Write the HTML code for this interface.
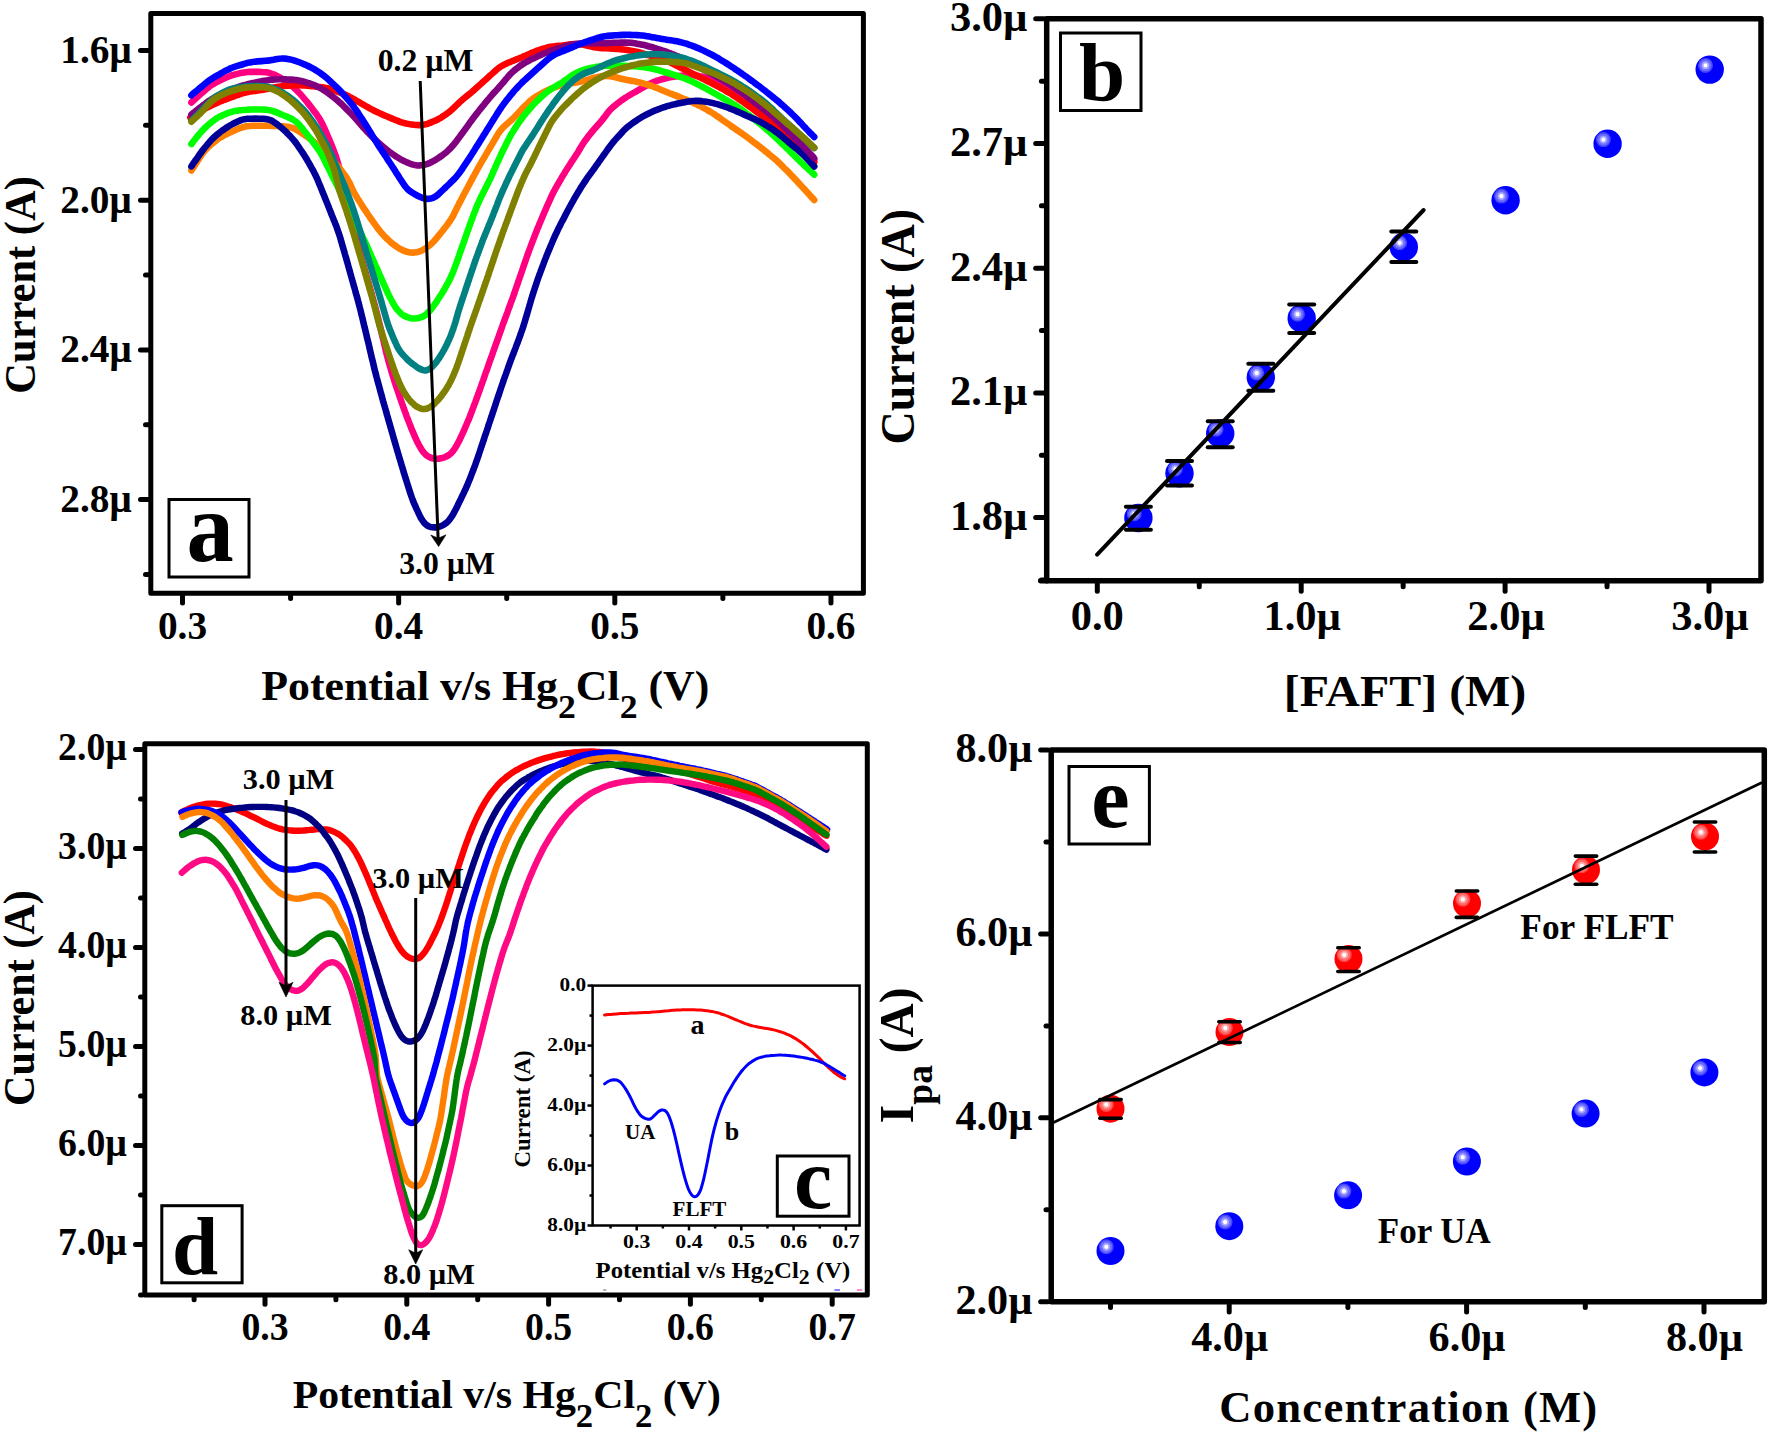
<!DOCTYPE html>
<html><head><meta charset="utf-8"><title>Figure</title>
<style>
html,body{margin:0;padding:0;background:#fff;}
svg{display:block;}
svg text{font-family:"Liberation Serif",serif;font-weight:bold;fill:#000;}
</style></head><body>
<svg width="1770" height="1436" viewBox="0 0 1770 1436">
<rect width="1770" height="1436" fill="#fff"/>
<path d="M191.4 102.4C191.9 101.9 193.3 100.6 194.3 99.7C195.3 98.8 196.3 97.9 197.3 97.0C198.3 96.1 199.3 95.3 200.3 94.4C201.3 93.5 202.3 92.6 203.3 91.7C204.3 90.8 205.3 89.9 206.3 89.1C207.3 88.2 208.3 87.4 209.4 86.6C210.5 85.8 211.5 85.1 212.7 84.4C213.8 83.7 215.0 83.0 216.1 82.4C217.3 81.8 218.5 81.2 219.7 80.6C220.9 80.0 222.1 79.4 223.3 78.8C224.5 78.3 225.7 77.7 226.9 77.2C228.1 76.7 229.4 76.2 230.6 75.8C231.9 75.3 233.2 75.0 234.4 74.6C235.7 74.3 237.0 73.9 238.3 73.6C239.6 73.3 240.9 73.0 242.2 72.8C243.5 72.5 244.8 72.3 246.1 72.2C247.4 72.1 248.8 72.0 250.1 71.9C251.4 71.9 252.8 71.9 254.1 71.9C255.4 71.9 256.8 71.9 258.1 71.9C259.4 71.9 260.8 71.9 262.1 72.0C263.4 72.0 264.7 72.1 266.0 72.3C267.3 72.5 268.6 72.8 269.8 73.1C271.1 73.5 272.3 74.0 273.6 74.4C274.8 74.9 276.0 75.5 277.2 76.1C278.4 76.6 279.5 77.3 280.7 78.0C281.8 78.6 282.9 79.4 284.0 80.2C285.1 80.9 286.1 81.7 287.2 82.5C288.3 83.3 289.4 84.1 290.4 84.9C291.5 85.7 292.5 86.5 293.5 87.4C294.5 88.3 295.5 89.1 296.5 90.1C297.4 91.0 298.3 91.9 299.2 92.9C300.1 93.9 301.0 94.9 301.9 95.9C302.8 96.9 303.6 97.9 304.5 99.0C305.3 100.0 306.2 101.0 307.1 102.0C307.9 103.1 308.7 104.1 309.5 105.1C310.4 106.2 311.2 107.3 312.0 108.3C312.8 109.4 313.6 110.4 314.4 111.5C315.2 112.6 316.0 113.6 316.8 114.7C317.5 115.8 318.3 116.9 319.0 118.0C319.7 119.1 320.4 120.3 321.0 121.4C321.7 122.6 322.3 123.8 322.8 125.0C323.4 126.2 323.9 127.4 324.5 128.6C325.0 129.8 325.6 131.1 326.1 132.3C326.6 133.5 327.2 134.7 327.7 136.0C328.2 137.2 328.8 138.4 329.3 139.6C329.8 140.9 330.3 142.1 330.8 143.3C331.3 144.6 331.8 145.8 332.3 147.0C332.8 148.3 333.3 149.5 333.8 150.8C334.2 152.0 334.7 153.2 335.2 154.5C335.6 155.7 336.1 157.0 336.5 158.3C336.9 159.5 337.3 160.8 337.7 162.1C338.0 163.4 338.3 164.7 338.7 166.0C339.0 167.2 339.3 168.5 339.6 169.8C340.0 171.1 340.3 172.4 340.6 173.7C340.9 175.0 341.2 176.3 341.6 177.6C341.9 178.9 342.2 180.2 342.5 181.5C342.9 182.8 343.2 184.1 343.5 185.4C343.8 186.6 344.2 187.9 344.5 189.2C344.8 190.5 345.2 191.8 345.5 193.1C345.9 194.4 346.2 195.7 346.6 197.0C346.9 198.2 347.3 199.5 347.7 200.8C348.0 202.1 348.4 203.4 348.7 204.7C349.1 205.9 349.4 207.2 349.8 208.5C350.1 209.8 350.5 211.1 350.8 212.4C351.1 213.7 351.5 215.0 351.8 216.3C352.1 217.6 352.4 218.9 352.7 220.1C353.1 221.4 353.4 222.7 353.7 224.0C354.0 225.3 354.3 226.6 354.6 227.9C355.0 229.2 355.3 230.5 355.6 231.8C355.9 233.1 356.2 234.4 356.5 235.7C356.8 237.0 357.1 238.3 357.4 239.6C357.6 240.9 357.9 242.2 358.2 243.5C358.5 244.8 358.8 246.1 359.1 247.4C359.4 248.7 359.7 250.0 359.9 251.3C360.2 252.6 360.5 253.9 360.9 255.2C361.2 256.5 361.5 257.8 361.8 259.1C362.2 260.4 362.5 261.7 362.9 263.0C363.2 264.2 363.6 265.5 364.0 266.8C364.3 268.1 364.7 269.4 365.0 270.7C365.4 271.9 365.8 273.2 366.1 274.5C366.5 275.8 366.9 277.1 367.2 278.4C367.6 279.6 368.0 280.9 368.3 282.2C368.7 283.5 369.0 284.8 369.4 286.1C369.8 287.3 370.1 288.6 370.5 289.9C370.8 291.2 371.2 292.5 371.6 293.8C371.9 295.0 372.3 296.3 372.6 297.6C373.0 298.9 373.3 300.2 373.7 301.5C374.1 302.7 374.4 304.0 374.8 305.3C375.1 306.6 375.4 307.9 375.8 309.2C376.1 310.5 376.4 311.8 376.8 313.1C377.1 314.4 377.4 315.6 377.8 316.9C378.1 318.2 378.4 319.5 378.7 320.8C379.0 322.1 379.4 323.4 379.7 324.7C380.0 326.0 380.3 327.3 380.6 328.6C380.9 329.9 381.2 331.2 381.5 332.5C381.8 333.8 382.1 335.1 382.4 336.4C382.8 337.7 383.1 339.0 383.4 340.3C383.7 341.6 384.0 342.9 384.3 344.2C384.6 345.5 384.9 346.8 385.2 348.1C385.5 349.4 385.8 350.7 386.1 352.0C386.4 353.2 386.7 354.5 387.1 355.8C387.4 357.1 387.8 358.4 388.1 359.7C388.5 361.0 388.8 362.3 389.2 363.5C389.6 364.8 389.9 366.1 390.3 367.4C390.7 368.7 391.1 369.9 391.4 371.2C391.8 372.5 392.2 373.8 392.6 375.1C393.0 376.3 393.4 377.6 393.8 378.9C394.2 380.1 394.6 381.4 395.0 382.7C395.4 384.0 395.8 385.2 396.2 386.5C396.7 387.7 397.1 389.0 397.5 390.3C397.9 391.5 398.4 392.8 398.8 394.1C399.2 395.3 399.6 396.6 400.1 397.9C400.5 399.1 401.0 400.4 401.4 401.6C401.8 402.9 402.3 404.1 402.7 405.4C403.2 406.7 403.6 407.9 404.1 409.2C404.5 410.4 405.0 411.7 405.5 412.9C405.9 414.2 406.4 415.4 406.8 416.7C407.3 417.9 407.8 419.2 408.3 420.4C408.7 421.7 409.2 422.9 409.7 424.1C410.2 425.4 410.7 426.6 411.2 427.9C411.7 429.1 412.2 430.3 412.7 431.6C413.2 432.8 413.7 434.0 414.3 435.2C414.8 436.5 415.4 437.7 415.9 438.9C416.5 440.1 417.1 441.3 417.6 442.5C418.2 443.7 418.8 444.9 419.5 446.0C420.1 447.2 420.8 448.4 421.5 449.5C422.2 450.6 423.0 451.6 423.8 452.6C424.7 453.6 425.6 454.5 426.6 455.3C427.6 456.1 428.7 456.8 429.8 457.3C431.0 457.9 432.2 458.3 433.4 458.5C434.7 458.8 436.0 458.9 437.3 458.8C438.5 458.8 439.8 458.6 441.1 458.3C442.4 458.1 443.6 457.7 444.8 457.2C446.0 456.7 447.2 456.1 448.3 455.4C449.4 454.7 450.4 453.9 451.3 453.0C452.2 452.1 453.0 451.1 453.8 450.0C454.6 449.0 455.2 447.9 455.9 446.7C456.6 445.6 457.2 444.4 457.8 443.2C458.5 442.1 459.1 440.9 459.7 439.7C460.3 438.5 460.8 437.3 461.4 436.1C462.0 434.9 462.5 433.7 463.1 432.4C463.6 431.2 464.2 430.0 464.7 428.8C465.2 427.6 465.8 426.3 466.3 425.1C466.8 423.9 467.3 422.7 467.8 421.4C468.4 420.2 468.9 419.0 469.4 417.7C469.9 416.5 470.4 415.3 470.8 414.0C471.3 412.8 471.8 411.5 472.3 410.3C472.7 409.0 473.2 407.8 473.7 406.5C474.1 405.3 474.6 404.0 475.1 402.8C475.5 401.5 476.0 400.3 476.5 399.0C476.9 397.8 477.4 396.5 477.8 395.3C478.3 394.0 478.7 392.8 479.2 391.5C479.6 390.2 480.1 389.0 480.5 387.7C481.0 386.5 481.4 385.2 481.8 384.0C482.3 382.7 482.7 381.4 483.2 380.2C483.6 378.9 484.1 377.7 484.5 376.4C484.9 375.2 485.4 373.9 485.8 372.6C486.3 371.4 486.7 370.1 487.2 368.9C487.6 367.6 488.1 366.4 488.5 365.1C488.9 363.8 489.4 362.6 489.8 361.3C490.3 360.1 490.7 358.8 491.2 357.6C491.6 356.3 492.1 355.0 492.5 353.8C492.9 352.5 493.4 351.3 493.8 350.0C494.3 348.8 494.7 347.5 495.2 346.3C495.6 345.0 496.1 343.7 496.5 342.5C497.0 341.2 497.4 340.0 497.9 338.7C498.3 337.5 498.8 336.2 499.2 334.9C499.6 333.7 500.1 332.4 500.5 331.2C501.0 329.9 501.4 328.7 501.9 327.4C502.3 326.1 502.8 324.9 503.2 323.6C503.7 322.4 504.1 321.1 504.6 319.9C505.0 318.6 505.5 317.4 506.0 316.1C506.4 314.9 506.9 313.6 507.4 312.4C507.8 311.1 508.3 309.9 508.7 308.6C509.2 307.4 509.7 306.1 510.1 304.9C510.6 303.6 511.0 302.4 511.5 301.1C512.0 299.9 512.4 298.6 512.9 297.4C513.3 296.1 513.8 294.8 514.2 293.6C514.6 292.3 515.1 291.1 515.5 289.8C515.9 288.5 516.4 287.3 516.8 286.0C517.2 284.8 517.7 283.5 518.1 282.2C518.5 281.0 518.9 279.7 519.4 278.4C519.8 277.2 520.2 275.9 520.7 274.7C521.1 273.4 521.5 272.1 522.0 270.9C522.4 269.6 522.8 268.4 523.3 267.1C523.7 265.8 524.2 264.6 524.6 263.3C525.0 262.1 525.5 260.8 525.9 259.5C526.4 258.3 526.8 257.0 527.2 255.8C527.7 254.5 528.1 253.3 528.6 252.0C529.0 250.8 529.5 249.5 530.0 248.3C530.4 247.0 530.9 245.8 531.4 244.5C531.9 243.3 532.3 242.0 532.8 240.8C533.3 239.5 533.8 238.3 534.2 237.0C534.7 235.8 535.2 234.5 535.7 233.3C536.2 232.1 536.7 230.8 537.1 229.6C537.6 228.3 538.2 227.1 538.7 225.9C539.2 224.7 539.7 223.4 540.2 222.2C540.7 221.0 541.2 219.7 541.8 218.5C542.3 217.3 542.8 216.1 543.3 214.8C543.8 213.6 544.4 212.4 544.9 211.1C545.4 209.9 546.0 208.7 546.5 207.5C547.0 206.3 547.6 205.0 548.1 203.8C548.7 202.6 549.2 201.4 549.7 200.2C550.3 199.0 550.8 197.7 551.4 196.5C552.0 195.3 552.5 194.1 553.1 192.9C553.7 191.7 554.4 190.6 555.0 189.4C555.6 188.2 556.3 187.1 556.9 185.9C557.6 184.7 558.3 183.6 558.9 182.4C559.6 181.3 560.3 180.1 561.0 179.0C561.6 177.8 562.3 176.7 563.0 175.6C563.7 174.4 564.4 173.3 565.1 172.1C565.8 171.0 566.5 169.9 567.2 168.7C567.9 167.6 568.6 166.5 569.3 165.4C570.1 164.2 570.8 163.1 571.5 162.0C572.2 160.9 573.0 159.8 573.7 158.7C574.5 157.6 575.2 156.4 575.9 155.3C576.6 154.2 577.4 153.1 578.1 152.0C578.8 150.8 579.4 149.7 580.1 148.5C580.8 147.4 581.5 146.2 582.2 145.1C582.9 144.0 583.6 142.9 584.3 141.8C585.1 140.7 585.9 139.6 586.7 138.6C587.5 137.5 588.3 136.4 589.1 135.4C589.9 134.3 590.8 133.3 591.6 132.2C592.4 131.2 593.3 130.2 594.2 129.2C595.0 128.2 595.9 127.2 596.8 126.2C597.7 125.2 598.6 124.2 599.5 123.2C600.3 122.2 601.2 121.2 602.1 120.1C602.9 119.1 603.7 118.1 604.5 117.0C605.3 115.9 606.1 114.9 606.9 113.8C607.7 112.8 608.5 111.7 609.4 110.7C610.3 109.8 611.2 108.8 612.2 107.9C613.1 107.0 614.2 106.2 615.2 105.3C616.2 104.5 617.3 103.7 618.3 102.8C619.4 102.0 620.4 101.2 621.5 100.4C622.6 99.6 623.7 98.9 624.8 98.1C625.9 97.4 627.0 96.7 628.2 96.0C629.3 95.3 630.5 94.7 631.6 94.0C632.8 93.3 633.9 92.7 635.1 92.0C636.2 91.3 637.4 90.7 638.6 90.0C639.7 89.4 640.9 88.7 642.0 88.0C643.2 87.4 644.3 86.7 645.5 86.1C646.7 85.4 647.8 84.8 649.0 84.2C650.2 83.6 651.4 83.0 652.6 82.5C653.8 81.9 655.1 81.5 656.3 81.0C657.6 80.6 658.8 80.2 660.1 79.8C661.4 79.5 662.7 79.1 664.0 78.8C665.3 78.5 666.6 78.2 667.9 77.9C669.2 77.6 670.5 77.3 671.8 77.1C673.1 76.8 674.4 76.6 675.7 76.4C677.0 76.2 678.3 76.0 679.7 75.9C681.0 75.7 682.3 75.6 683.6 75.5C685.0 75.4 686.3 75.4 687.6 75.3C689.0 75.3 690.3 75.2 691.6 75.3C692.9 75.3 694.3 75.4 695.6 75.6C696.9 75.7 698.2 75.9 699.5 76.1C700.8 76.4 702.1 76.6 703.4 76.9C704.7 77.1 706.0 77.4 707.3 77.8C708.6 78.1 709.9 78.5 711.1 78.9C712.4 79.4 713.6 79.9 714.8 80.4C716.1 80.9 717.3 81.4 718.5 81.9C719.7 82.5 721.0 83.0 722.2 83.6C723.4 84.1 724.6 84.7 725.8 85.3C727.0 85.9 728.1 86.5 729.3 87.1C730.5 87.8 731.6 88.4 732.8 89.1C734.0 89.7 735.1 90.4 736.3 91.0C737.5 91.7 738.6 92.4 739.8 93.0C740.9 93.7 742.0 94.4 743.2 95.1C744.3 95.8 745.4 96.6 746.5 97.3C747.6 98.1 748.7 98.8 749.8 99.6C750.9 100.3 752.0 101.1 753.1 101.8C754.2 102.6 755.3 103.4 756.4 104.1C757.5 104.9 758.5 105.7 759.6 106.5C760.7 107.3 761.8 108.0 762.8 108.8C763.9 109.6 765.0 110.4 766.0 111.2C767.1 112.0 768.2 112.8 769.2 113.6C770.3 114.5 771.3 115.3 772.4 116.1C773.4 117.0 774.4 117.8 775.4 118.7C776.4 119.6 777.4 120.5 778.3 121.4C779.3 122.4 780.2 123.3 781.2 124.2C782.1 125.2 783.1 126.1 784.0 127.1C784.9 128.0 785.9 128.9 786.8 129.9C787.8 130.8 788.7 131.8 789.6 132.8C790.5 133.7 791.4 134.7 792.3 135.7C793.2 136.7 794.1 137.7 795.0 138.7C795.9 139.7 796.8 140.7 797.6 141.7C798.5 142.7 799.4 143.7 800.3 144.7C801.2 145.7 802.0 146.7 802.9 147.7C803.8 148.7 804.7 149.7 805.6 150.7C806.5 151.7 807.3 152.7 808.2 153.7C809.1 154.7 810.0 155.6 810.9 156.6C811.8 157.6 813.0 159.0 813.6 159.6C814.1 160.2 814.1 160.2 814.2 160.3" fill="none" stroke="#ff0080" stroke-width="6.6" stroke-linecap="round" stroke-linejoin="round"/>
<path d="M190.3 117.6C190.9 117.3 192.6 116.2 193.7 115.5C194.9 114.8 196.0 114.1 197.1 113.4C198.3 112.7 199.4 112.0 200.5 111.3C201.7 110.6 202.8 109.9 204.0 109.2C205.1 108.6 206.3 107.9 207.5 107.3C208.6 106.7 209.8 106.1 211.0 105.6C212.2 105.0 213.5 104.5 214.7 103.9C215.9 103.4 217.1 102.9 218.4 102.3C219.6 101.8 220.8 101.3 222.0 100.8C223.3 100.3 224.5 99.8 225.8 99.3C227.0 98.9 228.3 98.4 229.5 97.9C230.8 97.5 232.0 97.0 233.3 96.6C234.5 96.1 235.8 95.6 237.0 95.2C238.3 94.8 239.5 94.3 240.8 93.9C242.1 93.5 243.3 93.1 244.6 92.8C245.9 92.4 247.2 92.1 248.5 91.9C249.8 91.6 251.1 91.4 252.4 91.2C253.8 91.0 255.1 90.9 256.4 90.7C257.7 90.5 259.0 90.3 260.4 90.1C261.7 89.9 263.0 89.8 264.3 89.5C265.6 89.3 266.9 89.1 268.2 88.8C269.5 88.6 270.8 88.3 272.1 88.0C273.4 87.7 274.7 87.4 276.0 87.1C277.3 86.9 278.7 86.6 280.0 86.4C281.3 86.2 282.6 86.1 283.9 86.0C285.2 85.8 286.6 85.8 287.9 85.7C289.2 85.6 290.6 85.5 291.9 85.5C293.2 85.4 294.6 85.3 295.9 85.3C297.2 85.3 298.6 85.3 299.9 85.3C301.2 85.4 302.5 85.4 303.9 85.5C305.2 85.6 306.5 85.7 307.9 85.8C309.2 85.9 310.5 86.0 311.8 86.1C313.2 86.3 314.5 86.4 315.8 86.6C317.1 86.7 318.5 86.9 319.8 87.0C321.1 87.2 322.4 87.4 323.7 87.6C325.1 87.8 326.4 88.0 327.7 88.3C328.9 88.6 330.2 89.0 331.5 89.4C332.8 89.8 334.0 90.2 335.3 90.6C336.5 91.1 337.8 91.6 339.0 92.1C340.2 92.5 341.5 93.0 342.7 93.6C343.9 94.1 345.1 94.6 346.3 95.2C347.5 95.8 348.7 96.4 349.9 97.1C351.0 97.7 352.2 98.3 353.4 99.0C354.5 99.6 355.7 100.3 356.9 101.0C358.0 101.6 359.2 102.3 360.3 102.9C361.5 103.6 362.6 104.3 363.8 104.9C365.0 105.6 366.1 106.3 367.3 106.9C368.4 107.6 369.6 108.2 370.8 108.9C371.9 109.5 373.1 110.1 374.3 110.7C375.5 111.3 376.7 111.9 377.9 112.4C379.1 113.0 380.3 113.5 381.6 114.1C382.8 114.6 384.0 115.1 385.2 115.7C386.4 116.2 387.7 116.7 388.9 117.3C390.1 117.8 391.3 118.3 392.6 118.8C393.8 119.3 395.0 119.9 396.3 120.3C397.5 120.8 398.7 121.3 400.0 121.8C401.3 122.2 402.5 122.6 403.8 122.9C405.1 123.3 406.4 123.6 407.7 123.9C409.0 124.2 410.3 124.4 411.6 124.6C412.9 124.8 414.2 125.0 415.5 125.0C416.8 125.1 418.2 125.1 419.5 125.1C420.8 125.0 422.1 124.9 423.4 124.7C424.7 124.5 426.0 124.2 427.3 123.8C428.5 123.4 429.8 122.9 431.0 122.5C432.2 122.0 433.4 121.4 434.7 120.9C435.9 120.3 437.1 119.8 438.2 119.1C439.4 118.5 440.6 117.9 441.7 117.2C442.8 116.5 443.9 115.7 445.0 115.0C446.1 114.2 447.2 113.4 448.3 112.6C449.3 111.8 450.3 111.0 451.3 110.1C452.3 109.2 453.3 108.3 454.3 107.4C455.2 106.5 456.2 105.5 457.1 104.6C458.1 103.7 459.1 102.8 460.0 101.9C461.0 101.0 462.0 100.1 463.0 99.2C464.1 98.4 465.1 97.5 466.1 96.7C467.1 95.8 468.2 95.0 469.2 94.2C470.2 93.3 471.2 92.4 472.3 91.6C473.3 90.7 474.3 89.8 475.3 88.9C476.3 88.0 477.2 87.1 478.2 86.3C479.2 85.4 480.2 84.5 481.2 83.6C482.2 82.7 483.2 81.8 484.2 80.9C485.2 80.0 486.2 79.1 487.2 78.2C488.1 77.3 489.1 76.4 490.1 75.5C491.1 74.7 492.1 73.8 493.1 72.9C494.1 72.0 495.1 71.1 496.1 70.2C497.1 69.4 498.1 68.5 499.2 67.7C500.2 67.0 501.3 66.2 502.5 65.6C503.6 64.9 504.8 64.3 506.0 63.8C507.2 63.2 508.4 62.7 509.7 62.2C510.9 61.7 512.1 61.2 513.4 60.7C514.6 60.2 515.8 59.7 517.1 59.2C518.3 58.7 519.5 58.2 520.8 57.7C522.0 57.2 523.2 56.6 524.4 56.1C525.7 55.6 526.9 55.0 528.1 54.5C529.3 54.0 530.6 53.4 531.8 52.9C533.0 52.4 534.2 51.9 535.5 51.4C536.7 50.9 538.0 50.4 539.2 50.0C540.5 49.5 541.7 49.1 543.0 48.7C544.3 48.3 545.6 48.0 546.8 47.7C548.1 47.3 549.4 47.1 550.7 46.8C552.0 46.6 553.4 46.4 554.7 46.3C556.0 46.1 557.3 46.0 558.6 45.9C560.0 45.7 561.3 45.6 562.6 45.5C563.9 45.3 565.2 45.1 566.6 44.9C567.9 44.7 569.2 44.5 570.5 44.3C571.8 44.2 573.1 44.1 574.5 44.1C575.8 44.1 577.1 44.1 578.4 44.2C579.7 44.3 581.1 44.4 582.4 44.6C583.7 44.9 585.0 45.2 586.3 45.4C587.5 45.7 588.8 46.1 590.1 46.4C591.4 46.7 592.7 47.0 594.0 47.2C595.3 47.4 596.7 47.6 598.0 47.7C599.3 47.9 600.6 48.0 601.9 48.1C603.3 48.2 604.6 48.2 605.9 48.3C607.3 48.4 608.6 48.4 609.9 48.4C611.3 48.5 612.6 48.6 613.9 48.6C615.3 48.7 616.6 48.8 617.9 49.0C619.2 49.1 620.6 49.2 621.9 49.4C623.2 49.5 624.5 49.7 625.9 49.8C627.2 50.0 628.5 50.2 629.8 50.4C631.1 50.6 632.4 50.8 633.7 51.1C635.0 51.4 636.3 51.7 637.6 52.0C638.9 52.4 640.2 52.7 641.5 53.1C642.8 53.4 644.0 53.8 645.3 54.2C646.6 54.5 647.9 54.9 649.2 55.3C650.4 55.6 651.7 56.0 653.0 56.4C654.3 56.8 655.6 57.2 656.8 57.6C658.1 58.0 659.4 58.4 660.6 58.8C661.9 59.2 663.2 59.6 664.4 60.1C665.7 60.5 666.9 61.0 668.1 61.5C669.3 62.1 670.5 62.6 671.8 63.2C673.0 63.8 674.1 64.4 675.3 65.0C676.5 65.6 677.7 66.2 678.9 66.7C680.1 67.3 681.3 67.9 682.5 68.5C683.7 69.1 684.9 69.7 686.1 70.3C687.3 70.9 688.5 71.5 689.7 72.1C690.8 72.7 692.0 73.3 693.2 73.9C694.4 74.5 695.6 75.1 696.8 75.7C698.0 76.3 699.2 76.9 700.4 77.5C701.6 78.1 702.8 78.7 704.0 79.3C705.2 79.9 706.3 80.5 707.5 81.1C708.7 81.7 709.9 82.3 711.1 82.9C712.3 83.5 713.5 84.1 714.7 84.7C715.8 85.3 717.0 85.9 718.2 86.6C719.4 87.2 720.5 87.9 721.7 88.5C722.9 89.2 724.0 89.8 725.2 90.5C726.3 91.1 727.5 91.8 728.6 92.5C729.8 93.2 730.9 93.8 732.1 94.5C733.2 95.3 734.3 96.0 735.4 96.7C736.5 97.5 737.6 98.2 738.7 99.0C739.8 99.7 740.9 100.5 742.0 101.2C743.1 102.0 744.2 102.7 745.3 103.5C746.4 104.3 747.5 105.0 748.6 105.8C749.6 106.6 750.7 107.4 751.8 108.2C752.9 109.0 753.9 109.8 755.0 110.6C756.1 111.4 757.1 112.2 758.2 113.0C759.3 113.8 760.3 114.6 761.4 115.4C762.4 116.2 763.5 117.0 764.6 117.8C765.6 118.7 766.6 119.5 767.7 120.3C768.7 121.1 769.8 122.0 770.8 122.8C771.8 123.7 772.9 124.5 773.9 125.4C774.9 126.2 776.0 127.0 777.0 127.9C778.0 128.7 779.0 129.6 780.1 130.5C781.1 131.3 782.1 132.2 783.0 133.1C784.0 134.0 785.0 134.9 786.0 135.8C787.0 136.7 787.9 137.7 788.9 138.6C789.9 139.5 790.9 140.4 791.8 141.3C792.8 142.2 793.8 143.1 794.7 144.0C795.7 144.9 796.7 145.9 797.7 146.8C798.6 147.7 799.6 148.6 800.6 149.5C801.5 150.4 802.5 151.3 803.5 152.3C804.5 153.2 805.4 154.1 806.4 155.0C807.4 155.9 808.3 156.8 809.3 157.7C810.2 158.6 811.3 159.6 812.1 160.4C813.0 161.2 813.9 162.0 814.2 162.4" fill="none" stroke="#ff0000" stroke-width="6.6" stroke-linecap="round" stroke-linejoin="round"/>
<path d="M191.4 170.5C191.7 169.9 192.8 168.3 193.5 167.2C194.3 166.0 195.0 164.9 195.7 163.8C196.4 162.7 197.2 161.6 197.9 160.4C198.6 159.3 199.3 158.2 200.1 157.1C200.8 156.0 201.6 154.9 202.3 153.8C203.1 152.7 203.9 151.7 204.8 150.7C205.7 149.7 206.6 148.8 207.5 147.8C208.5 146.9 209.5 146.0 210.5 145.1C211.5 144.3 212.5 143.4 213.5 142.6C214.5 141.7 215.6 140.9 216.6 140.1C217.7 139.3 218.8 138.5 219.9 137.8C221.0 137.1 222.2 136.4 223.3 135.8C224.5 135.2 225.7 134.6 226.9 134.0C228.1 133.4 229.3 132.8 230.5 132.2C231.7 131.7 232.9 131.1 234.1 130.6C235.3 130.0 236.5 129.5 237.8 129.0C239.0 128.5 240.2 128.0 241.5 127.6C242.7 127.1 244.0 126.8 245.3 126.5C246.5 126.2 247.8 126.1 249.2 126.0C250.5 125.8 251.8 125.8 253.1 125.8C254.4 125.8 255.8 125.8 257.1 125.8C258.4 125.8 259.8 125.8 261.1 125.8C262.4 125.8 263.8 125.8 265.1 125.8C266.4 125.8 267.8 125.8 269.1 125.8C270.4 125.8 271.8 125.9 273.1 125.9C274.4 125.9 275.8 126.0 277.1 126.0C278.4 126.1 279.8 126.2 281.1 126.2C282.4 126.3 283.8 126.4 285.1 126.5C286.4 126.6 287.7 126.7 289.0 127.0C290.3 127.2 291.5 127.6 292.7 128.0C293.9 128.5 295.1 129.1 296.2 129.7C297.4 130.3 298.5 131.0 299.6 131.7C300.7 132.4 301.9 133.2 303.0 133.9C304.1 134.6 305.2 135.3 306.3 136.1C307.4 136.8 308.5 137.6 309.6 138.4C310.7 139.1 311.7 139.9 312.7 140.8C313.8 141.6 314.7 142.5 315.7 143.4C316.7 144.3 317.6 145.3 318.6 146.2C319.5 147.2 320.5 148.1 321.4 149.0C322.4 150.0 323.3 150.9 324.2 151.9C325.2 152.8 326.1 153.8 327.1 154.7C328.0 155.6 329.0 156.6 329.9 157.5C330.8 158.5 331.8 159.4 332.7 160.4C333.6 161.3 334.6 162.3 335.4 163.3C336.3 164.3 337.2 165.3 338.1 166.3C338.9 167.3 339.7 168.4 340.5 169.4C341.3 170.5 342.1 171.6 342.9 172.6C343.7 173.7 344.5 174.8 345.3 175.9C346.1 176.9 346.8 178.0 347.5 179.2C348.2 180.3 348.8 181.5 349.4 182.6C350.0 183.8 350.5 185.0 351.0 186.2C351.6 187.5 352.1 188.7 352.7 189.9C353.3 191.1 353.9 192.2 354.6 193.4C355.2 194.5 355.9 195.7 356.6 196.8C357.3 198.0 358.0 199.1 358.7 200.2C359.4 201.4 360.1 202.5 360.8 203.6C361.6 204.7 362.3 205.8 363.0 207.0C363.7 208.1 364.5 209.2 365.2 210.3C366.0 211.4 366.7 212.5 367.4 213.6C368.2 214.7 368.9 215.8 369.7 216.9C370.4 218.0 371.2 219.1 372.0 220.2C372.7 221.3 373.5 222.4 374.3 223.5C375.0 224.6 375.8 225.7 376.6 226.7C377.4 227.8 378.2 228.9 379.0 229.9C379.8 231.0 380.6 232.0 381.5 233.0C382.4 234.0 383.3 235.0 384.2 236.0C385.1 236.9 386.1 237.9 387.0 238.8C388.0 239.7 388.9 240.6 389.9 241.5C390.9 242.4 391.9 243.3 393.0 244.1C394.0 244.9 395.1 245.7 396.2 246.4C397.3 247.2 398.4 247.9 399.6 248.6C400.7 249.2 401.9 249.9 403.1 250.4C404.3 250.9 405.5 251.4 406.8 251.7C408.0 252.1 409.3 252.4 410.6 252.5C411.9 252.6 413.2 252.6 414.5 252.5C415.7 252.4 417.0 252.2 418.3 251.8C419.5 251.5 420.7 251.0 421.9 250.5C423.1 249.9 424.2 249.2 425.3 248.5C426.5 247.8 427.5 247.0 428.5 246.2C429.6 245.4 430.6 244.5 431.5 243.6C432.5 242.7 433.4 241.7 434.3 240.8C435.2 239.8 436.1 238.8 437.0 237.7C437.8 236.7 438.6 235.7 439.5 234.6C440.3 233.6 441.1 232.6 442.0 231.5C442.8 230.5 443.6 229.4 444.4 228.4C445.2 227.3 446.1 226.2 446.9 225.2C447.7 224.1 448.5 223.1 449.2 222.0C450.0 220.9 450.7 219.8 451.4 218.7C452.1 217.5 452.8 216.4 453.4 215.2C454.0 214.0 454.6 212.8 455.2 211.6C455.8 210.4 456.3 209.2 456.9 208.0C457.5 206.8 458.1 205.6 458.7 204.4C459.3 203.2 459.9 202.1 460.5 200.9C461.1 199.7 461.7 198.5 462.4 197.3C463.0 196.2 463.6 195.0 464.2 193.8C464.9 192.6 465.5 191.5 466.1 190.3C466.7 189.1 467.4 187.9 468.0 186.8C468.6 185.6 469.3 184.4 469.9 183.2C470.5 182.1 471.1 180.9 471.8 179.7C472.4 178.5 473.0 177.4 473.7 176.2C474.3 175.0 475.0 173.8 475.6 172.7C476.2 171.5 476.9 170.3 477.5 169.2C478.2 168.0 478.8 166.9 479.5 165.7C480.2 164.5 480.8 163.4 481.5 162.2C482.1 161.1 482.8 159.9 483.5 158.8C484.2 157.6 484.8 156.5 485.5 155.3C486.2 154.2 486.9 153.0 487.5 151.9C488.2 150.7 488.9 149.6 489.6 148.4C490.2 147.3 490.9 146.1 491.6 145.0C492.3 143.8 492.9 142.7 493.6 141.5C494.3 140.4 495.0 139.2 495.6 138.1C496.3 136.9 497.0 135.8 497.7 134.6C498.4 133.5 499.1 132.4 499.9 131.3C500.7 130.3 501.5 129.3 502.4 128.3C503.3 127.3 504.2 126.4 505.2 125.5C506.2 124.6 507.2 123.8 508.2 122.9C509.2 122.1 510.2 121.2 511.2 120.3C512.2 119.4 513.1 118.4 514.0 117.5C515.0 116.5 515.9 115.5 516.8 114.6C517.7 113.6 518.6 112.6 519.5 111.6C520.4 110.6 521.3 109.7 522.2 108.7C523.2 107.7 524.1 106.8 525.0 105.9C526.0 104.9 526.9 104.0 527.9 103.1C528.8 102.1 529.8 101.2 530.8 100.4C531.9 99.6 532.9 98.8 534.0 98.0C535.1 97.2 536.2 96.5 537.3 95.8C538.5 95.1 539.6 94.5 540.8 93.8C541.9 93.2 543.1 92.5 544.3 91.9C545.5 91.3 546.7 90.7 547.9 90.1C549.1 89.6 550.3 89.0 551.5 88.5C552.7 88.0 554.0 87.5 555.3 87.1C556.5 86.7 557.8 86.3 559.1 85.9C560.3 85.6 561.6 85.2 562.9 84.9C564.2 84.6 565.5 84.3 566.8 84.0C568.1 83.8 569.4 83.5 570.8 83.3C572.1 83.1 573.4 82.9 574.7 82.7C576.0 82.5 577.3 82.4 578.6 82.1C579.9 81.9 581.2 81.7 582.5 81.4C583.8 81.0 585.1 80.6 586.3 80.2C587.6 79.8 588.8 79.4 590.1 79.0C591.4 78.6 592.6 78.1 593.9 77.8C595.2 77.4 596.5 77.1 597.8 76.9C599.1 76.6 600.4 76.4 601.7 76.2C603.0 76.0 604.3 75.9 605.6 75.9C607.0 75.9 608.3 76.0 609.6 76.1C610.9 76.3 612.2 76.6 613.5 76.8C614.8 77.1 616.0 77.5 617.3 77.8C618.6 78.1 619.9 78.4 621.2 78.7C622.5 79.0 623.8 79.3 625.1 79.5C626.4 79.8 627.8 80.0 629.1 80.3C630.4 80.6 631.7 80.8 633.0 81.1C634.3 81.3 635.6 81.6 636.9 81.9C638.2 82.2 639.5 82.5 640.8 82.8C642.1 83.1 643.4 83.5 644.6 83.9C645.9 84.2 647.2 84.6 648.5 85.0C649.7 85.4 651.0 85.8 652.3 86.2C653.5 86.7 654.8 87.2 656.0 87.7C657.2 88.1 658.5 88.7 659.7 89.2C660.9 89.7 662.2 90.2 663.4 90.7C664.6 91.2 665.9 91.7 667.1 92.2C668.3 92.7 669.6 93.2 670.8 93.7C672.1 94.2 673.3 94.6 674.6 95.1C675.8 95.6 677.0 96.1 678.3 96.5C679.5 97.0 680.8 97.5 682.0 98.0C683.3 98.5 684.5 99.0 685.7 99.5C686.9 100.0 688.2 100.6 689.4 101.1C690.6 101.6 691.8 102.2 693.1 102.7C694.3 103.2 695.5 103.8 696.7 104.4C697.9 104.9 699.1 105.5 700.3 106.1C701.5 106.7 702.6 107.4 703.8 108.0C705.0 108.7 706.1 109.3 707.3 110.0C708.4 110.6 709.6 111.3 710.7 112.0C711.9 112.7 713.0 113.4 714.1 114.1C715.2 114.9 716.3 115.6 717.4 116.4C718.5 117.1 719.6 117.9 720.7 118.7C721.8 119.4 722.9 120.2 723.9 121.0C725.0 121.7 726.1 122.5 727.2 123.3C728.3 124.0 729.4 124.8 730.5 125.6C731.6 126.3 732.7 127.1 733.8 127.8C734.9 128.6 736.0 129.4 737.1 130.1C738.2 130.9 739.3 131.6 740.4 132.4C741.5 133.2 742.6 133.9 743.6 134.7C744.7 135.5 745.8 136.3 746.9 137.0C747.9 137.8 749.0 138.6 750.1 139.4C751.2 140.2 752.2 141.0 753.3 141.8C754.3 142.6 755.4 143.4 756.5 144.2C757.5 145.0 758.6 145.9 759.7 146.7C760.7 147.5 761.8 148.3 762.8 149.1C763.8 150.0 764.9 150.8 765.9 151.7C766.9 152.5 768.0 153.3 769.0 154.2C770.0 155.0 771.1 155.9 772.1 156.7C773.1 157.6 774.2 158.4 775.2 159.3C776.2 160.2 777.1 161.1 778.1 162.0C779.1 162.9 780.0 163.8 781.0 164.7C781.9 165.7 782.9 166.6 783.8 167.6C784.8 168.5 785.7 169.5 786.7 170.4C787.6 171.3 788.5 172.3 789.5 173.2C790.4 174.2 791.3 175.2 792.2 176.1C793.2 177.1 794.1 178.1 795.0 179.1C795.9 180.0 796.8 181.0 797.7 182.0C798.6 183.0 799.5 183.9 800.4 184.9C801.3 185.9 802.2 186.9 803.1 187.9C804.0 188.8 804.9 189.8 805.8 190.8C806.7 191.8 807.6 192.8 808.5 193.7C809.4 194.7 810.3 195.7 811.1 196.6C812.0 197.5 813.1 198.8 813.6 199.3C814.1 199.9 814.1 199.9 814.2 200.0" fill="none" stroke="#ff8000" stroke-width="6.6" stroke-linecap="round" stroke-linejoin="round"/>
<path d="M191.4 144.1C191.8 143.5 193.0 142.0 193.8 140.9C194.7 139.9 195.5 138.8 196.3 137.8C197.1 136.7 197.9 135.7 198.8 134.7C199.6 133.6 200.5 132.6 201.4 131.6C202.3 130.6 203.2 129.7 204.1 128.7C205.1 127.8 206.1 126.9 207.0 126.0C208.0 125.1 209.0 124.3 210.1 123.4C211.1 122.5 212.1 121.7 213.1 120.9C214.2 120.1 215.2 119.3 216.4 118.5C217.5 117.8 218.6 117.2 219.8 116.6C220.9 115.9 222.2 115.4 223.4 114.9C224.6 114.3 225.8 113.8 227.1 113.3C228.3 112.9 229.5 112.4 230.8 112.1C232.1 111.7 233.4 111.4 234.7 111.1C236.0 110.9 237.3 110.7 238.6 110.5C239.9 110.3 241.2 110.1 242.6 110.0C243.9 109.8 245.2 109.7 246.5 109.7C247.9 109.6 249.2 109.6 250.5 109.5C251.9 109.5 253.2 109.5 254.5 109.5C255.9 109.5 257.2 109.5 258.5 109.5C259.9 109.5 261.2 109.5 262.5 109.5C263.8 109.6 265.2 109.6 266.5 109.7C267.8 109.9 269.1 110.1 270.4 110.4C271.6 110.7 272.9 111.1 274.1 111.5C275.4 111.9 276.6 112.4 277.8 112.9C279.1 113.4 280.3 113.9 281.5 114.5C282.8 115.0 284.0 115.5 285.2 116.0C286.4 116.5 287.7 117.1 288.9 117.6C290.1 118.2 291.3 118.7 292.4 119.4C293.6 120.0 294.7 120.7 295.7 121.5C296.7 122.3 297.7 123.2 298.6 124.1C299.5 125.0 300.3 126.1 301.2 127.1C302.0 128.1 302.9 129.1 303.7 130.2C304.5 131.2 305.4 132.3 306.2 133.3C307.0 134.4 307.8 135.4 308.6 136.5C309.5 137.5 310.3 138.6 311.1 139.6C311.9 140.7 312.7 141.8 313.5 142.8C314.3 143.9 315.1 145.0 315.9 146.0C316.7 147.1 317.4 148.2 318.2 149.3C319.0 150.4 319.7 151.5 320.4 152.6C321.1 153.7 321.7 154.9 322.4 156.1C323.0 157.2 323.6 158.4 324.2 159.6C324.8 160.8 325.4 162.0 326.0 163.2C326.6 164.4 327.2 165.6 327.8 166.8C328.4 168.0 329.0 169.2 329.6 170.3C330.2 171.5 330.8 172.7 331.3 173.9C331.9 175.1 332.5 176.3 333.1 177.5C333.7 178.7 334.3 179.9 334.9 181.1C335.5 182.3 336.1 183.5 336.7 184.7C337.3 185.9 337.9 187.1 338.5 188.3C339.1 189.5 339.6 190.7 340.2 191.8C340.8 193.0 341.4 194.2 342.0 195.4C342.6 196.6 343.2 197.8 343.8 199.0C344.4 200.2 345.0 201.4 345.6 202.6C346.2 203.8 346.8 205.0 347.3 206.2C347.9 207.4 348.5 208.6 349.1 209.8C349.7 211.0 350.3 212.2 350.9 213.3C351.5 214.5 352.1 215.7 352.7 216.9C353.3 218.1 353.9 219.3 354.5 220.5C355.0 221.7 355.6 222.9 356.2 224.1C356.8 225.3 357.4 226.5 358.0 227.7C358.6 228.9 359.2 230.1 359.8 231.3C360.4 232.5 361.0 233.6 361.6 234.8C362.2 236.0 362.8 237.2 363.3 238.4C363.9 239.6 364.5 240.8 365.1 242.0C365.7 243.2 366.2 244.4 366.8 245.7C367.3 246.9 367.9 248.1 368.4 249.3C368.9 250.5 369.5 251.7 370.0 253.0C370.5 254.2 371.1 255.4 371.6 256.6C372.2 257.9 372.7 259.1 373.2 260.3C373.8 261.5 374.3 262.7 374.8 264.0C375.4 265.2 375.9 266.4 376.5 267.6C377.0 268.8 377.6 270.0 378.1 271.3C378.6 272.5 379.2 273.7 379.7 274.9C380.3 276.1 380.8 277.4 381.3 278.6C381.9 279.8 382.4 281.0 383.0 282.2C383.5 283.4 384.1 284.7 384.6 285.9C385.1 287.1 385.7 288.3 386.2 289.5C386.8 290.7 387.3 292.0 387.9 293.2C388.5 294.4 389.0 295.6 389.6 296.8C390.2 298.0 390.8 299.1 391.5 300.3C392.1 301.5 392.7 302.7 393.4 303.8C394.1 305.0 394.7 306.1 395.5 307.2C396.2 308.3 397.0 309.3 397.9 310.3C398.7 311.3 399.6 312.3 400.6 313.1C401.6 314.0 402.6 314.8 403.7 315.5C404.8 316.1 406.0 316.7 407.2 317.2C408.4 317.6 409.7 317.9 411.0 318.2C412.2 318.4 413.6 318.5 414.8 318.5C416.1 318.4 417.4 318.3 418.7 318.0C419.9 317.7 421.2 317.3 422.3 316.8C423.5 316.2 424.6 315.6 425.6 314.8C426.7 314.0 427.6 313.1 428.5 312.2C429.4 311.3 430.3 310.2 431.1 309.2C431.9 308.2 432.7 307.1 433.5 306.0C434.3 304.9 435.0 303.9 435.8 302.8C436.6 301.7 437.3 300.6 438.0 299.4C438.8 298.3 439.5 297.2 440.2 296.1C440.9 295.0 441.6 293.8 442.3 292.7C443.0 291.6 443.7 290.4 444.4 289.3C445.0 288.1 445.7 286.9 446.3 285.8C447.0 284.6 447.6 283.4 448.3 282.3C448.9 281.1 449.5 279.9 450.1 278.7C450.7 277.5 451.2 276.3 451.8 275.1C452.3 273.9 452.8 272.6 453.3 271.4C453.7 270.2 454.2 268.9 454.7 267.7C455.2 266.4 455.6 265.2 456.1 263.9C456.5 262.7 457.0 261.4 457.4 260.2C457.9 258.9 458.3 257.6 458.8 256.4C459.2 255.1 459.7 253.9 460.1 252.6C460.6 251.4 461.0 250.1 461.4 248.8C461.9 247.6 462.3 246.3 462.8 245.1C463.2 243.8 463.6 242.5 464.1 241.3C464.5 240.0 465.0 238.8 465.4 237.5C465.8 236.3 466.3 235.0 466.7 233.7C467.2 232.5 467.6 231.2 468.0 230.0C468.5 228.7 468.9 227.4 469.4 226.2C469.8 224.9 470.3 223.7 470.7 222.4C471.2 221.2 471.6 219.9 472.1 218.7C472.6 217.4 473.1 216.2 473.5 214.9C474.0 213.7 474.5 212.4 475.0 211.2C475.5 210.0 475.9 208.7 476.4 207.5C476.9 206.3 477.4 205.0 478.0 203.8C478.5 202.6 479.0 201.4 479.6 200.1C480.2 198.9 480.7 197.7 481.3 196.5C481.9 195.3 482.5 194.2 483.1 193.0C483.7 191.8 484.3 190.6 484.9 189.4C485.5 188.2 486.1 187.0 486.7 185.8C487.3 184.6 487.9 183.4 488.5 182.3C489.1 181.1 489.7 179.9 490.3 178.6C490.8 177.4 491.4 176.2 491.9 175.0C492.4 173.8 493.0 172.6 493.5 171.3C494.0 170.1 494.6 168.9 495.1 167.7C495.6 166.5 496.2 165.2 496.7 164.0C497.3 162.8 497.8 161.6 498.4 160.4C498.9 159.2 499.5 158.0 500.1 156.8C500.6 155.5 501.2 154.3 501.8 153.1C502.3 151.9 502.9 150.7 503.5 149.5C504.1 148.3 504.7 147.1 505.3 145.9C505.9 144.7 506.4 143.5 507.0 142.4C507.6 141.2 508.2 140.0 508.9 138.8C509.5 137.6 510.1 136.4 510.7 135.3C511.4 134.1 512.1 133.0 512.8 131.8C513.4 130.7 514.2 129.6 514.9 128.5C515.6 127.3 516.4 126.2 517.1 125.1C517.9 124.0 518.6 122.9 519.4 121.8C520.1 120.7 520.9 119.6 521.7 118.6C522.5 117.5 523.3 116.5 524.1 115.4C525.0 114.4 525.8 113.3 526.7 112.3C527.5 111.3 528.4 110.3 529.3 109.3C530.1 108.3 531.0 107.3 531.9 106.3C532.8 105.3 533.7 104.3 534.7 103.4C535.6 102.4 536.5 101.5 537.5 100.5C538.4 99.6 539.4 98.7 540.3 97.8C541.3 96.9 542.3 96.0 543.3 95.1C544.3 94.2 545.3 93.4 546.4 92.5C547.4 91.7 548.5 90.9 549.6 90.1C550.6 89.3 551.7 88.6 552.9 87.9C554.0 87.2 555.1 86.5 556.3 85.9C557.4 85.2 558.6 84.6 559.8 83.9C560.9 83.3 562.0 82.6 563.1 81.8C564.2 81.1 565.3 80.3 566.4 79.5C567.4 78.7 568.5 77.9 569.6 77.1C570.7 76.4 571.7 75.6 572.9 74.9C574.0 74.2 575.1 73.5 576.3 72.9C577.5 72.3 578.7 71.7 579.9 71.2C581.1 70.7 582.4 70.2 583.6 69.8C584.9 69.4 586.2 69.1 587.4 68.8C588.7 68.4 590.0 68.2 591.3 67.9C592.6 67.6 594.0 67.4 595.3 67.1C596.6 66.9 597.9 66.6 599.2 66.4C600.5 66.2 601.8 66.1 603.1 65.9C604.5 65.8 605.8 65.8 607.1 65.7C608.4 65.7 609.8 65.7 611.1 65.7C612.4 65.7 613.8 65.7 615.1 65.7C616.4 65.7 617.8 65.7 619.1 65.8C620.4 65.8 621.8 65.8 623.1 65.8C624.4 65.9 625.8 65.9 627.1 66.0C628.4 66.0 629.8 66.1 631.1 66.1C632.4 66.2 633.8 66.2 635.1 66.3C636.4 66.4 637.7 66.5 639.1 66.6C640.4 66.8 641.7 66.9 643.0 67.1C644.4 67.3 645.7 67.5 647.0 67.7C648.3 67.9 649.6 68.1 650.9 68.4C652.2 68.6 653.5 68.9 654.8 69.2C656.1 69.5 657.4 69.8 658.7 70.2C660.0 70.5 661.3 70.9 662.5 71.3C663.8 71.7 665.1 72.1 666.4 72.5C667.6 72.9 668.9 73.3 670.2 73.7C671.4 74.1 672.7 74.5 674.0 74.9C675.3 75.3 676.5 75.7 677.8 76.1C679.1 76.5 680.3 76.9 681.6 77.3C682.9 77.7 684.1 78.1 685.4 78.6C686.6 79.1 687.9 79.6 689.1 80.1C690.3 80.7 691.5 81.2 692.7 81.8C693.9 82.4 695.1 83.0 696.3 83.6C697.5 84.2 698.7 84.8 699.8 85.4C701.0 86.0 702.2 86.6 703.4 87.2C704.6 87.8 705.7 88.5 706.9 89.1C708.1 89.8 709.2 90.4 710.4 91.1C711.6 91.7 712.7 92.4 713.9 93.0C715.1 93.7 716.2 94.3 717.4 95.0C718.5 95.6 719.7 96.3 720.9 96.9C722.0 97.6 723.2 98.3 724.4 98.9C725.5 99.6 726.7 100.2 727.8 100.9C729.0 101.5 730.2 102.2 731.3 102.9C732.5 103.5 733.6 104.2 734.7 104.9C735.8 105.6 737.0 106.4 738.1 107.1C739.1 107.9 740.2 108.7 741.3 109.5C742.4 110.3 743.4 111.1 744.5 111.9C745.6 112.7 746.6 113.5 747.7 114.3C748.8 115.1 749.8 115.9 750.9 116.7C751.9 117.5 753.0 118.3 754.0 119.2C755.1 120.0 756.1 120.8 757.1 121.7C758.2 122.5 759.2 123.3 760.3 124.2C761.3 125.0 762.3 125.9 763.4 126.7C764.4 127.5 765.4 128.4 766.4 129.3C767.4 130.1 768.5 131.0 769.4 131.9C770.4 132.8 771.4 133.7 772.4 134.6C773.4 135.5 774.4 136.4 775.3 137.3C776.3 138.2 777.3 139.1 778.3 140.0C779.2 140.9 780.2 141.8 781.2 142.8C782.1 143.7 783.1 144.6 784.1 145.5C785.0 146.4 786.0 147.4 786.9 148.3C787.9 149.2 788.8 150.2 789.8 151.1C790.7 152.1 791.7 153.0 792.6 154.0C793.5 154.9 794.5 155.8 795.4 156.8C796.4 157.7 797.3 158.7 798.3 159.6C799.2 160.5 800.2 161.5 801.1 162.4C802.1 163.3 803.1 164.2 804.0 165.1C805.0 166.1 806.0 167.0 807.0 167.9C807.9 168.8 808.9 169.7 809.9 170.6C810.9 171.5 812.1 172.6 812.8 173.2C813.5 173.9 814.0 174.4 814.2 174.6" fill="none" stroke="#00ff00" stroke-width="6.6" stroke-linecap="round" stroke-linejoin="round"/>
<path d="M191.4 166.4C191.7 165.9 192.9 164.2 193.6 163.1C194.4 162.0 195.1 160.9 195.9 159.8C196.6 158.8 197.4 157.7 198.2 156.6C198.9 155.5 199.7 154.4 200.5 153.3C201.2 152.2 202.0 151.1 202.8 150.1C203.7 149.0 204.5 148.0 205.3 147.0C206.2 145.9 207.1 144.9 207.9 143.9C208.8 142.9 209.7 141.9 210.5 140.9C211.4 139.9 212.3 138.9 213.3 138.0C214.2 137.0 215.2 136.1 216.2 135.3C217.2 134.4 218.2 133.6 219.3 132.8C220.3 132.0 221.4 131.2 222.5 130.4C223.6 129.7 224.7 128.9 225.8 128.1C226.9 127.4 228.0 126.7 229.1 126.0C230.3 125.3 231.4 124.7 232.6 124.0C233.8 123.4 235.0 122.8 236.2 122.2C237.4 121.7 238.5 121.1 239.8 120.6C241.0 120.1 242.2 119.7 243.5 119.4C244.8 119.1 246.1 119.0 247.4 118.8C248.7 118.7 250.0 118.7 251.3 118.7C252.6 118.6 254.0 118.6 255.3 118.6C256.6 118.6 258.0 118.6 259.3 118.7C260.6 118.7 262.0 118.7 263.3 118.7C264.6 118.8 265.9 118.9 267.1 119.2C268.4 119.4 269.6 119.8 270.8 120.3C271.9 120.8 273.0 121.5 274.1 122.2C275.2 122.9 276.3 123.7 277.4 124.5C278.4 125.3 279.5 126.1 280.5 127.0C281.5 127.8 282.5 128.7 283.5 129.6C284.5 130.5 285.4 131.4 286.4 132.3C287.3 133.3 288.3 134.2 289.2 135.2C290.1 136.1 291.0 137.1 291.9 138.1C292.8 139.1 293.7 140.1 294.5 141.1C295.3 142.1 296.1 143.2 296.9 144.3C297.6 145.4 298.4 146.5 299.1 147.6C299.9 148.7 300.6 149.8 301.4 150.9C302.1 152.0 302.8 153.2 303.6 154.3C304.3 155.4 305.0 156.5 305.7 157.6C306.4 158.8 307.1 159.9 307.7 161.1C308.4 162.2 309.1 163.4 309.7 164.5C310.4 165.7 311.0 166.9 311.7 168.0C312.3 169.2 313.0 170.4 313.6 171.5C314.2 172.7 314.9 173.9 315.4 175.1C316.0 176.3 316.6 177.5 317.2 178.7C317.7 179.9 318.2 181.1 318.7 182.4C319.2 183.6 319.7 184.8 320.2 186.1C320.7 187.3 321.2 188.6 321.7 189.8C322.2 191.0 322.7 192.3 323.2 193.5C323.7 194.7 324.2 196.0 324.7 197.2C325.2 198.5 325.7 199.7 326.2 200.9C326.7 202.2 327.2 203.4 327.7 204.6C328.2 205.9 328.7 207.1 329.2 208.4C329.7 209.6 330.2 210.8 330.7 212.1C331.1 213.3 331.6 214.5 332.1 215.8C332.6 217.0 333.1 218.2 333.6 219.5C334.1 220.7 334.6 222.0 335.1 223.2C335.6 224.4 336.1 225.7 336.6 226.9C337.0 228.2 337.5 229.4 337.9 230.7C338.4 231.9 338.8 233.2 339.2 234.5C339.6 235.7 340.0 237.0 340.4 238.3C340.7 239.6 341.1 240.9 341.5 242.1C341.9 243.4 342.2 244.7 342.6 246.0C343.0 247.3 343.3 248.5 343.7 249.8C344.1 251.1 344.5 252.4 344.8 253.7C345.2 254.9 345.6 256.2 345.9 257.5C346.3 258.8 346.6 260.1 347.0 261.4C347.4 262.6 347.7 263.9 348.1 265.2C348.4 266.5 348.8 267.8 349.2 269.1C349.5 270.3 349.9 271.6 350.2 272.9C350.6 274.2 351.0 275.5 351.3 276.8C351.7 278.0 352.0 279.3 352.4 280.6C352.8 281.9 353.1 283.2 353.5 284.5C353.8 285.8 354.2 287.0 354.6 288.3C354.9 289.6 355.3 290.9 355.6 292.2C356.0 293.5 356.4 294.7 356.7 296.0C357.1 297.3 357.4 298.6 357.8 299.9C358.1 301.2 358.5 302.4 358.8 303.7C359.2 305.0 359.5 306.3 359.8 307.6C360.2 308.9 360.5 310.2 360.8 311.5C361.1 312.8 361.4 314.1 361.7 315.4C362.1 316.7 362.4 318.0 362.7 319.3C363.0 320.6 363.3 321.9 363.6 323.2C363.9 324.5 364.2 325.8 364.5 327.0C364.9 328.3 365.2 329.6 365.5 330.9C365.8 332.2 366.1 333.5 366.4 334.8C366.7 336.1 367.0 337.4 367.3 338.7C367.6 340.0 368.0 341.3 368.3 342.6C368.6 343.9 368.9 345.2 369.2 346.5C369.5 347.8 369.8 349.1 370.1 350.4C370.4 351.7 370.7 353.0 371.0 354.3C371.3 355.6 371.6 356.9 371.9 358.2C372.3 359.5 372.6 360.8 372.9 362.1C373.2 363.4 373.5 364.7 373.8 366.0C374.1 367.3 374.4 368.6 374.7 369.9C375.0 371.1 375.4 372.4 375.7 373.7C376.0 375.0 376.4 376.3 376.7 377.6C377.1 378.9 377.4 380.2 377.8 381.5C378.1 382.7 378.5 384.0 378.8 385.3C379.2 386.6 379.5 387.9 379.9 389.2C380.2 390.5 380.5 391.8 380.9 393.0C381.3 394.3 381.6 395.6 382.0 396.9C382.3 398.2 382.7 399.5 383.0 400.8C383.4 402.0 383.8 403.3 384.1 404.6C384.5 405.9 384.9 407.2 385.2 408.4C385.6 409.7 386.0 411.0 386.3 412.3C386.7 413.6 387.0 414.9 387.4 416.1C387.8 417.4 388.1 418.7 388.5 420.0C388.9 421.3 389.2 422.6 389.6 423.8C390.0 425.1 390.3 426.4 390.7 427.7C391.1 429.0 391.4 430.2 391.8 431.5C392.2 432.8 392.5 434.1 392.9 435.4C393.3 436.7 393.6 437.9 394.0 439.2C394.4 440.5 394.7 441.8 395.1 443.1C395.5 444.3 395.8 445.6 396.2 446.9C396.6 448.2 397.0 449.5 397.3 450.7C397.7 452.0 398.1 453.3 398.5 454.6C398.8 455.9 399.2 457.1 399.6 458.4C400.0 459.7 400.4 461.0 400.8 462.2C401.1 463.5 401.5 464.8 401.9 466.1C402.3 467.4 402.7 468.6 403.1 469.9C403.4 471.2 403.8 472.5 404.2 473.7C404.6 475.0 405.0 476.3 405.4 477.6C405.8 478.8 406.2 480.1 406.6 481.4C407.0 482.7 407.4 483.9 407.8 485.2C408.2 486.5 408.6 487.7 409.0 489.0C409.4 490.3 409.8 491.6 410.2 492.8C410.6 494.1 411.0 495.4 411.5 496.6C411.9 497.9 412.4 499.1 412.9 500.4C413.3 501.6 413.9 502.8 414.4 504.0C414.9 505.3 415.5 506.5 416.0 507.7C416.6 508.9 417.1 510.1 417.7 511.3C418.2 512.5 418.8 513.8 419.4 515.0C420.0 516.1 420.5 517.3 421.2 518.5C421.9 519.6 422.6 520.7 423.4 521.7C424.2 522.8 425.0 523.7 426.0 524.5C426.9 525.3 428.0 526.0 429.1 526.5C430.2 526.9 431.4 527.2 432.7 527.3C433.9 527.5 435.2 527.4 436.5 527.2C437.7 527.0 439.0 526.7 440.2 526.3C441.4 525.9 442.6 525.4 443.7 524.7C444.9 524.1 445.9 523.3 446.8 522.5C447.8 521.6 448.7 520.7 449.5 519.6C450.3 518.6 451.0 517.5 451.8 516.4C452.5 515.3 453.1 514.2 453.8 513.0C454.4 511.8 455.0 510.6 455.7 509.5C456.3 508.3 456.9 507.1 457.5 505.9C458.0 504.7 458.6 503.5 459.2 502.3C459.8 501.1 460.4 499.9 461.0 498.7C461.5 497.5 462.1 496.3 462.7 495.1C463.3 493.9 463.8 492.7 464.4 491.5C465.0 490.3 465.5 489.1 466.1 487.9C466.6 486.6 467.2 485.4 467.7 484.2C468.2 483.0 468.7 481.7 469.2 480.5C469.7 479.3 470.2 478.0 470.7 476.8C471.1 475.5 471.6 474.3 472.1 473.0C472.6 471.8 473.1 470.6 473.6 469.3C474.0 468.1 474.5 466.8 475.0 465.6C475.4 464.3 475.9 463.1 476.3 461.8C476.8 460.6 477.2 459.3 477.6 458.0C478.1 456.8 478.5 455.5 478.9 454.2C479.3 453.0 479.8 451.7 480.2 450.4C480.6 449.2 481.0 447.9 481.4 446.7C481.9 445.4 482.3 444.1 482.7 442.9C483.1 441.6 483.6 440.3 484.0 439.1C484.4 437.8 484.8 436.5 485.2 435.3C485.7 434.0 486.1 432.7 486.5 431.5C486.9 430.2 487.4 428.9 487.8 427.7C488.2 426.4 488.6 425.1 489.0 423.9C489.5 422.6 489.9 421.4 490.3 420.1C490.7 418.8 491.1 417.6 491.6 416.3C492.0 415.0 492.4 413.8 492.8 412.5C493.3 411.2 493.7 410.0 494.1 408.7C494.5 407.4 494.9 406.2 495.4 404.9C495.8 403.6 496.2 402.4 496.6 401.1C497.0 399.9 497.5 398.6 497.9 397.3C498.3 396.1 498.7 394.8 499.2 393.5C499.6 392.3 500.0 391.0 500.4 389.7C500.9 388.5 501.3 387.2 501.7 385.9C502.1 384.7 502.6 383.4 503.0 382.2C503.5 380.9 503.9 379.6 504.3 378.4C504.8 377.1 505.2 375.9 505.7 374.6C506.1 373.4 506.6 372.1 507.0 370.9C507.5 369.6 507.9 368.3 508.4 367.1C508.8 365.8 509.3 364.6 509.7 363.3C510.2 362.1 510.6 360.8 511.1 359.6C511.6 358.3 512.0 357.1 512.5 355.8C513.0 354.6 513.5 353.3 513.9 352.1C514.4 350.8 514.9 349.6 515.4 348.4C515.9 347.1 516.3 345.9 516.8 344.6C517.3 343.4 517.8 342.1 518.2 340.9C518.7 339.6 519.1 338.4 519.6 337.1C520.1 335.9 520.5 334.6 520.9 333.4C521.4 332.1 521.8 330.8 522.3 329.6C522.7 328.3 523.1 327.1 523.5 325.8C523.9 324.5 524.3 323.2 524.7 322.0C525.1 320.7 525.5 319.4 525.8 318.1C526.2 316.9 526.6 315.6 527.0 314.3C527.3 313.0 527.7 311.7 528.1 310.4C528.4 309.2 528.8 307.9 529.2 306.6C529.5 305.3 529.9 304.0 530.3 302.8C530.6 301.5 531.0 300.2 531.4 298.9C531.8 297.6 532.2 296.4 532.6 295.1C533.0 293.8 533.4 292.6 533.8 291.3C534.2 290.0 534.6 288.8 535.0 287.5C535.5 286.2 535.9 285.0 536.3 283.7C536.7 282.4 537.1 281.2 537.6 279.9C538.0 278.6 538.4 277.4 538.9 276.1C539.3 274.9 539.8 273.6 540.3 272.4C540.7 271.1 541.2 269.9 541.7 268.6C542.1 267.4 542.6 266.1 543.1 264.9C543.6 263.6 544.0 262.4 544.5 261.1C545.0 259.9 545.5 258.7 546.0 257.4C546.4 256.2 546.9 254.9 547.4 253.7C547.9 252.5 548.4 251.2 549.0 250.0C549.5 248.8 550.0 247.5 550.5 246.3C551.0 245.1 551.5 243.9 552.1 242.6C552.6 241.4 553.1 240.2 553.6 239.0C554.2 237.7 554.7 236.5 555.3 235.3C555.8 234.1 556.4 232.9 557.0 231.7C557.6 230.5 558.2 229.3 558.7 228.1C559.3 226.9 559.9 225.7 560.5 224.5C561.1 223.3 561.7 222.1 562.3 221.0C563.0 219.8 563.6 218.6 564.2 217.4C564.8 216.2 565.4 215.0 566.0 213.9C566.7 212.7 567.3 211.5 567.9 210.3C568.6 209.2 569.2 208.0 569.8 206.8C570.5 205.6 571.1 204.5 571.7 203.3C572.4 202.1 573.0 201.0 573.7 199.8C574.4 198.7 575.0 197.5 575.7 196.3C576.3 195.2 577.0 194.0 577.7 192.9C578.4 191.7 579.1 190.6 579.8 189.5C580.5 188.3 581.2 187.2 581.9 186.1C582.6 185.0 583.4 183.9 584.1 182.8C584.8 181.6 585.6 180.5 586.3 179.4C587.1 178.3 587.9 177.2 588.6 176.2C589.4 175.1 590.2 174.0 591.0 172.9C591.7 171.8 592.5 170.7 593.3 169.7C594.1 168.6 594.9 167.5 595.6 166.4C596.4 165.3 597.2 164.2 598.0 163.2C598.7 162.1 599.5 161.0 600.3 159.9C601.0 158.8 601.8 157.7 602.6 156.6C603.4 155.5 604.1 154.5 604.9 153.4C605.7 152.3 606.4 151.2 607.2 150.1C608.0 149.0 608.8 147.9 609.6 146.9C610.3 145.8 611.2 144.7 612.0 143.7C612.8 142.7 613.7 141.6 614.5 140.6C615.4 139.6 616.3 138.6 617.2 137.6C618.1 136.6 619.0 135.7 619.9 134.7C620.8 133.7 621.7 132.7 622.6 131.7C623.5 130.8 624.4 129.8 625.4 128.9C626.4 128.0 627.4 127.2 628.4 126.3C629.5 125.5 630.5 124.7 631.6 123.9C632.7 123.1 633.7 122.3 634.8 121.6C635.9 120.8 637.0 120.1 638.1 119.3C639.3 118.6 640.4 117.9 641.5 117.2C642.7 116.6 643.9 115.9 645.0 115.3C646.2 114.7 647.4 114.1 648.6 113.5C649.8 112.9 651.0 112.3 652.2 111.8C653.4 111.2 654.6 110.7 655.9 110.2C657.1 109.7 658.3 109.2 659.6 108.8C660.8 108.3 662.1 107.8 663.4 107.4C664.6 107.0 665.9 106.6 667.1 106.2C668.4 105.8 669.7 105.4 671.0 105.1C672.3 104.7 673.6 104.4 674.9 104.2C676.2 103.9 677.5 103.6 678.8 103.3C680.1 103.0 681.4 102.8 682.7 102.5C684.0 102.3 685.3 102.0 686.6 101.8C688.0 101.6 689.3 101.4 690.6 101.2C691.9 101.1 693.2 100.9 694.5 100.9C695.9 100.8 697.2 100.9 698.5 100.9C699.8 101.0 701.1 101.1 702.5 101.3C703.8 101.4 705.1 101.6 706.4 101.8C707.7 102.0 709.0 102.2 710.3 102.5C711.7 102.7 712.9 103.0 714.2 103.4C715.5 103.7 716.8 104.1 718.1 104.4C719.3 104.8 720.6 105.2 721.9 105.6C723.2 106.0 724.4 106.5 725.7 106.9C726.9 107.3 728.2 107.8 729.4 108.3C730.7 108.8 731.9 109.3 733.1 109.8C734.3 110.3 735.6 110.9 736.8 111.4C738.0 111.9 739.2 112.5 740.5 113.0C741.7 113.5 742.9 114.1 744.1 114.6C745.3 115.1 746.6 115.7 747.8 116.2C749.0 116.7 750.2 117.3 751.4 117.8C752.7 118.3 753.9 118.9 755.1 119.4C756.3 120.0 757.5 120.6 758.7 121.1C759.9 121.7 761.1 122.4 762.2 123.0C763.4 123.7 764.5 124.4 765.7 125.1C766.8 125.7 767.9 126.4 769.1 127.2C770.2 127.9 771.3 128.6 772.4 129.3C773.5 130.0 774.7 130.8 775.7 131.6C776.8 132.3 777.9 133.1 778.9 134.0C780.0 134.8 781.0 135.6 782.0 136.5C783.0 137.4 784.0 138.2 785.0 139.1C786.1 140.0 787.1 140.8 788.1 141.7C789.1 142.6 790.1 143.4 791.1 144.3C792.2 145.1 793.2 146.0 794.2 146.9C795.2 147.7 796.2 148.6 797.3 149.4C798.3 150.3 799.3 151.1 800.3 152.0C801.3 152.9 802.3 153.8 803.2 154.7C804.2 155.7 805.1 156.6 806.0 157.6C807.0 158.5 807.9 159.5 808.7 160.5C809.6 161.4 810.5 162.4 811.3 163.2C812.1 164.1 813.2 165.3 813.7 165.8C814.2 166.4 814.1 166.3 814.2 166.4" fill="none" stroke="#000099" stroke-width="6.6" stroke-linecap="round" stroke-linejoin="round"/>
<path d="M191.4 114.6C191.9 114.2 193.4 112.9 194.5 112.1C195.5 111.3 196.6 110.4 197.6 109.6C198.7 108.8 199.7 108.0 200.8 107.1C201.8 106.3 202.9 105.5 203.9 104.7C205.0 103.9 206.0 103.0 207.1 102.2C208.2 101.5 209.2 100.7 210.4 100.0C211.5 99.2 212.6 98.6 213.8 97.9C214.9 97.3 216.1 96.6 217.3 96.0C218.5 95.4 219.7 94.8 220.9 94.2C222.1 93.6 223.2 93.0 224.5 92.5C225.7 91.9 226.9 91.3 228.1 90.8C229.3 90.3 230.5 89.8 231.8 89.3C233.0 88.9 234.3 88.4 235.6 88.0C236.8 87.6 238.1 87.1 239.3 86.7C240.6 86.3 241.9 85.9 243.1 85.5C244.4 85.1 245.7 84.7 247.0 84.4C248.3 84.0 249.6 83.7 250.9 83.4C252.2 83.1 253.5 82.9 254.8 82.6C256.1 82.3 257.4 82.1 258.7 81.8C260.0 81.5 261.3 81.3 262.6 81.0C263.9 80.8 265.2 80.6 266.5 80.4C267.9 80.2 269.2 80.0 270.5 79.8C271.8 79.7 273.2 79.6 274.5 79.5C275.8 79.4 277.1 79.3 278.5 79.3C279.8 79.2 281.1 79.2 282.5 79.2C283.8 79.3 285.1 79.3 286.5 79.4C287.8 79.4 289.1 79.5 290.4 79.6C291.8 79.7 293.1 79.8 294.4 79.9C295.7 80.1 297.1 80.2 298.4 80.4C299.7 80.7 301.0 81.0 302.3 81.3C303.5 81.6 304.8 81.9 306.1 82.3C307.4 82.7 308.7 83.1 309.9 83.5C311.2 84.0 312.4 84.4 313.6 84.9C314.9 85.4 316.1 86.0 317.3 86.6C318.5 87.2 319.7 87.8 320.8 88.4C322.0 89.0 323.1 89.7 324.3 90.4C325.4 91.1 326.5 91.9 327.6 92.6C328.6 93.4 329.7 94.2 330.7 95.0C331.8 95.8 332.8 96.7 333.9 97.5C334.9 98.3 336.0 99.2 337.0 100.0C338.0 100.9 339.0 101.8 340.0 102.7C340.9 103.6 341.9 104.5 342.9 105.4C343.8 106.4 344.8 107.3 345.7 108.2C346.6 109.2 347.6 110.1 348.5 111.1C349.5 112.0 350.4 113.0 351.3 113.9C352.2 114.9 353.1 115.9 354.0 116.9C354.9 117.9 355.8 118.9 356.7 119.9C357.6 120.9 358.4 121.9 359.3 122.9C360.2 123.9 361.0 124.9 361.9 125.9C362.8 126.9 363.7 127.9 364.6 128.9C365.5 129.9 366.4 130.9 367.3 131.8C368.2 132.8 369.2 133.7 370.1 134.7C371.0 135.6 372.0 136.6 372.9 137.5C373.9 138.4 374.8 139.4 375.8 140.3C376.8 141.2 377.8 142.1 378.8 143.0C379.7 143.9 380.8 144.7 381.8 145.6C382.8 146.5 383.8 147.3 384.8 148.2C385.9 149.0 386.9 149.8 388.0 150.7C389.0 151.5 390.1 152.3 391.2 153.1C392.2 153.8 393.3 154.6 394.4 155.3C395.5 156.1 396.6 156.8 397.8 157.5C398.9 158.2 400.0 158.9 401.2 159.6C402.4 160.2 403.5 160.8 404.7 161.4C405.9 162.0 407.2 162.5 408.4 163.0C409.6 163.5 410.9 163.9 412.1 164.3C413.4 164.7 414.7 165.0 416.0 165.2C417.2 165.4 418.6 165.5 419.8 165.4C421.1 165.4 422.4 165.2 423.7 165.0C425.0 164.7 426.2 164.3 427.5 163.9C428.7 163.4 429.9 162.9 431.1 162.3C432.3 161.7 433.4 161.1 434.6 160.4C435.7 159.7 436.9 159.0 438.0 158.3C439.1 157.6 440.2 156.8 441.3 156.0C442.3 155.3 443.4 154.5 444.4 153.6C445.5 152.8 446.5 152.0 447.5 151.1C448.5 150.2 449.5 149.3 450.4 148.3C451.3 147.4 452.2 146.4 453.0 145.4C453.9 144.3 454.7 143.3 455.5 142.2C456.3 141.2 457.1 140.1 457.9 139.1C458.8 138.0 459.6 136.9 460.3 135.9C461.1 134.8 461.9 133.7 462.7 132.6C463.5 131.6 464.3 130.5 465.1 129.4C465.8 128.3 466.6 127.2 467.4 126.2C468.2 125.1 468.9 124.0 469.7 122.9C470.5 121.8 471.3 120.8 472.1 119.7C472.9 118.6 473.7 117.6 474.5 116.5C475.3 115.5 476.2 114.4 477.0 113.3C477.8 112.3 478.6 111.2 479.4 110.2C480.3 109.1 481.1 108.1 481.9 107.1C482.8 106.0 483.6 105.0 484.5 104.0C485.3 102.9 486.2 101.9 487.0 100.9C487.9 99.9 488.7 98.9 489.6 97.9C490.5 96.8 491.4 95.8 492.2 94.8C493.1 93.8 494.0 92.8 494.9 91.8C495.8 90.9 496.7 89.9 497.6 88.9C498.5 87.9 499.4 86.9 500.2 85.9C501.1 84.9 502.0 83.9 502.9 82.9C503.7 81.9 504.6 80.8 505.4 79.8C506.3 78.8 507.2 77.8 508.0 76.8C508.9 75.8 509.8 74.8 510.7 73.8C511.7 72.9 512.6 72.0 513.6 71.1C514.6 70.2 515.6 69.4 516.7 68.5C517.7 67.7 518.8 66.9 519.8 66.1C520.9 65.3 522.0 64.6 523.1 63.9C524.3 63.2 525.4 62.5 526.6 61.9C527.7 61.2 528.9 60.6 530.1 60.0C531.3 59.3 532.5 58.8 533.7 58.2C534.9 57.6 536.1 57.0 537.3 56.5C538.5 55.9 539.7 55.4 541.0 54.9C542.2 54.4 543.4 53.8 544.6 53.3C545.9 52.8 547.1 52.3 548.4 51.9C549.6 51.4 550.8 50.9 552.1 50.5C553.4 50.0 554.6 49.6 555.9 49.2C557.2 48.8 558.4 48.4 559.7 48.0C561.0 47.7 562.3 47.3 563.5 46.9C564.8 46.5 566.1 46.1 567.4 45.8C568.7 45.4 570.0 45.1 571.3 44.8C572.6 44.5 573.9 44.3 575.2 44.1C576.5 43.9 577.8 43.8 579.1 43.6C580.5 43.5 581.8 43.4 583.1 43.4C584.4 43.3 585.8 43.3 587.1 43.3C588.4 43.2 589.8 43.2 591.1 43.2C592.4 43.2 593.8 43.2 595.1 43.2C596.4 43.2 597.8 43.2 599.1 43.2C600.4 43.2 601.8 43.2 603.1 43.2C604.4 43.1 605.8 43.1 607.1 43.1C608.4 43.0 609.8 43.0 611.1 43.0C612.4 42.9 613.8 42.9 615.1 42.8C616.4 42.8 617.8 42.8 619.1 42.7C620.4 42.7 621.8 42.6 623.1 42.6C624.4 42.6 625.8 42.6 627.1 42.6C628.4 42.6 629.7 42.7 631.1 42.8C632.4 43.0 633.7 43.1 635.0 43.3C636.3 43.5 637.6 43.8 638.9 44.0C640.2 44.3 641.6 44.5 642.9 44.8C644.2 45.1 645.5 45.4 646.7 45.7C648.0 46.0 649.3 46.4 650.6 46.8C651.9 47.1 653.2 47.5 654.4 47.9C655.7 48.3 657.0 48.7 658.2 49.1C659.5 49.5 660.8 50.0 662.0 50.4C663.3 50.8 664.6 51.3 665.8 51.7C667.1 52.2 668.3 52.6 669.6 53.1C670.8 53.6 672.1 54.0 673.3 54.5C674.5 55.0 675.8 55.5 677.0 56.0C678.2 56.5 679.5 57.0 680.7 57.6C681.9 58.1 683.1 58.7 684.3 59.3C685.5 59.9 686.7 60.5 687.9 61.1C689.1 61.7 690.3 62.3 691.4 62.9C692.6 63.5 693.8 64.1 695.0 64.7C696.2 65.3 697.3 66.0 698.5 66.6C699.7 67.2 700.8 67.9 702.0 68.6C703.2 69.2 704.3 69.9 705.5 70.5C706.7 71.2 707.8 71.8 709.0 72.5C710.1 73.1 711.3 73.8 712.5 74.4C713.6 75.1 714.8 75.7 716.0 76.4C717.1 77.0 718.3 77.7 719.4 78.4C720.6 79.0 721.8 79.7 722.9 80.3C724.1 81.0 725.2 81.7 726.4 82.4C727.5 83.1 728.6 83.8 729.7 84.5C730.9 85.2 732.0 86.0 733.1 86.7C734.2 87.4 735.3 88.2 736.4 89.0C737.5 89.7 738.6 90.5 739.7 91.2C740.8 92.0 741.9 92.8 742.9 93.5C744.0 94.3 745.1 95.1 746.2 95.9C747.3 96.7 748.3 97.4 749.4 98.2C750.5 99.0 751.5 99.8 752.6 100.6C753.7 101.4 754.7 102.2 755.8 103.0C756.9 103.9 757.9 104.7 759.0 105.5C760.0 106.3 761.1 107.1 762.1 107.9C763.2 108.8 764.2 109.6 765.2 110.4C766.3 111.3 767.3 112.1 768.4 113.0C769.4 113.8 770.4 114.6 771.5 115.5C772.5 116.3 773.5 117.2 774.5 118.1C775.5 118.9 776.5 119.8 777.5 120.7C778.5 121.6 779.4 122.5 780.4 123.5C781.3 124.4 782.3 125.3 783.2 126.3C784.2 127.2 785.1 128.2 786.1 129.1C787.0 130.1 787.9 131.0 788.9 131.9C789.8 132.9 790.8 133.8 791.7 134.8C792.7 135.7 793.6 136.7 794.5 137.6C795.5 138.5 796.4 139.5 797.4 140.4C798.3 141.4 799.3 142.3 800.2 143.3C801.1 144.2 802.1 145.2 803.0 146.1C803.9 147.1 804.9 148.0 805.8 149.0C806.7 150.0 807.6 151.0 808.5 151.9C809.4 152.9 810.2 153.9 811.1 154.8C812.0 155.8 813.1 157.0 813.6 157.6C814.1 158.2 814.1 158.2 814.2 158.3" fill="none" stroke="#800080" stroke-width="6.6" stroke-linecap="round" stroke-linejoin="round"/>
<path d="M191.4 95.3C191.9 94.8 193.4 93.5 194.4 92.7C195.4 91.8 196.5 91.0 197.5 90.1C198.5 89.2 199.5 88.4 200.5 87.5C201.6 86.7 202.6 85.8 203.6 85.0C204.6 84.1 205.6 83.2 206.7 82.4C207.7 81.6 208.8 80.8 209.9 80.0C210.9 79.2 212.0 78.5 213.2 77.8C214.3 77.1 215.4 76.4 216.6 75.8C217.8 75.1 218.9 74.5 220.1 73.8C221.3 73.2 222.4 72.5 223.6 71.9C224.8 71.3 225.9 70.6 227.1 70.0C228.3 69.4 229.5 68.9 230.7 68.3C231.9 67.8 233.2 67.3 234.4 66.9C235.7 66.4 237.0 66.1 238.2 65.7C239.5 65.3 240.8 64.9 242.1 64.5C243.3 64.1 244.6 63.7 245.9 63.4C247.2 63.0 248.5 62.7 249.8 62.4C251.1 62.2 252.4 61.9 253.7 61.8C255.0 61.6 256.3 61.5 257.6 61.4C259.0 61.3 260.3 61.2 261.6 61.1C263.0 61.0 264.3 60.9 265.6 60.8C266.9 60.7 268.3 60.5 269.6 60.4C270.9 60.2 272.2 59.9 273.5 59.7C274.8 59.4 276.1 59.1 277.4 58.9C278.7 58.7 280.0 58.5 281.3 58.5C282.6 58.4 283.9 58.5 285.2 58.6C286.5 58.7 287.8 59.0 289.1 59.2C290.4 59.5 291.7 59.8 293.0 60.1C294.2 60.5 295.5 60.9 296.8 61.3C298.0 61.7 299.3 62.2 300.5 62.7C301.7 63.2 303.0 63.7 304.2 64.2C305.4 64.8 306.6 65.3 307.8 65.9C309.0 66.4 310.2 67.0 311.4 67.6C312.6 68.3 313.7 68.9 314.9 69.6C316.0 70.3 317.1 71.0 318.2 71.7C319.3 72.5 320.4 73.2 321.5 74.0C322.6 74.8 323.7 75.6 324.7 76.4C325.7 77.2 326.8 78.1 327.8 79.0C328.8 79.8 329.7 80.8 330.7 81.7C331.7 82.6 332.7 83.5 333.6 84.4C334.6 85.3 335.6 86.2 336.5 87.1C337.5 88.1 338.4 89.0 339.3 90.0C340.3 90.9 341.2 91.9 342.1 92.9C343.0 93.9 343.8 94.9 344.7 95.9C345.6 96.9 346.5 97.9 347.3 98.9C348.2 99.9 349.1 100.9 349.9 101.9C350.8 103.0 351.6 104.0 352.5 105.0C353.3 106.1 354.1 107.2 354.8 108.3C355.6 109.3 356.4 110.4 357.1 111.5C357.9 112.6 358.6 113.8 359.3 114.9C360.1 116.0 360.8 117.1 361.6 118.2C362.3 119.3 363.0 120.4 363.7 121.5C364.5 122.7 365.2 123.8 365.9 124.9C366.6 126.0 367.3 127.2 368.0 128.3C368.7 129.5 369.4 130.6 370.1 131.7C370.7 132.9 371.4 134.0 372.1 135.2C372.8 136.3 373.5 137.5 374.2 138.6C374.9 139.7 375.6 140.9 376.3 142.0C377.0 143.1 377.7 144.3 378.4 145.4C379.1 146.5 379.9 147.6 380.6 148.7C381.3 149.9 382.1 151.0 382.8 152.1C383.5 153.2 384.3 154.3 385.0 155.4C385.8 156.5 386.5 157.6 387.2 158.7C388.0 159.8 388.7 161.0 389.4 162.1C390.2 163.2 390.9 164.3 391.6 165.4C392.3 166.6 393.0 167.7 393.8 168.8C394.5 169.9 395.2 171.0 395.9 172.2C396.6 173.3 397.3 174.4 398.1 175.5C398.8 176.7 399.5 177.8 400.2 178.9C400.9 180.0 401.6 181.2 402.4 182.3C403.1 183.4 403.8 184.5 404.6 185.6C405.4 186.6 406.2 187.7 407.1 188.6C408.0 189.5 409.0 190.4 410.0 191.2C411.0 192.0 412.2 192.6 413.3 193.3C414.4 194.0 415.6 194.7 416.8 195.3C417.9 195.9 419.1 196.5 420.3 197.0C421.5 197.5 422.8 198.0 424.0 198.3C425.2 198.6 426.5 198.9 427.8 198.9C429.0 198.9 430.3 198.7 431.5 198.4C432.7 198.1 433.8 197.5 434.9 196.9C436.0 196.3 437.0 195.4 438.0 194.6C439.0 193.8 440.0 192.8 440.9 191.9C441.9 191.0 442.9 190.1 443.8 189.1C444.8 188.2 445.7 187.3 446.7 186.4C447.6 185.4 448.6 184.5 449.6 183.6C450.5 182.7 451.5 181.7 452.4 180.8C453.4 179.9 454.3 178.9 455.2 178.0C456.1 177.0 457.0 176.0 457.8 174.9C458.7 173.9 459.4 172.8 460.2 171.8C461.0 170.7 461.7 169.6 462.5 168.5C463.2 167.4 463.9 166.2 464.7 165.1C465.4 164.0 466.2 162.9 466.9 161.8C467.6 160.7 468.4 159.6 469.1 158.5C469.8 157.3 470.5 156.2 471.3 155.1C472.0 154.0 472.7 152.8 473.4 151.7C474.1 150.6 474.8 149.5 475.5 148.3C476.2 147.2 476.9 146.1 477.7 144.9C478.4 143.8 479.1 142.7 479.8 141.5C480.5 140.4 481.2 139.3 481.9 138.2C482.6 137.0 483.3 135.9 484.0 134.8C484.7 133.6 485.4 132.5 486.1 131.4C486.8 130.2 487.5 129.1 488.3 128.0C489.0 126.9 489.7 125.7 490.4 124.6C491.1 123.5 491.8 122.3 492.5 121.2C493.2 120.1 493.9 118.9 494.6 117.8C495.3 116.7 496.0 115.5 496.7 114.4C497.4 113.3 498.2 112.2 498.9 111.0C499.6 109.9 500.3 108.8 501.1 107.7C501.9 106.6 502.6 105.5 503.4 104.5C504.2 103.4 505.0 102.3 505.8 101.3C506.6 100.2 507.5 99.2 508.3 98.1C509.1 97.1 509.9 96.0 510.8 95.0C511.6 94.0 512.5 93.0 513.4 91.9C514.2 90.9 515.1 89.9 516.0 89.0C516.9 88.0 517.8 87.0 518.7 86.0C519.6 85.1 520.6 84.1 521.5 83.1C522.5 82.2 523.4 81.3 524.4 80.4C525.4 79.5 526.3 78.6 527.3 77.7C528.3 76.8 529.3 75.9 530.3 75.0C531.3 74.1 532.3 73.2 533.3 72.3C534.3 71.4 535.3 70.5 536.2 69.6C537.2 68.7 538.2 67.9 539.2 67.0C540.2 66.1 541.2 65.2 542.2 64.3C543.2 63.4 544.2 62.5 545.2 61.6C546.2 60.7 547.2 59.8 548.2 59.0C549.2 58.2 550.2 57.4 551.3 56.6C552.4 55.9 553.6 55.2 554.7 54.6C555.9 54.0 557.1 53.5 558.3 53.0C559.5 52.4 560.8 51.9 562.0 51.4C563.3 50.9 564.5 50.4 565.7 49.9C567.0 49.4 568.2 48.9 569.4 48.4C570.7 47.9 571.9 47.4 573.1 46.9C574.4 46.4 575.6 45.8 576.8 45.3C578.0 44.8 579.2 44.3 580.5 43.8C581.7 43.3 583.0 42.8 584.2 42.4C585.5 41.9 586.7 41.5 588.0 41.1C589.3 40.7 590.5 40.3 591.8 39.9C593.1 39.5 594.3 39.0 595.6 38.6C596.9 38.2 598.1 37.8 599.4 37.5C600.7 37.1 602.0 36.8 603.3 36.5C604.6 36.3 605.9 36.1 607.2 35.9C608.5 35.8 609.8 35.7 611.2 35.6C612.5 35.5 613.8 35.4 615.2 35.3C616.5 35.2 617.8 35.2 619.2 35.1C620.5 35.0 621.8 34.9 623.1 34.9C624.5 34.9 625.8 34.8 627.1 34.8C628.5 34.8 629.8 34.8 631.1 34.9C632.5 34.9 633.8 34.9 635.1 35.0C636.5 35.1 637.8 35.1 639.1 35.2C640.4 35.3 641.8 35.4 643.1 35.6C644.4 35.8 645.7 36.0 647.0 36.2C648.4 36.4 649.7 36.6 651.0 36.9C652.3 37.1 653.6 37.4 654.9 37.6C656.2 37.8 657.5 38.1 658.9 38.3C660.2 38.5 661.5 38.8 662.8 39.0C664.1 39.2 665.4 39.4 666.7 39.7C668.1 39.9 669.4 40.1 670.7 40.3C672.0 40.5 673.3 40.7 674.6 41.0C675.9 41.2 677.3 41.4 678.6 41.7C679.9 42.0 681.2 42.2 682.4 42.6C683.7 42.9 685.0 43.3 686.3 43.7C687.5 44.1 688.8 44.6 690.0 45.0C691.3 45.5 692.5 45.9 693.8 46.4C695.0 46.9 696.3 47.4 697.5 47.9C698.7 48.4 699.9 48.9 701.1 49.5C702.4 50.0 703.6 50.6 704.8 51.2C706.0 51.8 707.1 52.4 708.3 53.0C709.5 53.6 710.7 54.2 711.9 54.8C713.1 55.4 714.3 56.1 715.4 56.7C716.6 57.4 717.7 58.0 718.9 58.7C720.0 59.4 721.1 60.1 722.3 60.8C723.4 61.5 724.5 62.2 725.7 62.9C726.8 63.6 727.9 64.3 729.1 65.1C730.2 65.8 731.3 66.5 732.4 67.2C733.5 68.0 734.6 68.7 735.7 69.5C736.8 70.2 737.9 71.0 739.0 71.7C740.1 72.5 741.2 73.2 742.3 74.0C743.4 74.7 744.5 75.5 745.6 76.3C746.7 77.0 747.8 77.8 748.9 78.6C749.9 79.4 751.0 80.2 752.1 81.0C753.2 81.7 754.2 82.5 755.3 83.3C756.4 84.1 757.4 84.9 758.5 85.7C759.6 86.5 760.6 87.3 761.7 88.2C762.7 89.0 763.8 89.8 764.9 90.6C765.9 91.4 766.9 92.3 768.0 93.1C769.0 93.9 770.1 94.8 771.1 95.6C772.1 96.4 773.2 97.3 774.2 98.1C775.2 99.0 776.3 99.8 777.3 100.7C778.3 101.5 779.3 102.4 780.3 103.3C781.3 104.1 782.3 105.0 783.3 105.9C784.3 106.8 785.3 107.7 786.3 108.6C787.3 109.5 788.2 110.4 789.2 111.3C790.2 112.2 791.2 113.1 792.1 114.1C793.1 115.0 794.0 115.9 795.0 116.9C795.9 117.8 796.8 118.8 797.8 119.7C798.7 120.7 799.6 121.7 800.5 122.7C801.4 123.6 802.3 124.6 803.2 125.6C804.1 126.6 805.0 127.5 805.9 128.5C806.9 129.5 807.8 130.4 808.7 131.4C809.6 132.3 810.6 133.3 811.5 134.2C812.4 135.1 813.8 136.5 814.2 136.9" fill="none" stroke="#0000ff" stroke-width="6.6" stroke-linecap="round" stroke-linejoin="round"/>
<path d="M191.4 120.7C191.8 120.2 193.2 118.8 194.2 117.8C195.1 116.9 196.1 116.0 197.0 115.0C197.9 114.1 198.9 113.1 199.8 112.2C200.7 111.2 201.6 110.2 202.6 109.3C203.5 108.3 204.4 107.3 205.3 106.3C206.2 105.4 207.1 104.4 208.0 103.4C209.0 102.5 209.9 101.5 210.9 100.6C211.8 99.7 212.8 98.9 213.9 98.1C214.9 97.3 216.1 96.6 217.2 95.9C218.3 95.2 219.5 94.5 220.6 93.9C221.8 93.2 222.9 92.6 224.1 92.0C225.3 91.4 226.5 90.8 227.7 90.3C228.9 89.8 230.2 89.3 231.4 89.0C232.7 88.6 234.0 88.3 235.3 88.0C236.6 87.7 237.9 87.5 239.2 87.3C240.5 87.0 241.8 86.8 243.1 86.7C244.5 86.5 245.8 86.4 247.1 86.3C248.4 86.2 249.8 86.2 251.1 86.1C252.4 86.1 253.8 86.1 255.1 86.1C256.4 86.1 257.8 86.1 259.1 86.1C260.4 86.1 261.8 86.1 263.1 86.2C264.4 86.3 265.7 86.4 267.0 86.7C268.3 86.9 269.6 87.2 270.8 87.6C272.1 87.9 273.3 88.4 274.6 88.8C275.8 89.3 277.0 89.8 278.2 90.4C279.4 90.9 280.6 91.5 281.8 92.2C282.9 92.8 284.1 93.5 285.2 94.3C286.3 95.0 287.4 95.7 288.5 96.5C289.6 97.3 290.6 98.0 291.7 98.9C292.8 99.7 293.8 100.5 294.8 101.4C295.8 102.2 296.8 103.2 297.7 104.1C298.7 105.0 299.6 105.9 300.6 106.9C301.5 107.8 302.5 108.8 303.4 109.7C304.3 110.7 305.2 111.7 306.0 112.7C306.9 113.7 307.7 114.8 308.5 115.8C309.3 116.9 310.1 118.0 310.9 119.1C311.6 120.1 312.4 121.2 313.2 122.3C313.9 123.4 314.7 124.5 315.5 125.6C316.2 126.7 316.9 127.8 317.7 128.9C318.4 130.1 319.1 131.2 319.7 132.3C320.4 133.5 321.1 134.6 321.7 135.8C322.4 137.0 323.0 138.1 323.6 139.3C324.3 140.5 324.9 141.7 325.6 142.8C326.2 144.0 326.8 145.2 327.5 146.3C328.1 147.5 328.7 148.7 329.3 149.9C329.9 151.1 330.5 152.3 331.0 153.5C331.6 154.7 332.1 155.9 332.6 157.2C333.1 158.4 333.6 159.6 334.1 160.9C334.6 162.1 335.1 163.3 335.6 164.6C336.1 165.8 336.6 167.0 337.1 168.3C337.6 169.5 338.1 170.8 338.6 172.0C339.1 173.2 339.7 174.4 340.2 175.7C340.7 176.9 341.2 178.1 341.7 179.4C342.2 180.6 342.8 181.8 343.3 183.0C343.8 184.3 344.3 185.5 344.8 186.7C345.4 188.0 345.9 189.2 346.4 190.4C346.9 191.7 347.3 192.9 347.8 194.2C348.3 195.4 348.8 196.6 349.2 197.9C349.7 199.1 350.2 200.4 350.6 201.6C351.1 202.9 351.5 204.1 352.0 205.4C352.4 206.7 352.8 207.9 353.3 209.2C353.7 210.5 354.1 211.7 354.5 213.0C354.9 214.3 355.3 215.5 355.7 216.8C356.1 218.1 356.5 219.3 356.9 220.6C357.3 221.9 357.7 223.2 358.1 224.4C358.5 225.7 358.9 227.0 359.3 228.3C359.7 229.5 360.1 230.8 360.5 232.1C360.9 233.4 361.2 234.6 361.6 235.9C362.0 237.2 362.4 238.5 362.7 239.8C363.1 241.0 363.5 242.3 363.9 243.6C364.2 244.9 364.6 246.2 365.0 247.4C365.3 248.7 365.7 250.0 366.1 251.3C366.5 252.6 366.9 253.8 367.2 255.1C367.6 256.4 368.0 257.7 368.4 258.9C368.8 260.2 369.2 261.5 369.6 262.8C370.0 264.0 370.3 265.3 370.7 266.6C371.1 267.9 371.5 269.1 371.9 270.4C372.3 271.7 372.7 273.0 373.1 274.2C373.4 275.5 373.8 276.8 374.2 278.1C374.6 279.3 375.0 280.6 375.4 281.9C375.8 283.2 376.2 284.4 376.6 285.7C376.9 287.0 377.3 288.3 377.7 289.5C378.1 290.8 378.5 292.1 378.9 293.4C379.3 294.7 379.7 295.9 380.0 297.2C380.4 298.5 380.8 299.8 381.2 301.0C381.5 302.3 381.9 303.6 382.3 304.9C382.6 306.2 383.0 307.4 383.4 308.7C383.7 310.0 384.1 311.3 384.5 312.6C384.8 313.9 385.2 315.1 385.6 316.4C385.9 317.7 386.3 319.0 386.7 320.3C387.1 321.5 387.5 322.8 387.9 324.1C388.3 325.3 388.8 326.6 389.2 327.8C389.7 329.1 390.2 330.3 390.7 331.6C391.2 332.8 391.7 334.0 392.2 335.3C392.7 336.5 393.2 337.7 393.8 338.9C394.3 340.2 394.8 341.4 395.4 342.6C395.9 343.8 396.5 345.0 397.1 346.2C397.7 347.4 398.3 348.5 399.0 349.6C399.7 350.8 400.5 351.8 401.3 352.9C402.1 353.9 403.0 354.9 403.9 355.9C404.8 356.9 405.7 357.9 406.7 358.8C407.6 359.7 408.6 360.6 409.6 361.5C410.6 362.3 411.6 363.2 412.7 364.0C413.7 364.8 414.8 365.6 415.9 366.3C417.0 367.1 418.1 367.9 419.2 368.5C420.3 369.1 421.5 369.7 422.6 370.0C423.7 370.4 424.9 370.5 425.9 370.4C427.0 370.2 428.1 369.8 429.2 369.2C430.2 368.6 431.2 367.7 432.1 366.8C433.0 366.0 433.9 364.9 434.8 363.9C435.6 362.9 436.4 361.9 437.2 360.8C438.0 359.7 438.7 358.6 439.5 357.5C440.2 356.4 440.9 355.2 441.6 354.1C442.3 353.0 442.9 351.8 443.6 350.6C444.2 349.5 444.8 348.3 445.5 347.1C446.1 345.9 446.7 344.7 447.3 343.5C447.8 342.3 448.4 341.1 448.9 339.9C449.5 338.7 450.0 337.5 450.5 336.3C451.0 335.0 451.5 333.8 451.9 332.5C452.4 331.3 452.8 330.0 453.3 328.8C453.7 327.5 454.1 326.2 454.5 325.0C454.9 323.7 455.3 322.4 455.7 321.1C456.0 319.9 456.4 318.6 456.8 317.3C457.1 316.0 457.5 314.7 457.8 313.4C458.2 312.2 458.6 310.9 459.0 309.6C459.4 308.3 459.8 307.1 460.2 305.8C460.6 304.5 461.1 303.3 461.5 302.0C461.9 300.7 462.3 299.5 462.7 298.2C463.2 296.9 463.6 295.7 464.0 294.4C464.4 293.1 464.9 291.9 465.3 290.6C465.7 289.4 466.1 288.1 466.5 286.8C467.0 285.6 467.4 284.3 467.8 283.0C468.2 281.8 468.6 280.5 469.1 279.2C469.5 278.0 469.9 276.7 470.3 275.4C470.8 274.2 471.2 272.9 471.6 271.6C472.0 270.4 472.4 269.1 472.9 267.9C473.3 266.6 473.7 265.3 474.2 264.1C474.6 262.8 475.0 261.6 475.5 260.3C475.9 259.0 476.4 257.8 476.8 256.5C477.3 255.3 477.8 254.0 478.2 252.8C478.7 251.5 479.1 250.3 479.6 249.0C480.0 247.8 480.5 246.5 481.0 245.3C481.4 244.0 481.9 242.8 482.4 241.5C482.8 240.3 483.3 239.0 483.8 237.8C484.3 236.6 484.8 235.3 485.3 234.1C485.8 232.8 486.3 231.6 486.8 230.4C487.3 229.1 487.8 227.9 488.3 226.7C488.8 225.4 489.4 224.2 489.9 223.0C490.4 221.7 490.9 220.5 491.4 219.3C491.9 218.0 492.4 216.8 492.9 215.6C493.3 214.3 493.8 213.1 494.3 211.8C494.8 210.6 495.3 209.3 495.7 208.1C496.2 206.8 496.7 205.6 497.2 204.4C497.6 203.1 498.1 201.9 498.6 200.6C499.1 199.4 499.6 198.2 500.1 196.9C500.6 195.7 501.1 194.5 501.7 193.2C502.2 192.0 502.7 190.8 503.3 189.6C503.8 188.4 504.4 187.1 504.9 185.9C505.5 184.7 506.0 183.5 506.6 182.3C507.1 181.1 507.7 179.9 508.3 178.7C508.8 177.5 509.4 176.3 510.0 175.1C510.6 173.9 511.2 172.7 511.8 171.5C512.4 170.3 513.0 169.1 513.6 167.9C514.2 166.7 514.8 165.5 515.4 164.3C516.0 163.1 516.6 162.0 517.2 160.8C517.8 159.6 518.4 158.4 519.0 157.2C519.6 156.0 520.2 154.8 520.8 153.6C521.4 152.5 522.1 151.3 522.7 150.2C523.4 149.0 524.1 147.9 524.9 146.8C525.6 145.6 526.3 144.6 527.1 143.4C527.8 142.3 528.6 141.2 529.3 140.1C530.1 139.0 530.8 137.9 531.6 136.8C532.3 135.7 533.0 134.6 533.7 133.5C534.5 132.3 535.2 131.2 535.9 130.1C536.6 129.0 537.3 127.8 538.0 126.7C538.7 125.6 539.4 124.4 540.1 123.3C540.8 122.2 541.6 121.1 542.3 119.9C543.0 118.8 543.8 117.7 544.5 116.6C545.2 115.5 546.0 114.4 546.7 113.3C547.4 112.2 548.2 111.0 548.9 109.9C549.7 108.8 550.4 107.7 551.2 106.7C552.0 105.6 552.7 104.5 553.5 103.4C554.3 102.3 555.1 101.3 555.9 100.2C556.7 99.1 557.5 98.1 558.4 97.0C559.2 96.0 560.0 94.9 560.9 93.9C561.7 92.9 562.5 91.8 563.4 90.8C564.3 89.8 565.2 88.8 566.1 87.8C566.9 86.8 567.8 85.9 568.8 84.9C569.7 83.9 570.6 83.0 571.6 82.1C572.6 81.2 573.6 80.3 574.6 79.5C575.6 78.7 576.7 77.9 577.8 77.2C578.9 76.4 580.0 75.7 581.2 75.1C582.3 74.4 583.5 73.9 584.7 73.4C585.9 72.8 587.2 72.4 588.4 71.9C589.7 71.5 590.9 71.1 592.2 70.6C593.4 70.1 594.6 69.5 595.9 69.0C597.1 68.5 598.3 67.9 599.5 67.3C600.7 66.7 601.9 66.2 603.1 65.6C604.3 65.0 605.5 64.5 606.7 63.9C607.9 63.4 609.1 62.8 610.4 62.3C611.6 61.8 612.9 61.4 614.1 60.9C615.4 60.5 616.6 60.1 617.9 59.8C619.2 59.4 620.5 59.1 621.8 58.7C623.1 58.4 624.4 58.1 625.7 57.8C627.0 57.5 628.3 57.2 629.6 56.9C630.9 56.6 632.2 56.4 633.5 56.2C634.8 55.9 636.1 55.7 637.4 55.5C638.7 55.3 640.1 55.1 641.4 55.0C642.7 54.8 644.0 54.6 645.4 54.5C646.7 54.4 648.0 54.3 649.3 54.3C650.7 54.2 652.0 54.2 653.3 54.2C654.7 54.2 656.0 54.2 657.3 54.2C658.7 54.2 660.0 54.3 661.3 54.4C662.6 54.5 664.0 54.6 665.3 54.7C666.6 54.9 667.9 55.1 669.2 55.3C670.5 55.5 671.9 55.7 673.2 56.0C674.5 56.2 675.8 56.4 677.1 56.7C678.4 56.9 679.7 57.2 681.0 57.5C682.3 57.8 683.6 58.1 684.9 58.5C686.1 58.9 687.4 59.3 688.6 59.8C689.9 60.2 691.1 60.7 692.4 61.1C693.6 61.6 694.9 62.1 696.1 62.6C697.4 63.1 698.6 63.6 699.8 64.1C701.0 64.7 702.2 65.3 703.4 65.8C704.6 66.4 705.8 67.0 707.0 67.6C708.2 68.2 709.4 68.8 710.6 69.4C711.8 70.0 713.0 70.6 714.2 71.2C715.4 71.8 716.6 72.3 717.8 72.9C718.9 73.5 720.1 74.1 721.3 74.7C722.5 75.3 723.7 75.9 724.9 76.5C726.1 77.1 727.3 77.7 728.5 78.3C729.7 78.9 730.8 79.5 732.0 80.2C733.2 80.8 734.4 81.5 735.5 82.1C736.7 82.8 737.8 83.5 738.9 84.2C740.1 84.9 741.2 85.6 742.3 86.3C743.5 87.0 744.6 87.7 745.7 88.4C746.8 89.2 748.0 89.9 749.1 90.6C750.2 91.4 751.3 92.1 752.3 92.9C753.4 93.7 754.5 94.5 755.6 95.3C756.6 96.0 757.7 96.8 758.8 97.6C759.8 98.4 760.9 99.2 762.0 100.1C763.0 100.9 764.1 101.7 765.1 102.5C766.1 103.4 767.1 104.3 768.1 105.1C769.1 106.0 770.1 106.9 771.1 107.9C772.0 108.8 773.0 109.7 773.9 110.6C774.9 111.5 775.9 112.5 776.8 113.4C777.8 114.3 778.8 115.2 779.7 116.2C780.7 117.1 781.7 118.0 782.6 118.9C783.6 119.8 784.6 120.7 785.6 121.6C786.6 122.5 787.6 123.4 788.6 124.2C789.6 125.1 790.6 126.0 791.6 126.9C792.6 127.8 793.6 128.7 794.6 129.6C795.5 130.5 796.5 131.4 797.5 132.3C798.5 133.2 799.5 134.1 800.5 135.0C801.4 135.9 802.4 136.8 803.4 137.7C804.3 138.6 805.3 139.5 806.3 140.4C807.3 141.4 808.2 142.3 809.2 143.2C810.2 144.1 811.2 145.1 812.1 145.9C812.9 146.7 813.9 147.6 814.2 147.9" fill="none" stroke="#008080" stroke-width="6.6" stroke-linecap="round" stroke-linejoin="round"/>
<path d="M191.4 121.7C191.9 121.3 193.4 119.9 194.3 119.0C195.3 118.1 196.3 117.3 197.3 116.3C198.3 115.4 199.2 114.5 200.2 113.6C201.1 112.6 202.0 111.6 202.9 110.7C203.8 109.7 204.7 108.7 205.5 107.7C206.4 106.7 207.3 105.6 208.2 104.7C209.1 103.7 210.0 102.7 210.9 101.8C211.9 100.9 212.9 100.1 213.9 99.3C215.0 98.5 216.1 97.8 217.3 97.2C218.4 96.5 219.6 95.9 220.8 95.3C222.0 94.7 223.2 94.2 224.4 93.6C225.6 93.1 226.8 92.6 228.1 92.1C229.3 91.7 230.6 91.3 231.9 90.9C233.1 90.5 234.4 90.1 235.7 89.8C237.0 89.4 238.3 89.1 239.6 88.8C240.9 88.4 242.1 88.1 243.4 87.9C244.7 87.7 246.1 87.5 247.4 87.4C248.7 87.2 250.0 87.2 251.3 87.2C252.7 87.1 254.0 87.1 255.3 87.1C256.7 87.1 258.0 87.1 259.3 87.1C260.7 87.2 262.0 87.2 263.3 87.3C264.6 87.4 265.9 87.5 267.2 87.8C268.5 88.0 269.8 88.4 271.0 88.8C272.3 89.2 273.5 89.6 274.7 90.2C275.9 90.7 277.1 91.3 278.3 91.9C279.5 92.5 280.6 93.2 281.7 93.9C282.8 94.6 283.9 95.4 285.0 96.1C286.1 96.9 287.1 97.7 288.2 98.5C289.2 99.4 290.3 100.2 291.3 101.1C292.3 101.9 293.3 102.8 294.3 103.7C295.2 104.6 296.2 105.6 297.1 106.5C298.1 107.4 299.0 108.4 300.0 109.3C300.9 110.3 301.8 111.2 302.7 112.2C303.6 113.2 304.4 114.2 305.3 115.3C306.1 116.3 306.9 117.4 307.7 118.5C308.5 119.5 309.2 120.6 310.0 121.7C310.8 122.8 311.5 123.9 312.3 125.0C313.0 126.1 313.8 127.2 314.5 128.3C315.3 129.4 316.0 130.5 316.7 131.7C317.4 132.8 318.0 134.0 318.6 135.1C319.3 136.3 319.9 137.5 320.5 138.7C321.2 139.8 321.8 141.0 322.4 142.2C323.0 143.4 323.6 144.6 324.2 145.7C324.8 146.9 325.4 148.1 326.0 149.3C326.6 150.5 327.1 151.7 327.7 153.0C328.2 154.2 328.7 155.4 329.2 156.7C329.7 157.9 330.2 159.1 330.7 160.4C331.2 161.6 331.7 162.8 332.2 164.1C332.6 165.3 333.1 166.6 333.6 167.8C334.0 169.1 334.4 170.3 334.8 171.6C335.2 172.9 335.5 174.2 335.8 175.5C336.1 176.8 336.4 178.1 336.7 179.4C337.0 180.7 337.3 182.0 337.6 183.3C338.0 184.6 338.3 185.9 338.6 187.1C338.9 188.4 339.3 189.7 339.7 191.0C340.0 192.3 340.5 193.5 340.9 194.8C341.3 196.1 341.7 197.3 342.2 198.6C342.6 199.8 343.0 201.1 343.5 202.4C343.9 203.6 344.4 204.9 344.8 206.1C345.2 207.4 345.7 208.7 346.1 209.9C346.5 211.2 346.9 212.5 347.3 213.7C347.7 215.0 348.2 216.3 348.6 217.5C349.0 218.8 349.4 220.1 349.8 221.3C350.2 222.6 350.6 223.9 351.0 225.2C351.4 226.4 351.8 227.7 352.2 229.0C352.6 230.2 353.0 231.5 353.4 232.8C353.8 234.1 354.1 235.3 354.5 236.6C354.9 237.9 355.3 239.2 355.6 240.5C356.0 241.7 356.4 243.0 356.8 244.3C357.1 245.6 357.5 246.9 357.9 248.1C358.3 249.4 358.6 250.7 359.0 252.0C359.4 253.3 359.8 254.5 360.1 255.8C360.5 257.1 360.9 258.4 361.2 259.7C361.6 260.9 362.0 262.2 362.4 263.5C362.7 264.8 363.1 266.1 363.5 267.3C363.9 268.6 364.2 269.9 364.6 271.2C365.0 272.5 365.4 273.7 365.7 275.0C366.1 276.3 366.5 277.6 366.8 278.9C367.2 280.1 367.6 281.4 367.9 282.7C368.3 284.0 368.7 285.3 369.0 286.6C369.4 287.8 369.8 289.1 370.1 290.4C370.5 291.7 370.8 293.0 371.2 294.3C371.6 295.5 371.9 296.8 372.3 298.1C372.6 299.4 373.0 300.7 373.3 302.0C373.7 303.2 374.0 304.5 374.4 305.8C374.7 307.1 375.1 308.4 375.4 309.7C375.7 311.0 376.1 312.3 376.4 313.6C376.7 314.9 377.1 316.2 377.4 317.4C377.7 318.7 378.0 320.0 378.4 321.3C378.7 322.6 379.1 323.9 379.4 325.2C379.8 326.4 380.2 327.7 380.6 329.0C381.0 330.3 381.4 331.5 381.8 332.8C382.2 334.1 382.6 335.4 383.0 336.6C383.4 337.9 383.8 339.2 384.2 340.4C384.7 341.7 385.1 343.0 385.5 344.2C385.9 345.5 386.3 346.8 386.7 348.0C387.2 349.3 387.6 350.6 388.0 351.8C388.4 353.1 388.9 354.4 389.3 355.6C389.7 356.9 390.1 358.1 390.6 359.4C391.0 360.7 391.4 361.9 391.9 363.2C392.3 364.4 392.8 365.7 393.2 367.0C393.6 368.2 394.1 369.5 394.5 370.7C395.0 372.0 395.4 373.2 395.9 374.5C396.4 375.7 396.9 377.0 397.4 378.2C397.9 379.4 398.4 380.7 398.9 381.9C399.4 383.1 400.0 384.3 400.5 385.5C401.1 386.7 401.7 388.0 402.3 389.1C402.9 390.3 403.5 391.5 404.2 392.6C404.9 393.7 405.6 394.8 406.4 395.9C407.2 397.0 408.0 398.1 408.8 399.1C409.7 400.1 410.5 401.1 411.4 402.1C412.4 403.0 413.3 403.9 414.3 404.8C415.4 405.6 416.4 406.4 417.5 407.0C418.6 407.7 419.8 408.2 421.0 408.6C422.1 408.9 423.4 409.1 424.6 409.0C425.7 408.9 426.9 408.6 428.1 408.1C429.2 407.7 430.3 407.0 431.4 406.2C432.4 405.5 433.4 404.6 434.4 403.7C435.4 402.8 436.3 401.8 437.2 400.9C438.1 399.9 438.9 398.9 439.8 397.8C440.6 396.8 441.4 395.8 442.2 394.7C443.0 393.6 443.8 392.6 444.6 391.5C445.3 390.4 446.1 389.3 446.8 388.1C447.5 387.0 448.1 385.8 448.8 384.7C449.4 383.5 450.1 382.3 450.7 381.2C451.3 380.0 451.9 378.8 452.4 377.6C453.0 376.4 453.5 375.1 454.0 373.9C454.5 372.7 455.0 371.5 455.5 370.2C456.0 369.0 456.5 367.7 456.9 366.5C457.4 365.2 457.9 364.0 458.3 362.7C458.7 361.5 459.2 360.2 459.6 358.9C460.0 357.7 460.4 356.4 460.9 355.1C461.3 353.9 461.7 352.6 462.1 351.3C462.5 350.1 463.0 348.8 463.4 347.5C463.8 346.3 464.2 345.0 464.6 343.7C465.1 342.5 465.5 341.2 465.9 340.0C466.3 338.7 466.8 337.4 467.2 336.2C467.6 334.9 468.0 333.6 468.4 332.4C468.9 331.1 469.3 329.8 469.7 328.6C470.1 327.3 470.6 326.0 471.0 324.8C471.4 323.5 471.9 322.3 472.3 321.0C472.8 319.7 473.2 318.5 473.6 317.2C474.1 316.0 474.5 314.7 475.0 313.5C475.4 312.2 475.9 310.9 476.3 309.7C476.7 308.4 477.2 307.2 477.6 305.9C478.1 304.7 478.5 303.4 478.9 302.1C479.4 300.9 479.8 299.6 480.3 298.4C480.7 297.1 481.1 295.8 481.6 294.6C482.0 293.3 482.4 292.1 482.9 290.8C483.3 289.5 483.7 288.3 484.2 287.0C484.6 285.8 485.0 284.5 485.5 283.2C485.9 282.0 486.3 280.7 486.8 279.4C487.2 278.2 487.6 276.9 488.1 275.7C488.5 274.4 488.9 273.1 489.3 271.9C489.8 270.6 490.2 269.3 490.6 268.1C491.1 266.8 491.5 265.6 491.9 264.3C492.3 263.0 492.7 261.8 493.2 260.5C493.6 259.2 494.0 258.0 494.4 256.7C494.9 255.4 495.3 254.2 495.7 252.9C496.1 251.7 496.6 250.4 497.0 249.1C497.4 247.9 497.9 246.6 498.3 245.4C498.8 244.1 499.2 242.8 499.6 241.6C500.1 240.3 500.5 239.1 501.0 237.8C501.4 236.5 501.9 235.3 502.3 234.0C502.7 232.8 503.2 231.5 503.6 230.3C504.1 229.0 504.6 227.8 505.0 226.5C505.5 225.3 505.9 224.0 506.4 222.8C506.9 221.5 507.3 220.2 507.8 219.0C508.2 217.7 508.7 216.5 509.2 215.2C509.6 214.0 510.1 212.7 510.5 211.5C511.0 210.2 511.5 209.0 511.9 207.7C512.4 206.5 512.8 205.2 513.3 204.0C513.8 202.7 514.2 201.5 514.7 200.2C515.2 199.0 515.6 197.7 516.1 196.5C516.6 195.2 517.0 194.0 517.5 192.7C518.0 191.5 518.5 190.3 519.0 189.0C519.5 187.8 520.0 186.6 520.5 185.3C521.0 184.1 521.5 182.9 522.0 181.6C522.6 180.4 523.1 179.2 523.6 178.0C524.2 176.7 524.7 175.5 525.3 174.3C525.9 173.1 526.5 172.0 527.1 170.8C527.7 169.6 528.4 168.4 529.0 167.2C529.6 166.1 530.2 164.9 530.8 163.7C531.4 162.5 532.0 161.3 532.6 160.1C533.2 158.9 533.8 157.7 534.4 156.5C535.0 155.3 535.5 154.1 536.1 152.9C536.7 151.7 537.3 150.5 537.8 149.3C538.4 148.1 539.0 146.9 539.6 145.7C540.1 144.5 540.7 143.3 541.3 142.1C541.9 140.9 542.5 139.7 543.1 138.5C543.6 137.3 544.2 136.1 544.8 134.9C545.4 133.7 546.0 132.5 546.6 131.3C547.2 130.2 547.8 129.0 548.4 127.8C549.0 126.6 549.6 125.4 550.3 124.2C550.9 123.1 551.6 121.9 552.3 120.8C553.0 119.7 553.8 118.6 554.6 117.6C555.4 116.5 556.3 115.5 557.1 114.5C557.9 113.4 558.8 112.4 559.7 111.4C560.5 110.4 561.4 109.4 562.3 108.4C563.2 107.4 564.1 106.5 565.1 105.5C566.0 104.5 566.9 103.6 567.9 102.7C568.8 101.7 569.8 100.8 570.7 99.9C571.7 98.9 572.6 98.0 573.6 97.1C574.6 96.2 575.6 95.3 576.6 94.4C577.6 93.5 578.5 92.6 579.6 91.7C580.6 90.9 581.6 90.0 582.6 89.2C583.7 88.4 584.7 87.6 585.8 86.8C586.9 86.0 588.0 85.2 589.1 84.5C590.2 83.7 591.3 83.0 592.4 82.2C593.5 81.5 594.6 80.8 595.8 80.1C596.9 79.4 598.0 78.7 599.2 78.1C600.4 77.4 601.5 76.8 602.7 76.2C603.9 75.6 605.1 75.0 606.3 74.5C607.5 73.9 608.8 73.4 610.0 72.9C611.2 72.4 612.5 71.9 613.7 71.4C614.9 70.9 616.2 70.4 617.4 70.0C618.7 69.5 619.9 69.0 621.2 68.6C622.5 68.2 623.7 67.8 625.0 67.5C626.3 67.1 627.6 66.7 628.9 66.4C630.1 66.0 631.4 65.6 632.7 65.3C634.0 65.0 635.3 64.6 636.6 64.4C637.9 64.1 639.2 63.8 640.5 63.6C641.8 63.4 643.1 63.2 644.5 63.0C645.8 62.8 647.1 62.6 648.4 62.5C649.7 62.3 651.1 62.2 652.4 62.1C653.7 62.0 655.0 61.9 656.4 61.8C657.7 61.8 659.0 61.7 660.4 61.7C661.7 61.7 663.0 61.7 664.4 61.7C665.7 61.7 667.0 61.7 668.4 61.8C669.7 61.8 671.0 61.8 672.4 61.9C673.7 61.9 675.0 62.0 676.3 62.1C677.7 62.2 679.0 62.3 680.3 62.5C681.6 62.6 682.9 62.8 684.2 63.1C685.5 63.3 686.8 63.7 688.1 64.0C689.4 64.4 690.6 64.8 691.9 65.3C693.1 65.7 694.4 66.2 695.6 66.7C696.9 67.1 698.1 67.6 699.4 68.1C700.6 68.5 701.9 69.0 703.1 69.5C704.4 69.9 705.6 70.4 706.8 70.9C708.1 71.3 709.3 71.8 710.6 72.3C711.8 72.8 713.1 73.2 714.3 73.7C715.6 74.2 716.8 74.7 718.0 75.3C719.2 75.8 720.4 76.4 721.6 77.0C722.8 77.5 724.0 78.1 725.2 78.7C726.4 79.3 727.6 79.9 728.8 80.5C730.0 81.1 731.2 81.7 732.3 82.4C733.5 83.0 734.7 83.7 735.8 84.3C737.0 85.0 738.1 85.7 739.2 86.4C740.4 87.1 741.5 87.8 742.6 88.5C743.8 89.2 744.9 89.9 746.0 90.7C747.1 91.4 748.2 92.1 749.3 92.8C750.5 93.6 751.5 94.4 752.6 95.1C753.7 95.9 754.8 96.7 755.9 97.5C756.9 98.3 758.0 99.1 759.1 99.9C760.1 100.7 761.2 101.5 762.2 102.3C763.3 103.1 764.4 103.9 765.4 104.8C766.4 105.6 767.5 106.4 768.5 107.3C769.5 108.1 770.5 109.0 771.5 109.9C772.5 110.8 773.5 111.6 774.5 112.5C775.6 113.4 776.6 114.3 777.6 115.2C778.6 116.0 779.6 116.9 780.6 117.8C781.6 118.7 782.6 119.5 783.6 120.4C784.6 121.3 785.6 122.1 786.6 123.0C787.6 123.9 788.6 124.7 789.7 125.6C790.7 126.5 791.7 127.4 792.7 128.2C793.7 129.1 794.7 130.0 795.7 130.8C796.7 131.7 797.7 132.6 798.7 133.5C799.7 134.4 800.7 135.3 801.7 136.1C802.7 137.0 803.7 137.9 804.7 138.8C805.7 139.7 806.6 140.6 807.6 141.5C808.6 142.4 809.5 143.3 810.4 144.1C811.3 145.0 812.4 146.0 813.0 146.6C813.6 147.2 814.0 147.5 814.2 147.7" fill="none" stroke="#808000" stroke-width="6.6" stroke-linecap="round" stroke-linejoin="round"/>
<line x1="420.2" y1="81" x2="438.1" y2="538" stroke="#000" stroke-width="3"/>
<path d="M438.6 546.5 L430.8 535 L438.2 538.2 L446 534.8 Z" fill="#000" stroke="#000" stroke-width="0.6" stroke-linejoin="round"/>
<text x="425.5" y="71" font-size="31.7" text-anchor="middle" >0.2 µM</text>
<text x="447" y="574" font-size="31.7" text-anchor="middle" >3.0 µM</text>
<rect x="150.8" y="13.5" width="712.5999999999999" height="579.7" fill="none" stroke="#000" stroke-width="5" stroke-linejoin="round"/>
<line x1="140.5" y1="50.5" x2="148" y2="50.5" stroke="#000" stroke-width="5" stroke-linecap="round"/>
<text x="132" y="63.0" font-size="39.3" text-anchor="end" >1.6µ</text>
<line x1="140.5" y1="200.2" x2="148" y2="200.2" stroke="#000" stroke-width="5" stroke-linecap="round"/>
<text x="132" y="212.7" font-size="39.3" text-anchor="end" >2.0µ</text>
<line x1="140.5" y1="349.9" x2="148" y2="349.9" stroke="#000" stroke-width="5" stroke-linecap="round"/>
<text x="132" y="362.4" font-size="39.3" text-anchor="end" >2.4µ</text>
<line x1="140.5" y1="499.6" x2="148" y2="499.6" stroke="#000" stroke-width="5" stroke-linecap="round"/>
<text x="132" y="512.1" font-size="39.3" text-anchor="end" >2.8µ</text>
<line x1="145.5" y1="125.35" x2="148" y2="125.35" stroke="#000" stroke-width="5" stroke-linecap="round"/>
<line x1="145.5" y1="275.05" x2="148" y2="275.05" stroke="#000" stroke-width="5" stroke-linecap="round"/>
<line x1="145.5" y1="424.74999999999994" x2="148" y2="424.74999999999994" stroke="#000" stroke-width="5" stroke-linecap="round"/>
<line x1="145.5" y1="574.4499999999999" x2="148" y2="574.4499999999999" stroke="#000" stroke-width="5" stroke-linecap="round"/>
<line x1="182.5" y1="596" x2="182.5" y2="603" stroke="#000" stroke-width="5" stroke-linecap="round"/>
<text x="182.5" y="639.2" font-size="39.3" text-anchor="middle" >0.3</text>
<line x1="398.65" y1="596" x2="398.65" y2="603" stroke="#000" stroke-width="5" stroke-linecap="round"/>
<text x="398.65" y="639.2" font-size="39.3" text-anchor="middle" >0.4</text>
<line x1="614.8" y1="596" x2="614.8" y2="603" stroke="#000" stroke-width="5" stroke-linecap="round"/>
<text x="614.8" y="639.2" font-size="39.3" text-anchor="middle" >0.5</text>
<line x1="830.95" y1="596" x2="830.95" y2="603" stroke="#000" stroke-width="5" stroke-linecap="round"/>
<text x="830.95" y="639.2" font-size="39.3" text-anchor="middle" >0.6</text>
<line x1="290.575" y1="596" x2="290.575" y2="598.5" stroke="#000" stroke-width="5" stroke-linecap="round"/>
<line x1="506.725" y1="596" x2="506.725" y2="598.5" stroke="#000" stroke-width="5" stroke-linecap="round"/>
<line x1="722.875" y1="596" x2="722.875" y2="598.5" stroke="#000" stroke-width="5" stroke-linecap="round"/>
<rect x="169" y="499.5" width="80" height="77.5" fill="#fff" stroke="#000" stroke-width="3"/>
<text transform="translate(210,560.8) scale(0.94,1)" font-size="100.5" text-anchor="middle">a</text>
<text transform="translate(485.25,699.8) scale(1.05,1)" font-size="41.7" text-anchor="middle">Potential v/s Hg<tspan dy="18" font-size="34">2</tspan><tspan dy="-18">Cl</tspan><tspan dy="18" font-size="34">2</tspan><tspan dy="-18"> (V)</tspan></text>
<text transform="translate(34.8,284.9) rotate(-90) scale(0.979,1)" font-size="43.4" text-anchor="middle">Current (A)</text>
<defs><radialGradient id="hl"><stop offset="0" stop-color="#fff" stop-opacity="1"/><stop offset="0.22" stop-color="#fff" stop-opacity="1"/><stop offset="0.3" stop-color="#fff" stop-opacity="0.72"/><stop offset="0.5" stop-color="#fff" stop-opacity="0.6"/><stop offset="0.55" stop-color="#fff" stop-opacity="0.45"/><stop offset="0.78" stop-color="#fff" stop-opacity="0.4"/><stop offset="0.82" stop-color="#fff" stop-opacity="0.28"/><stop offset="1" stop-color="#fff" stop-opacity="0.25"/></radialGradient></defs>
<line x1="1138.4" y1="506.8" x2="1138.4" y2="529.7" stroke="#000" stroke-width="3"/>
<line x1="1179.5" y1="461.0" x2="1179.5" y2="485.4" stroke="#000" stroke-width="3"/>
<line x1="1220.2" y1="421.3" x2="1220.2" y2="447.2" stroke="#000" stroke-width="3"/>
<line x1="1260.8" y1="363.8" x2="1260.8" y2="390.8" stroke="#000" stroke-width="3"/>
<line x1="1301.7" y1="304.4" x2="1301.7" y2="333.0" stroke="#000" stroke-width="3"/>
<line x1="1403.8" y1="231.5" x2="1403.8" y2="262.0" stroke="#000" stroke-width="3"/>
<circle cx="1138.4" cy="518.0" r="14.2" fill="#0000ff"/>
<circle cx="1134.2" cy="513.8" r="7.5" fill="url(#hl)"/>
<circle cx="1179.5" cy="473.2" r="14.2" fill="#0000ff"/>
<circle cx="1175.3" cy="469.0" r="7.5" fill="url(#hl)"/>
<circle cx="1220.2" cy="433.5" r="14.2" fill="#0000ff"/>
<circle cx="1216.0" cy="429.3" r="7.5" fill="url(#hl)"/>
<circle cx="1260.8" cy="377.2" r="14.2" fill="#0000ff"/>
<circle cx="1256.6" cy="373.0" r="7.5" fill="url(#hl)"/>
<circle cx="1301.7" cy="318.4" r="14.2" fill="#0000ff"/>
<circle cx="1297.5" cy="314.2" r="7.5" fill="url(#hl)"/>
<circle cx="1403.8" cy="247.0" r="14.2" fill="#0000ff"/>
<circle cx="1399.6" cy="242.8" r="7.5" fill="url(#hl)"/>
<circle cx="1505.6" cy="200.3" r="14.2" fill="#0000ff"/>
<circle cx="1501.4" cy="196.1" r="7.5" fill="url(#hl)"/>
<circle cx="1607.6" cy="143.8" r="14.2" fill="#0000ff"/>
<circle cx="1603.4" cy="139.6" r="7.5" fill="url(#hl)"/>
<circle cx="1709.7" cy="69.6" r="14.2" fill="#0000ff"/>
<circle cx="1705.5" cy="65.4" r="7.5" fill="url(#hl)"/>
<line x1="1125.9" y1="506.8" x2="1150.9" y2="506.8" stroke="#000" stroke-width="4" stroke-linecap="round"/>
<line x1="1125.9" y1="529.7" x2="1150.9" y2="529.7" stroke="#000" stroke-width="4" stroke-linecap="round"/>
<line x1="1167.0" y1="461.0" x2="1192.0" y2="461.0" stroke="#000" stroke-width="4" stroke-linecap="round"/>
<line x1="1167.0" y1="485.4" x2="1192.0" y2="485.4" stroke="#000" stroke-width="4" stroke-linecap="round"/>
<line x1="1207.7" y1="421.3" x2="1232.7" y2="421.3" stroke="#000" stroke-width="4" stroke-linecap="round"/>
<line x1="1207.7" y1="447.2" x2="1232.7" y2="447.2" stroke="#000" stroke-width="4" stroke-linecap="round"/>
<line x1="1248.3" y1="363.8" x2="1273.3" y2="363.8" stroke="#000" stroke-width="4" stroke-linecap="round"/>
<line x1="1248.3" y1="390.8" x2="1273.3" y2="390.8" stroke="#000" stroke-width="4" stroke-linecap="round"/>
<line x1="1289.2" y1="304.4" x2="1314.2" y2="304.4" stroke="#000" stroke-width="4" stroke-linecap="round"/>
<line x1="1289.2" y1="333.0" x2="1314.2" y2="333.0" stroke="#000" stroke-width="4" stroke-linecap="round"/>
<line x1="1391.3" y1="231.5" x2="1416.3" y2="231.5" stroke="#000" stroke-width="4" stroke-linecap="round"/>
<line x1="1391.3" y1="262.0" x2="1416.3" y2="262.0" stroke="#000" stroke-width="4" stroke-linecap="round"/>
<line x1="1097.1" y1="554.6" x2="1423.6" y2="210" stroke="#000" stroke-width="4" stroke-linecap="round"/>
<rect x="1046.7" y="18.8" width="714.3" height="561.9000000000001" fill="none" stroke="#000" stroke-width="5.5" stroke-linejoin="round"/>
<line x1="1040.7" y1="580.7" x2="1046.7" y2="580.7" stroke="#000" stroke-width="5.5" stroke-linecap="round"/>
<line x1="1035.7" y1="18.8" x2="1044" y2="18.8" stroke="#000" stroke-width="5" stroke-linecap="round"/>
<text x="1027.5" y="31.200000000000003" font-size="42.5" text-anchor="end" >3.0µ</text>
<line x1="1035.7" y1="143.5" x2="1044" y2="143.5" stroke="#000" stroke-width="5" stroke-linecap="round"/>
<text x="1027.5" y="155.9" font-size="42.5" text-anchor="end" >2.7µ</text>
<line x1="1035.7" y1="268.2" x2="1044" y2="268.2" stroke="#000" stroke-width="5" stroke-linecap="round"/>
<text x="1027.5" y="280.59999999999997" font-size="42.5" text-anchor="end" >2.4µ</text>
<line x1="1035.7" y1="392.9" x2="1044" y2="392.9" stroke="#000" stroke-width="5" stroke-linecap="round"/>
<text x="1027.5" y="405.29999999999995" font-size="42.5" text-anchor="end" >2.1µ</text>
<line x1="1035.7" y1="517.6" x2="1044" y2="517.6" stroke="#000" stroke-width="5" stroke-linecap="round"/>
<text x="1027.5" y="530.0" font-size="42.5" text-anchor="end" >1.8µ</text>
<line x1="1041.4" y1="81.15" x2="1044" y2="81.15" stroke="#000" stroke-width="5" stroke-linecap="round"/>
<line x1="1041.4" y1="205.85" x2="1044" y2="205.85" stroke="#000" stroke-width="5" stroke-linecap="round"/>
<line x1="1041.4" y1="330.55" x2="1044" y2="330.55" stroke="#000" stroke-width="5" stroke-linecap="round"/>
<line x1="1041.4" y1="455.24999999999994" x2="1044" y2="455.24999999999994" stroke="#000" stroke-width="5" stroke-linecap="round"/>
<line x1="1041.4" y1="579.9499999999999" x2="1044" y2="579.9499999999999" stroke="#000" stroke-width="5" stroke-linecap="round"/>
<line x1="1097.3" y1="583" x2="1097.3" y2="591.3" stroke="#000" stroke-width="5" stroke-linecap="round"/>
<text x="1097.3" y="630.2" font-size="42.5" text-anchor="middle" >0.0</text>
<line x1="1301.2" y1="583" x2="1301.2" y2="591.3" stroke="#000" stroke-width="5" stroke-linecap="round"/>
<text x="1302.2" y="630.2" font-size="42.5" text-anchor="middle" >1.0µ</text>
<line x1="1505.1" y1="583" x2="1505.1" y2="591.3" stroke="#000" stroke-width="5" stroke-linecap="round"/>
<text x="1506.1" y="630.2" font-size="42.5" text-anchor="middle" >2.0µ</text>
<line x1="1709.0" y1="583" x2="1709.0" y2="591.3" stroke="#000" stroke-width="5" stroke-linecap="round"/>
<text x="1710.0" y="630.2" font-size="42.5" text-anchor="middle" >3.0µ</text>
<line x1="1199.25" y1="583" x2="1199.25" y2="586.8" stroke="#000" stroke-width="5" stroke-linecap="round"/>
<line x1="1403.15" y1="583" x2="1403.15" y2="586.8" stroke="#000" stroke-width="5" stroke-linecap="round"/>
<line x1="1607.05" y1="583" x2="1607.05" y2="586.8" stroke="#000" stroke-width="5" stroke-linecap="round"/>
<rect x="1060.5" y="33" width="80.5" height="77.5" fill="#fff" stroke="#000" stroke-width="3"/>
<text x="1102" y="100.3" font-size="83" text-anchor="middle" >b</text>
<text transform="translate(1405,705.8) scale(1.063,1)" font-size="45.1" text-anchor="middle">[FAFT] (M)</text>
<text transform="translate(913.8,326.8) rotate(-90) scale(0.965,1)" font-size="47.7" text-anchor="middle">Current (A)</text>
<path d="M181.3 812.5C181.9 812.2 183.7 811.2 184.8 810.6C186.0 810.0 187.2 809.4 188.4 808.9C189.6 808.3 190.9 807.8 192.1 807.3C193.3 806.9 194.6 806.4 195.9 806.1C197.1 805.7 198.4 805.3 199.7 805.0C201.0 804.7 202.3 804.5 203.6 804.3C205.0 804.1 206.3 803.9 207.6 803.8C208.9 803.7 210.2 803.6 211.6 803.6C212.9 803.6 214.2 803.6 215.5 803.7C216.9 803.8 218.2 804.0 219.5 804.2C220.8 804.4 222.1 804.7 223.4 805.0C224.7 805.4 225.9 805.8 227.2 806.2C228.5 806.6 229.7 807.0 231.0 807.4C232.2 807.9 233.5 808.3 234.7 808.8C236.0 809.3 237.2 809.8 238.5 810.3C239.7 810.8 240.9 811.3 242.1 811.8C243.4 812.4 244.6 812.9 245.8 813.4C247.0 814.0 248.2 814.6 249.4 815.2C250.6 815.7 251.8 816.3 253.0 816.9C254.2 817.5 255.4 818.1 256.6 818.7C257.8 819.3 259.0 819.9 260.2 820.5C261.3 821.1 262.5 821.7 263.7 822.3C264.9 822.9 266.1 823.5 267.3 824.0C268.5 824.6 269.8 825.1 271.0 825.6C272.2 826.1 273.5 826.6 274.7 827.0C276.0 827.5 277.3 827.9 278.5 828.3C279.8 828.6 281.1 829.0 282.4 829.3C283.7 829.5 285.0 829.8 286.3 830.0C287.6 830.1 288.9 830.3 290.3 830.4C291.6 830.5 292.9 830.7 294.2 830.7C295.6 830.8 296.9 830.8 298.2 830.8C299.5 830.8 300.9 830.7 302.2 830.6C303.5 830.5 304.9 830.4 306.2 830.3C307.5 830.2 308.8 830.0 310.2 829.9C311.5 829.8 312.8 829.6 314.1 829.5C315.5 829.3 316.8 829.2 318.1 829.1C319.4 829.1 320.8 829.0 322.1 829.1C323.4 829.1 324.7 829.2 326.0 829.4C327.3 829.6 328.6 829.9 329.9 830.2C331.2 830.6 332.4 831.1 333.6 831.6C334.8 832.1 336.0 832.7 337.1 833.4C338.3 834.0 339.4 834.7 340.5 835.5C341.5 836.3 342.6 837.1 343.5 838.0C344.5 838.9 345.5 839.8 346.4 840.7C347.4 841.7 348.3 842.6 349.2 843.6C350.1 844.6 350.9 845.6 351.7 846.7C352.5 847.7 353.2 848.8 353.9 850.0C354.6 851.1 355.3 852.3 356.0 853.4C356.6 854.6 357.3 855.7 357.9 856.9C358.6 858.1 359.2 859.2 359.8 860.4C360.4 861.6 360.9 862.8 361.5 864.0C362.1 865.2 362.6 866.5 363.2 867.7C363.7 868.9 364.2 870.1 364.8 871.3C365.3 872.5 365.9 873.8 366.4 875.0C366.9 876.2 367.5 877.4 368.0 878.7C368.5 879.9 369.0 881.1 369.5 882.4C370.0 883.6 370.5 884.8 371.0 886.1C371.5 887.3 372.0 888.5 372.5 889.8C373.0 891.0 373.5 892.3 374.0 893.5C374.5 894.7 375.0 896.0 375.5 897.2C376.0 898.4 376.5 899.7 377.0 900.9C377.6 902.1 378.1 903.3 378.7 904.5C379.2 905.8 379.7 907.0 380.3 908.2C380.8 909.4 381.4 910.6 381.9 911.9C382.4 913.1 383.0 914.3 383.5 915.5C384.1 916.7 384.6 917.9 385.1 919.2C385.7 920.4 386.2 921.6 386.8 922.8C387.3 924.0 387.8 925.3 388.4 926.5C388.9 927.7 389.5 928.9 390.1 930.1C390.6 931.3 391.2 932.5 391.8 933.7C392.4 934.9 393.0 936.1 393.6 937.3C394.2 938.5 394.8 939.7 395.4 940.8C396.1 942.0 396.7 943.2 397.4 944.3C398.0 945.5 398.7 946.6 399.4 947.7C400.1 948.9 400.9 950.0 401.7 951.0C402.5 952.0 403.4 953.0 404.3 953.9C405.3 954.9 406.3 955.7 407.3 956.5C408.4 957.2 409.5 957.9 410.7 958.3C411.9 958.7 413.1 959.1 414.3 959.1C415.5 959.1 416.7 958.9 417.8 958.5C418.9 958.0 420.0 957.3 420.9 956.5C421.9 955.7 422.8 954.6 423.6 953.6C424.4 952.6 425.2 951.5 425.9 950.4C426.6 949.3 427.3 948.1 428.0 947.0C428.6 945.8 429.3 944.7 429.9 943.5C430.5 942.3 431.1 941.1 431.7 939.9C432.3 938.7 432.9 937.5 433.5 936.3C434.1 935.2 434.7 934.0 435.3 932.8C435.8 931.6 436.4 930.3 436.9 929.1C437.5 927.9 438.0 926.7 438.5 925.5C439.0 924.2 439.5 923.0 440.0 921.7C440.5 920.5 441.0 919.3 441.4 918.0C441.9 916.8 442.3 915.5 442.8 914.2C443.2 913.0 443.7 911.7 444.1 910.5C444.5 909.2 445.0 907.9 445.4 906.7C445.8 905.4 446.2 904.2 446.7 902.9C447.1 901.6 447.5 900.4 447.9 899.1C448.3 897.8 448.7 896.5 449.1 895.3C449.5 894.0 449.9 892.7 450.3 891.5C450.7 890.2 451.1 888.9 451.5 887.6C451.9 886.4 452.3 885.1 452.7 883.8C453.1 882.6 453.5 881.3 453.9 880.0C454.3 878.7 454.8 877.5 455.2 876.2C455.6 874.9 456.0 873.7 456.4 872.4C456.9 871.2 457.3 869.9 457.7 868.6C458.1 867.4 458.5 866.1 459.0 864.8C459.4 863.6 459.8 862.3 460.2 861.0C460.7 859.8 461.1 858.5 461.5 857.2C461.9 856.0 462.3 854.7 462.8 853.4C463.2 852.2 463.6 850.9 464.0 849.7C464.5 848.4 464.9 847.1 465.3 845.9C465.8 844.6 466.2 843.4 466.7 842.1C467.1 840.8 467.6 839.6 468.1 838.4C468.5 837.1 469.0 835.9 469.5 834.6C470.0 833.4 470.5 832.1 471.0 830.9C471.4 829.7 471.9 828.4 472.5 827.2C473.0 826.0 473.5 824.7 474.1 823.5C474.6 822.3 475.2 821.1 475.7 819.9C476.3 818.7 476.8 817.5 477.4 816.3C478.0 815.1 478.6 813.9 479.2 812.7C479.8 811.5 480.4 810.3 481.0 809.1C481.6 808.0 482.3 806.8 483.0 805.6C483.6 804.5 484.3 803.3 485.0 802.2C485.7 801.0 486.3 799.9 487.1 798.8C487.8 797.7 488.5 796.5 489.3 795.5C490.1 794.4 490.9 793.3 491.7 792.3C492.5 791.2 493.4 790.2 494.2 789.2C495.0 788.1 495.9 787.1 496.8 786.1C497.6 785.1 498.5 784.1 499.4 783.2C500.4 782.2 501.3 781.3 502.3 780.4C503.3 779.6 504.4 778.7 505.4 777.9C506.4 777.0 507.5 776.2 508.5 775.4C509.6 774.6 510.7 773.8 511.8 773.0C512.9 772.3 514.0 771.6 515.1 770.9C516.3 770.2 517.4 769.6 518.6 768.9C519.8 768.3 520.9 767.7 522.1 767.0C523.3 766.4 524.5 765.8 525.7 765.3C526.9 764.7 528.1 764.2 529.4 763.7C530.6 763.2 531.8 762.7 533.1 762.3C534.3 761.8 535.6 761.3 536.8 760.9C538.1 760.4 539.4 760.0 540.6 759.6C541.9 759.2 543.2 758.8 544.4 758.4C545.7 758.0 547.0 757.7 548.3 757.3C549.6 757.0 550.9 756.6 552.2 756.3C553.5 756.0 554.7 755.6 556.0 755.4C557.3 755.1 558.6 754.8 560.0 754.5C561.3 754.3 562.6 754.1 563.9 753.8C565.2 753.6 566.5 753.4 567.8 753.2C569.2 753.0 570.5 752.8 571.8 752.7C573.1 752.5 574.4 752.4 575.8 752.3C577.1 752.1 578.4 752.0 579.8 752.0C581.1 751.9 582.4 751.8 583.8 751.7C585.1 751.6 586.4 751.6 587.7 751.6C589.1 751.5 590.4 751.5 591.7 751.5C593.1 751.5 594.4 751.5 595.7 751.6C597.1 751.6 598.4 751.7 599.7 751.9C601.0 752.0 602.3 752.2 603.6 752.5C604.9 752.8 606.2 753.1 607.5 753.4C608.8 753.8 610.0 754.2 611.3 754.6C612.6 755.0 613.8 755.5 615.1 755.9C616.3 756.4 617.6 756.8 618.8 757.2C620.1 757.6 621.4 757.9 622.7 758.3C624.0 758.6 625.3 758.8 626.6 759.0C627.9 759.3 629.2 759.5 630.5 759.7C631.8 760.0 633.2 760.2 634.5 760.4C635.8 760.7 637.1 760.9 638.4 761.1C639.7 761.4 641.0 761.6 642.4 761.8C643.7 762.1 645.0 762.3 646.3 762.6C647.6 762.9 648.9 763.1 650.2 763.4C651.5 763.7 652.8 764.1 654.1 764.4C655.4 764.7 656.7 765.0 658.0 765.4C659.2 765.7 660.5 766.0 661.8 766.3C663.1 766.6 664.4 767.0 665.7 767.3C667.0 767.6 668.3 767.9 669.6 768.3C670.9 768.6 672.2 768.9 673.5 769.3C674.7 769.6 676.0 770.0 677.3 770.4C678.6 770.7 679.9 771.1 681.1 771.5C682.4 771.9 683.7 772.3 685.0 772.6C686.3 773.0 687.5 773.4 688.8 773.8C690.1 774.2 691.4 774.6 692.6 774.9C693.9 775.3 695.2 775.7 696.5 776.1C697.7 776.5 699.0 776.9 700.3 777.3C701.6 777.7 702.8 778.1 704.1 778.5C705.4 779.0 706.6 779.4 707.9 779.8C709.1 780.3 710.4 780.7 711.7 781.1C712.9 781.5 714.2 781.9 715.5 782.3C716.7 782.7 718.0 783.0 719.3 783.4C720.6 783.7 721.9 784.0 723.2 784.4C724.5 784.7 725.8 785.0 727.1 785.4C728.4 785.7 729.6 786.1 730.9 786.5C732.2 786.8 733.5 787.2 734.8 787.6C736.0 788.0 737.3 788.3 738.6 788.7C739.9 789.1 741.1 789.5 742.4 789.9C743.7 790.4 744.9 790.8 746.2 791.2C747.4 791.6 748.7 792.1 750.0 792.5C751.2 793.0 752.5 793.4 753.7 793.9C754.9 794.4 756.2 794.9 757.4 795.5C758.6 796.0 759.8 796.6 761.0 797.2C762.2 797.8 763.4 798.4 764.6 799.0C765.8 799.6 767.0 800.2 768.1 800.8C769.3 801.4 770.5 802.0 771.7 802.7C772.9 803.3 774.0 803.9 775.2 804.6C776.4 805.2 777.5 805.8 778.7 806.5C779.9 807.1 781.0 807.8 782.2 808.5C783.3 809.1 784.5 809.8 785.6 810.5C786.8 811.1 787.9 811.8 789.1 812.5C790.2 813.2 791.4 813.9 792.5 814.6C793.6 815.3 794.8 816.0 795.9 816.7C797.0 817.4 798.2 818.1 799.3 818.8C800.4 819.5 801.5 820.2 802.7 821.0C803.8 821.7 804.9 822.4 806.0 823.1C807.1 823.9 808.3 824.6 809.4 825.3C810.5 826.0 811.6 826.7 812.8 827.4C813.9 828.1 815.1 828.8 816.2 829.5C817.3 830.2 818.5 830.9 819.6 831.6C820.7 832.3 821.9 833.0 823.0 833.6C824.1 834.3 825.8 835.4 826.4 835.7" fill="none" stroke="#ff0000" stroke-width="6.4" stroke-linecap="round" stroke-linejoin="round"/>
<path d="M182.2 833.7C182.8 833.4 184.5 832.3 185.6 831.6C186.8 830.9 187.9 830.2 189.0 829.4C190.1 828.6 191.1 827.8 192.2 827.0C193.3 826.2 194.3 825.4 195.4 824.6C196.4 823.8 197.5 823.0 198.6 822.2C199.7 821.5 200.8 820.7 201.9 820.0C203.0 819.3 204.2 818.6 205.3 818.0C206.5 817.3 207.6 816.6 208.8 816.0C210.0 815.4 211.2 814.8 212.4 814.3C213.6 813.8 214.9 813.3 216.1 812.9C217.4 812.4 218.6 812.0 219.9 811.6C221.2 811.2 222.5 810.9 223.7 810.6C225.0 810.2 226.3 810.0 227.6 809.7C228.9 809.5 230.3 809.2 231.6 809.0C232.9 808.8 234.2 808.6 235.5 808.5C236.9 808.3 238.2 808.1 239.5 808.0C240.8 807.9 242.2 807.8 243.5 807.6C244.8 807.5 246.1 807.4 247.5 807.3C248.8 807.2 250.1 807.1 251.5 807.0C252.8 807.0 254.1 806.9 255.5 806.9C256.8 806.9 258.1 806.9 259.5 806.9C260.8 806.9 262.1 806.9 263.5 806.9C264.8 806.9 266.1 806.9 267.4 807.0C268.8 807.1 270.1 807.1 271.4 807.2C272.8 807.3 274.1 807.5 275.4 807.6C276.7 807.7 278.1 807.9 279.4 808.0C280.7 808.2 282.0 808.4 283.3 808.6C284.7 808.8 286.0 809.1 287.3 809.3C288.6 809.6 289.9 809.9 291.2 810.2C292.5 810.5 293.8 810.8 295.0 811.2C296.3 811.6 297.5 812.0 298.8 812.5C300.0 813.0 301.2 813.6 302.4 814.2C303.6 814.8 304.8 815.4 305.9 816.1C307.1 816.7 308.2 817.4 309.3 818.2C310.3 818.9 311.4 819.8 312.4 820.6C313.4 821.5 314.4 822.4 315.4 823.3C316.3 824.2 317.3 825.1 318.2 826.1C319.1 827.0 320.0 828.0 320.9 829.0C321.7 830.0 322.6 831.1 323.4 832.1C324.2 833.2 325.0 834.2 325.8 835.3C326.6 836.4 327.4 837.4 328.2 838.5C328.9 839.6 329.7 840.7 330.4 841.9C331.1 843.0 331.8 844.1 332.4 845.3C333.1 846.4 333.8 847.6 334.4 848.8C335.1 849.9 335.7 851.1 336.3 852.3C337.0 853.4 337.6 854.6 338.1 855.8C338.7 857.0 339.3 858.2 339.8 859.4C340.4 860.7 340.9 861.9 341.5 863.1C342.0 864.3 342.6 865.5 343.1 866.8C343.6 868.0 344.2 869.2 344.7 870.4C345.2 871.6 345.7 872.9 346.2 874.1C346.8 875.3 347.3 876.6 347.8 877.8C348.3 879.0 348.8 880.3 349.2 881.5C349.7 882.8 350.2 884.0 350.7 885.2C351.2 886.5 351.7 887.7 352.2 888.9C352.7 890.2 353.2 891.4 353.6 892.7C354.1 893.9 354.5 895.2 355.0 896.5C355.4 897.7 355.8 899.0 356.2 900.2C356.7 901.5 357.1 902.8 357.5 904.0C357.9 905.3 358.3 906.6 358.8 907.8C359.2 909.1 359.6 910.4 360.0 911.6C360.4 912.9 360.8 914.2 361.2 915.5C361.6 916.7 361.9 918.0 362.2 919.3C362.5 920.6 362.8 921.9 363.1 923.2C363.4 924.5 363.7 925.8 364.0 927.1C364.3 928.4 364.6 929.7 364.9 931.0C365.2 932.3 365.6 933.6 366.0 934.8C366.3 936.1 366.7 937.4 367.1 938.7C367.5 940.0 367.9 941.2 368.2 942.5C368.6 943.8 369.0 945.1 369.4 946.3C369.8 947.6 370.2 948.9 370.5 950.2C370.9 951.5 371.3 952.7 371.7 954.0C372.1 955.3 372.5 956.6 372.8 957.8C373.2 959.1 373.6 960.4 374.0 961.7C374.4 962.9 374.8 964.2 375.1 965.5C375.5 966.8 375.9 968.1 376.3 969.3C376.7 970.6 377.1 971.9 377.4 973.2C377.8 974.4 378.2 975.7 378.6 977.0C379.0 978.3 379.4 979.6 379.7 980.8C380.1 982.1 380.5 983.4 380.9 984.7C381.3 985.9 381.7 987.2 382.1 988.5C382.5 989.8 382.9 991.0 383.3 992.3C383.7 993.6 384.1 994.8 384.5 996.1C384.9 997.4 385.3 998.6 385.8 999.9C386.2 1001.2 386.6 1002.4 387.0 1003.7C387.5 1005.0 387.9 1006.2 388.3 1007.5C388.8 1008.7 389.2 1010.0 389.7 1011.2C390.2 1012.5 390.7 1013.7 391.2 1015.0C391.6 1016.2 392.1 1017.4 392.6 1018.7C393.1 1019.9 393.6 1021.1 394.2 1022.4C394.7 1023.6 395.2 1024.8 395.8 1026.0C396.4 1027.2 396.9 1028.4 397.5 1029.6C398.1 1030.8 398.7 1032.0 399.4 1033.1C400.1 1034.3 400.7 1035.4 401.5 1036.4C402.3 1037.5 403.2 1038.5 404.1 1039.2C405.1 1040.0 406.2 1040.7 407.3 1041.1C408.4 1041.4 409.7 1041.6 410.9 1041.5C412.1 1041.4 413.3 1041.0 414.4 1040.5C415.5 1040.0 416.6 1039.2 417.6 1038.4C418.5 1037.6 419.3 1036.6 420.1 1035.6C420.9 1034.5 421.5 1033.3 422.1 1032.2C422.8 1031.0 423.3 1029.8 423.9 1028.6C424.4 1027.4 425.0 1026.2 425.5 1024.9C426.0 1023.7 426.5 1022.5 426.9 1021.2C427.4 1020.0 427.9 1018.7 428.4 1017.5C428.8 1016.2 429.3 1015.0 429.7 1013.7C430.2 1012.5 430.6 1011.2 431.0 1010.0C431.5 1008.7 431.9 1007.4 432.3 1006.2C432.7 1004.9 433.2 1003.6 433.6 1002.4C434.0 1001.1 434.4 999.8 434.8 998.6C435.2 997.3 435.6 996.0 436.0 994.7C436.3 993.5 436.7 992.2 437.1 990.9C437.5 989.6 437.8 988.3 438.2 987.1C438.6 985.8 439.0 984.5 439.3 983.2C439.7 981.9 440.1 980.7 440.5 979.4C440.9 978.1 441.2 976.8 441.6 975.5C442.0 974.3 442.4 973.0 442.7 971.7C443.1 970.4 443.5 969.2 443.9 967.9C444.2 966.6 444.6 965.3 445.0 964.0C445.3 962.7 445.7 961.5 446.0 960.2C446.4 958.9 446.8 957.6 447.1 956.3C447.5 955.0 447.8 953.8 448.2 952.5C448.5 951.2 448.9 949.9 449.2 948.6C449.6 947.3 449.9 946.0 450.3 944.7C450.6 943.5 450.9 942.2 451.3 940.9C451.6 939.6 451.9 938.3 452.2 937.0C452.6 935.7 452.9 934.4 453.2 933.1C453.5 931.8 453.8 930.5 454.1 929.2C454.4 927.9 454.6 926.6 454.9 925.3C455.2 924.0 455.4 922.7 455.7 921.4C456.0 920.1 456.3 918.8 456.7 917.5C457.0 916.2 457.4 914.9 457.7 913.7C458.1 912.4 458.5 911.1 458.9 909.8C459.3 908.5 459.7 907.3 460.0 906.0C460.4 904.7 460.8 903.4 461.2 902.2C461.6 900.9 462.0 899.6 462.4 898.3C462.8 897.1 463.1 895.8 463.5 894.5C463.9 893.2 464.3 892.0 464.7 890.7C465.1 889.4 465.5 888.1 465.9 886.9C466.3 885.6 466.7 884.3 467.1 883.1C467.5 881.8 467.9 880.5 468.3 879.2C468.7 878.0 469.2 876.7 469.6 875.4C470.0 874.2 470.4 872.9 470.8 871.6C471.2 870.4 471.7 869.1 472.1 867.8C472.5 866.6 472.9 865.3 473.4 864.1C473.8 862.8 474.2 861.5 474.6 860.3C475.1 859.0 475.5 857.7 476.0 856.5C476.4 855.2 476.9 854.0 477.3 852.7C477.7 851.5 478.2 850.2 478.6 849.0C479.1 847.7 479.6 846.4 480.0 845.2C480.5 844.0 481.0 842.7 481.5 841.5C481.9 840.2 482.5 839.0 483.0 837.8C483.5 836.5 484.0 835.3 484.5 834.1C485.1 832.9 485.6 831.6 486.1 830.4C486.7 829.2 487.2 828.0 487.7 826.8C488.3 825.6 488.9 824.4 489.5 823.2C490.1 822.0 490.7 820.8 491.3 819.6C491.9 818.4 492.6 817.3 493.2 816.1C493.8 814.9 494.5 813.7 495.1 812.6C495.8 811.4 496.4 810.3 497.1 809.1C497.9 808.0 498.6 806.9 499.3 805.8C500.1 804.7 500.9 803.6 501.6 802.5C502.4 801.5 503.2 800.4 504.0 799.3C504.8 798.3 505.6 797.2 506.5 796.2C507.3 795.1 508.2 794.1 509.1 793.1C510.0 792.2 510.9 791.2 511.8 790.3C512.8 789.3 513.7 788.4 514.7 787.4C515.6 786.5 516.6 785.6 517.6 784.7C518.6 783.8 519.6 783.0 520.6 782.2C521.7 781.4 522.8 780.7 523.9 780.0C525.1 779.3 526.2 778.6 527.4 777.9C528.5 777.2 529.7 776.6 530.8 775.9C532.0 775.3 533.2 774.6 534.3 774.0C535.5 773.4 536.7 772.9 538.0 772.3C539.2 771.8 540.4 771.3 541.6 770.8C542.9 770.2 544.1 769.7 545.3 769.2C546.6 768.8 547.8 768.3 549.1 767.8C550.3 767.4 551.6 767.0 552.9 766.6C554.1 766.2 555.4 765.9 556.7 765.5C558.0 765.2 559.3 764.8 560.6 764.5C561.9 764.2 563.2 763.8 564.5 763.5C565.8 763.2 567.1 763.0 568.4 762.7C569.7 762.5 571.0 762.3 572.3 762.1C573.6 761.9 574.9 761.7 576.3 761.5C577.6 761.3 578.9 761.1 580.2 761.0C581.5 760.9 582.9 760.8 584.2 760.8C585.5 760.8 586.9 760.8 588.2 760.8C589.5 760.9 590.8 760.9 592.2 761.0C593.5 761.1 594.8 761.2 596.2 761.3C597.5 761.5 598.8 761.7 600.1 761.9C601.4 762.1 602.7 762.4 604.0 762.6C605.3 762.9 606.6 763.1 607.9 763.4C609.3 763.7 610.6 764.0 611.8 764.3C613.1 764.6 614.4 764.9 615.7 765.3C617.0 765.6 618.3 765.9 619.6 766.3C620.9 766.6 622.2 766.9 623.5 767.3C624.8 767.6 626.0 768.0 627.3 768.4C628.6 768.7 629.9 769.1 631.2 769.5C632.4 769.9 633.7 770.2 635.0 770.6C636.3 771.0 637.6 771.3 638.9 771.7C640.1 772.0 641.4 772.3 642.7 772.7C644.0 773.0 645.3 773.3 646.6 773.6C647.9 773.9 649.2 774.2 650.5 774.5C651.8 774.8 653.1 775.1 654.4 775.4C655.7 775.8 657.0 776.1 658.3 776.4C659.6 776.7 660.9 777.1 662.1 777.5C663.4 777.8 664.7 778.3 666.0 778.7C667.2 779.1 668.5 779.5 669.7 779.9C671.0 780.3 672.3 780.8 673.5 781.2C674.8 781.6 676.1 782.0 677.3 782.4C678.6 782.9 679.9 783.3 681.1 783.7C682.4 784.1 683.7 784.6 684.9 785.0C686.2 785.4 687.5 785.8 688.7 786.2C690.0 786.7 691.3 787.1 692.5 787.5C693.8 787.9 695.0 788.3 696.3 788.8C697.6 789.2 698.8 789.6 700.1 790.1C701.4 790.5 702.6 790.9 703.9 791.4C705.1 791.8 706.4 792.3 707.6 792.8C708.9 793.2 710.1 793.7 711.4 794.1C712.6 794.6 713.9 795.0 715.1 795.5C716.4 796.0 717.6 796.4 718.9 796.9C720.1 797.4 721.4 797.8 722.6 798.3C723.9 798.8 725.1 799.3 726.4 799.8C727.6 800.3 728.8 800.8 730.1 801.3C731.3 801.7 732.5 802.2 733.8 802.7C735.0 803.2 736.3 803.7 737.5 804.2C738.7 804.7 740.0 805.2 741.2 805.8C742.4 806.3 743.6 806.8 744.9 807.4C746.1 807.9 747.3 808.5 748.5 809.0C749.7 809.6 750.9 810.2 752.1 810.7C753.3 811.3 754.5 811.9 755.7 812.4C756.9 813.0 758.2 813.6 759.4 814.1C760.6 814.7 761.8 815.3 762.9 815.9C764.1 816.5 765.3 817.1 766.5 817.7C767.7 818.3 768.9 819.0 770.0 819.6C771.2 820.2 772.4 820.8 773.6 821.5C774.7 822.1 775.9 822.7 777.1 823.4C778.3 824.0 779.4 824.6 780.6 825.2C781.8 825.9 783.0 826.5 784.2 827.1C785.3 827.7 786.5 828.4 787.7 829.0C788.9 829.6 790.0 830.3 791.2 830.9C792.4 831.5 793.6 832.1 794.7 832.8C795.9 833.4 797.1 834.0 798.3 834.6C799.4 835.3 800.6 835.9 801.8 836.5C803.0 837.2 804.2 837.8 805.3 838.4C806.5 839.0 807.7 839.7 808.9 840.3C810.0 840.9 811.2 841.5 812.4 842.1C813.6 842.8 814.8 843.4 815.9 844.0C817.1 844.6 818.3 845.3 819.5 845.9C820.6 846.5 821.8 847.1 823.0 847.7C824.1 848.4 825.8 849.3 826.4 849.6" fill="none" stroke="#000080" stroke-width="6.4" stroke-linecap="round" stroke-linejoin="round"/>
<path d="M181.6 812.4C182.2 812.2 184.1 811.5 185.3 811.1C186.6 810.7 187.9 810.3 189.2 810.0C190.4 809.7 191.7 809.5 193.1 809.3C194.4 809.1 195.7 808.9 197.0 808.8C198.3 808.8 199.6 808.8 201.0 808.9C202.3 808.9 203.6 809.1 204.9 809.3C206.2 809.5 207.5 809.8 208.8 810.1C210.1 810.4 211.3 810.8 212.6 811.3C213.8 811.7 215.0 812.3 216.2 812.9C217.4 813.4 218.6 814.1 219.7 814.8C220.8 815.4 221.9 816.2 223.0 817.0C224.0 817.8 225.0 818.7 226.0 819.5C227.0 820.4 228.0 821.3 229.0 822.2C230.0 823.1 230.9 824.0 231.9 825.0C232.8 825.9 233.7 826.9 234.6 827.9C235.6 828.8 236.4 829.8 237.3 830.8C238.2 831.8 239.1 832.8 240.0 833.8C240.9 834.7 241.8 835.7 242.7 836.7C243.6 837.7 244.5 838.7 245.4 839.7C246.3 840.7 247.2 841.6 248.1 842.6C249.0 843.6 249.9 844.6 250.8 845.6C251.7 846.5 252.7 847.5 253.6 848.5C254.5 849.4 255.5 850.4 256.4 851.3C257.3 852.2 258.3 853.2 259.2 854.1C260.2 855.0 261.2 856.0 262.2 856.8C263.2 857.7 264.2 858.6 265.2 859.5C266.2 860.3 267.3 861.1 268.3 861.9C269.4 862.7 270.4 863.5 271.6 864.2C272.7 864.9 273.8 865.6 275.0 866.1C276.2 866.7 277.4 867.2 278.7 867.7C279.9 868.1 281.2 868.5 282.5 868.8C283.8 869.1 285.1 869.3 286.4 869.4C287.7 869.6 289.0 869.6 290.3 869.6C291.7 869.6 293.0 869.6 294.3 869.5C295.6 869.4 296.9 869.2 298.3 869.0C299.6 868.7 300.9 868.5 302.1 868.2C303.4 867.9 304.7 867.5 306.0 867.1C307.3 866.7 308.5 866.3 309.8 865.9C311.1 865.6 312.3 865.3 313.6 865.2C314.9 865.1 316.2 865.1 317.4 865.3C318.6 865.5 319.9 865.9 321.0 866.5C322.2 867.0 323.3 867.7 324.3 868.5C325.4 869.2 326.3 870.1 327.2 871.1C328.1 872.0 329.0 873.0 329.8 874.1C330.6 875.1 331.4 876.2 332.2 877.3C332.9 878.4 333.6 879.5 334.3 880.6C335.0 881.8 335.6 883.0 336.2 884.1C336.8 885.3 337.4 886.5 338.0 887.7C338.6 888.9 339.2 890.1 339.8 891.3C340.3 892.5 340.9 893.7 341.5 894.9C342.0 896.1 342.5 897.4 343.0 898.6C343.6 899.8 344.0 901.1 344.5 902.3C345.0 903.5 345.5 904.8 346.0 906.0C346.5 907.3 347.0 908.5 347.5 909.7C348.0 911.0 348.5 912.2 348.9 913.5C349.4 914.7 349.8 916.0 350.2 917.3C350.6 918.5 351.0 919.8 351.3 921.1C351.7 922.4 352.0 923.7 352.4 924.9C352.8 926.2 353.1 927.5 353.5 928.8C353.8 930.1 354.1 931.4 354.5 932.7C354.8 934.0 355.1 935.3 355.4 936.5C355.8 937.8 356.1 939.1 356.4 940.4C356.7 941.7 357.1 943.0 357.4 944.3C357.7 945.6 358.0 946.9 358.4 948.2C358.7 949.5 359.0 950.8 359.3 952.1C359.6 953.4 359.9 954.7 360.2 956.0C360.5 957.3 360.9 958.6 361.2 959.9C361.5 961.2 361.8 962.5 362.1 963.7C362.4 965.0 362.7 966.3 363.0 967.6C363.3 968.9 363.6 970.2 363.9 971.5C364.3 972.8 364.6 974.1 364.9 975.4C365.2 976.7 365.5 978.0 365.8 979.3C366.1 980.6 366.4 981.9 366.7 983.2C367.0 984.5 367.3 985.8 367.7 987.1C368.0 988.4 368.3 989.7 368.6 991.0C368.9 992.3 369.2 993.6 369.5 994.9C369.8 996.2 370.1 997.5 370.4 998.8C370.7 1000.1 371.0 1001.4 371.4 1002.7C371.7 1004.0 372.0 1005.3 372.3 1006.6C372.6 1007.9 372.9 1009.1 373.2 1010.4C373.5 1011.7 373.8 1013.0 374.1 1014.3C374.4 1015.6 374.8 1016.9 375.1 1018.2C375.4 1019.5 375.7 1020.8 376.0 1022.1C376.3 1023.4 376.6 1024.7 376.9 1026.0C377.2 1027.3 377.5 1028.6 377.8 1029.9C378.2 1031.2 378.5 1032.5 378.8 1033.8C379.1 1035.1 379.4 1036.4 379.7 1037.7C380.0 1039.0 380.3 1040.3 380.6 1041.6C380.9 1042.9 381.2 1044.2 381.5 1045.5C381.9 1046.8 382.2 1048.1 382.5 1049.4C382.8 1050.7 383.1 1052.0 383.4 1053.2C383.7 1054.5 384.0 1055.8 384.3 1057.1C384.6 1058.4 384.9 1059.7 385.2 1061.1C385.4 1062.4 385.7 1063.7 386.0 1065.0C386.3 1066.3 386.6 1067.6 386.9 1068.9C387.1 1070.2 387.4 1071.5 387.7 1072.8C388.1 1074.1 388.4 1075.3 388.8 1076.6C389.2 1077.9 389.6 1079.2 390.0 1080.4C390.4 1081.7 390.9 1082.9 391.3 1084.2C391.8 1085.5 392.2 1086.7 392.7 1088.0C393.1 1089.2 393.6 1090.5 394.0 1091.7C394.5 1093.0 394.9 1094.2 395.4 1095.5C395.8 1096.8 396.3 1098.0 396.7 1099.3C397.2 1100.5 397.6 1101.8 398.1 1103.0C398.5 1104.3 399.0 1105.5 399.4 1106.8C399.9 1108.0 400.3 1109.3 400.8 1110.5C401.3 1111.8 401.7 1113.0 402.3 1114.2C402.8 1115.4 403.4 1116.6 404.1 1117.7C404.8 1118.7 405.6 1119.8 406.5 1120.6C407.4 1121.4 408.4 1122.2 409.5 1122.5C410.5 1122.9 411.6 1123.1 412.7 1122.9C413.7 1122.6 414.8 1122.0 415.6 1121.3C416.5 1120.6 417.3 1119.5 418.0 1118.5C418.7 1117.4 419.2 1116.2 419.8 1115.0C420.3 1113.8 420.8 1112.6 421.3 1111.4C421.8 1110.1 422.3 1108.9 422.7 1107.6C423.1 1106.3 423.5 1105.1 424.0 1103.8C424.4 1102.5 424.8 1101.3 425.2 1100.0C425.6 1098.7 425.9 1097.4 426.3 1096.2C426.7 1094.9 427.1 1093.6 427.5 1092.4C427.9 1091.1 428.3 1089.8 428.7 1088.5C429.1 1087.3 429.5 1086.0 429.9 1084.7C430.3 1083.4 430.7 1082.2 431.1 1080.9C431.5 1079.6 431.9 1078.3 432.3 1077.1C432.6 1075.8 433.0 1074.5 433.4 1073.2C433.7 1071.9 434.1 1070.7 434.4 1069.4C434.8 1068.1 435.2 1066.8 435.5 1065.5C435.9 1064.2 436.2 1062.9 436.6 1061.7C436.9 1060.4 437.2 1059.1 437.6 1057.8C437.9 1056.5 438.3 1055.2 438.6 1053.9C438.9 1052.6 439.3 1051.3 439.6 1050.1C440.0 1048.8 440.3 1047.5 440.6 1046.2C441.0 1044.9 441.3 1043.6 441.6 1042.3C442.0 1041.0 442.3 1039.7 442.6 1038.4C443.0 1037.1 443.3 1035.9 443.6 1034.6C443.9 1033.3 444.3 1032.0 444.6 1030.7C444.9 1029.4 445.2 1028.1 445.5 1026.8C445.9 1025.5 446.2 1024.2 446.5 1022.9C446.8 1021.6 447.2 1020.3 447.5 1019.0C447.8 1017.7 448.1 1016.5 448.5 1015.2C448.8 1013.9 449.1 1012.6 449.4 1011.3C449.7 1010.0 450.1 1008.7 450.4 1007.4C450.7 1006.1 451.0 1004.8 451.3 1003.5C451.7 1002.2 452.0 1000.9 452.3 999.6C452.6 998.3 452.9 997.0 453.2 995.7C453.5 994.4 453.7 993.1 454.0 991.8C454.3 990.5 454.6 989.2 454.9 987.9C455.2 986.6 455.5 985.3 455.8 984.0C456.1 982.7 456.3 981.4 456.6 980.1C456.9 978.8 457.2 977.5 457.5 976.2C457.8 974.9 458.1 973.6 458.4 972.3C458.7 971.0 458.9 969.7 459.2 968.4C459.5 967.1 459.8 965.8 460.1 964.5C460.4 963.2 460.6 961.9 460.9 960.6C461.2 959.3 461.4 958.0 461.7 956.6C462.0 955.3 462.3 954.0 462.5 952.7C462.8 951.4 463.0 950.1 463.3 948.8C463.5 947.5 463.7 946.2 464.0 944.9C464.2 943.5 464.4 942.2 464.6 940.9C464.8 939.6 465.0 938.3 465.2 937.0C465.4 935.6 465.6 934.3 465.8 933.0C466.0 931.7 466.2 930.4 466.5 929.1C466.7 927.8 467.0 926.5 467.3 925.1C467.5 923.8 467.8 922.5 468.1 921.2C468.4 919.9 468.8 918.7 469.1 917.4C469.4 916.1 469.8 914.8 470.1 913.5C470.4 912.2 470.8 910.9 471.2 909.6C471.5 908.3 471.9 907.1 472.2 905.8C472.6 904.5 472.9 903.2 473.3 901.9C473.7 900.6 474.1 899.4 474.4 898.1C474.8 896.8 475.2 895.5 475.6 894.3C476.0 893.0 476.4 891.7 476.8 890.5C477.2 889.2 477.6 887.9 478.0 886.6C478.4 885.4 478.8 884.1 479.2 882.8C479.6 881.6 480.0 880.3 480.4 879.0C480.8 877.7 481.3 876.5 481.7 875.2C482.1 873.9 482.5 872.7 483.0 871.4C483.4 870.2 483.8 868.9 484.2 867.6C484.6 866.4 485.1 865.1 485.5 863.8C485.9 862.6 486.4 861.3 486.8 860.1C487.2 858.8 487.7 857.5 488.1 856.3C488.6 855.0 489.0 853.8 489.5 852.5C489.9 851.3 490.4 850.0 490.8 848.8C491.3 847.5 491.8 846.3 492.3 845.0C492.7 843.8 493.2 842.5 493.8 841.3C494.3 840.1 494.8 838.9 495.3 837.6C495.8 836.4 496.4 835.2 496.9 833.9C497.4 832.7 497.9 831.5 498.5 830.3C499.0 829.1 499.6 827.9 500.2 826.7C500.8 825.5 501.4 824.3 502.0 823.1C502.6 821.9 503.3 820.8 503.9 819.6C504.5 818.4 505.1 817.2 505.8 816.1C506.4 814.9 507.1 813.7 507.7 812.6C508.4 811.4 509.1 810.3 509.8 809.2C510.5 808.0 511.3 806.9 512.0 805.8C512.7 804.7 513.5 803.6 514.2 802.5C514.9 801.4 515.7 800.3 516.5 799.2C517.2 798.1 518.0 797.0 518.8 796.0C519.7 794.9 520.5 793.9 521.4 792.9C522.2 791.9 523.1 790.9 524.0 789.9C524.9 788.9 525.8 787.9 526.7 787.0C527.6 786.0 528.6 785.0 529.5 784.1C530.5 783.2 531.5 782.3 532.5 781.4C533.5 780.6 534.5 779.7 535.6 778.9C536.6 778.1 537.7 777.2 538.7 776.4C539.8 775.6 540.8 774.8 541.9 774.1C543.0 773.3 544.2 772.6 545.3 771.9C546.4 771.2 547.6 770.5 548.7 769.8C549.9 769.2 551.0 768.5 552.2 767.8C553.3 767.2 554.5 766.5 555.7 765.9C556.8 765.3 558.0 764.7 559.2 764.1C560.4 763.6 561.7 763.0 562.9 762.5C564.1 762.0 565.4 761.5 566.6 761.0C567.8 760.5 569.1 760.0 570.3 759.5C571.6 759.1 572.8 758.6 574.1 758.2C575.3 757.8 576.6 757.4 577.9 757.0C579.2 756.6 580.4 756.3 581.7 755.9C583.0 755.5 584.3 755.2 585.6 754.9C586.9 754.6 588.2 754.4 589.5 754.1C590.8 753.9 592.1 753.7 593.5 753.5C594.8 753.4 596.1 753.2 597.4 753.1C598.8 752.9 600.1 752.8 601.4 752.7C602.7 752.6 604.1 752.6 605.4 752.5C606.7 752.5 608.1 752.5 609.4 752.5C610.7 752.5 612.0 752.5 613.3 752.7C614.6 752.8 615.9 753.0 617.2 753.3C618.4 753.6 619.6 754.0 620.9 754.3C622.2 754.6 623.5 754.9 624.8 755.1C626.0 755.4 627.4 755.6 628.7 755.8C630.0 756.0 631.3 756.2 632.6 756.4C634.0 756.6 635.3 756.8 636.6 757.0C637.9 757.2 639.2 757.4 640.5 757.6C641.9 757.8 643.2 758.0 644.5 758.2C645.8 758.4 647.1 758.7 648.4 758.9C649.7 759.2 651.0 759.5 652.3 759.8C653.6 760.0 654.9 760.3 656.2 760.6C657.5 760.9 658.8 761.2 660.1 761.5C661.4 761.8 662.7 762.1 664.0 762.4C665.4 762.7 666.7 763.0 668.0 763.3C669.3 763.5 670.6 763.8 671.9 764.1C673.2 764.4 674.5 764.7 675.8 765.0C677.1 765.2 678.4 765.5 679.7 765.8C681.0 766.0 682.3 766.3 683.6 766.5C684.9 766.8 686.2 767.1 687.5 767.3C688.8 767.6 690.1 767.9 691.5 768.1C692.8 768.4 694.1 768.6 695.4 768.9C696.7 769.2 698.0 769.4 699.3 769.7C700.6 770.0 701.9 770.3 703.2 770.6C704.5 770.8 705.8 771.1 707.1 771.4C708.4 771.7 709.7 772.1 711.0 772.4C712.3 772.7 713.6 773.0 714.9 773.3C716.2 773.6 717.5 773.9 718.8 774.2C720.1 774.5 721.4 774.8 722.7 775.1C724.0 775.4 725.3 775.7 726.5 776.1C727.8 776.4 729.1 776.8 730.4 777.2C731.7 777.6 732.9 778.0 734.2 778.5C735.4 778.9 736.7 779.3 738.0 779.8C739.2 780.2 740.5 780.6 741.7 781.1C743.0 781.5 744.3 782.0 745.5 782.4C746.8 782.9 748.0 783.3 749.3 783.7C750.5 784.2 751.8 784.6 753.0 785.1C754.3 785.6 755.5 786.1 756.7 786.7C757.9 787.3 759.1 787.9 760.3 788.5C761.4 789.1 762.6 789.8 763.8 790.4C764.9 791.0 766.1 791.7 767.3 792.3C768.4 793.0 769.6 793.6 770.8 794.3C772.0 794.9 773.1 795.5 774.3 796.2C775.5 796.8 776.6 797.5 777.8 798.1C779.0 798.8 780.1 799.4 781.3 800.1C782.4 800.8 783.6 801.4 784.7 802.1C785.8 802.8 787.0 803.5 788.1 804.2C789.2 805.0 790.3 805.7 791.5 806.4C792.6 807.1 793.7 807.8 794.8 808.6C796.0 809.3 797.1 810.0 798.2 810.7C799.3 811.4 800.5 812.1 801.6 812.9C802.7 813.6 803.8 814.3 804.9 815.0C806.1 815.7 807.2 816.5 808.3 817.2C809.4 817.9 810.5 818.6 811.7 819.4C812.8 820.1 813.9 820.8 815.0 821.5C816.1 822.3 817.2 823.0 818.4 823.7C819.5 824.5 820.6 825.2 821.7 825.9C822.7 826.6 823.9 827.4 824.8 828.0C825.7 828.6 826.7 829.2 827.1 829.5" fill="none" stroke="#0000ff" stroke-width="6.4" stroke-linecap="round" stroke-linejoin="round"/>
<path d="M182.5 816.8C183.1 816.5 184.9 815.7 186.1 815.2C187.3 814.7 188.6 814.2 189.8 813.8C191.1 813.4 192.4 813.1 193.7 812.8C195.0 812.5 196.3 812.2 197.6 812.1C198.9 812.0 200.2 812.0 201.5 812.1C202.8 812.2 204.1 812.5 205.3 812.7C206.6 813.0 207.9 813.4 209.1 813.9C210.3 814.4 211.5 814.9 212.7 815.6C213.8 816.2 215.0 816.9 216.1 817.6C217.2 818.3 218.3 819.1 219.3 819.9C220.3 820.8 221.3 821.7 222.2 822.6C223.1 823.5 224.0 824.5 224.9 825.5C225.8 826.5 226.7 827.5 227.6 828.5C228.5 829.5 229.4 830.5 230.2 831.5C231.0 832.6 231.9 833.6 232.7 834.7C233.5 835.7 234.3 836.8 235.1 837.8C236.0 838.9 236.8 839.9 237.6 841.0C238.4 842.1 239.2 843.1 240.0 844.2C240.8 845.3 241.6 846.3 242.3 847.4C243.1 848.5 243.9 849.6 244.7 850.7C245.4 851.8 246.2 852.8 247.0 853.9C247.8 855.0 248.5 856.1 249.3 857.2C250.1 858.3 250.9 859.3 251.6 860.4C252.4 861.5 253.2 862.6 254.0 863.7C254.7 864.8 255.5 865.9 256.3 866.9C257.1 868.0 257.9 869.1 258.7 870.2C259.4 871.2 260.3 872.3 261.1 873.3C261.9 874.4 262.7 875.4 263.6 876.5C264.4 877.5 265.3 878.5 266.2 879.5C267.0 880.5 267.9 881.6 268.8 882.5C269.7 883.5 270.6 884.5 271.5 885.4C272.5 886.4 273.4 887.3 274.4 888.2C275.4 889.1 276.4 890.0 277.4 890.8C278.4 891.7 279.5 892.5 280.6 893.2C281.7 893.9 282.8 894.6 284.0 895.2C285.2 895.8 286.4 896.4 287.6 896.8C288.8 897.3 290.1 897.7 291.4 898.0C292.6 898.3 293.9 898.5 295.2 898.6C296.5 898.7 297.8 898.7 299.1 898.6C300.4 898.4 301.7 898.1 303.0 897.9C304.3 897.6 305.6 897.2 306.9 896.9C308.2 896.6 309.5 896.2 310.7 895.9C312.0 895.7 313.3 895.4 314.6 895.3C315.9 895.2 317.2 895.1 318.5 895.3C319.7 895.4 321.0 895.8 322.2 896.2C323.4 896.6 324.6 897.2 325.6 897.9C326.7 898.6 327.7 899.5 328.7 900.4C329.6 901.3 330.5 902.2 331.4 903.2C332.2 904.3 333.0 905.3 333.7 906.4C334.4 907.5 335.0 908.7 335.6 909.9C336.1 911.1 336.7 912.3 337.2 913.5C337.8 914.8 338.3 916.0 338.9 917.2C339.4 918.4 340.0 919.6 340.6 920.8C341.2 922.0 341.8 923.1 342.5 924.3C343.1 925.5 343.8 926.6 344.5 927.7C345.1 928.9 345.7 930.1 346.2 931.3C346.7 932.5 347.2 933.7 347.6 935.0C348.0 936.3 348.4 937.5 348.8 938.8C349.2 940.1 349.5 941.4 349.9 942.6C350.3 943.9 350.6 945.2 351.0 946.5C351.4 947.8 351.7 949.1 352.1 950.3C352.5 951.6 352.8 952.9 353.2 954.2C353.5 955.5 353.9 956.8 354.3 958.0C354.6 959.3 355.0 960.6 355.3 961.9C355.7 963.2 356.0 964.5 356.3 965.8C356.7 967.1 357.0 968.4 357.3 969.6C357.6 970.9 357.9 972.2 358.2 973.5C358.6 974.8 358.9 976.1 359.2 977.4C359.5 978.7 359.8 980.0 360.1 981.3C360.4 982.6 360.7 983.9 361.0 985.2C361.3 986.5 361.6 987.8 361.9 989.1C362.2 990.4 362.5 991.7 362.8 993.0C363.1 994.3 363.4 995.6 363.7 996.9C364.0 998.2 364.3 999.5 364.6 1000.8C364.9 1002.1 365.2 1003.4 365.5 1004.7C365.8 1006.0 366.1 1007.3 366.3 1008.6C366.6 1009.9 366.9 1011.2 367.2 1012.5C367.4 1013.8 367.7 1015.1 368.0 1016.4C368.2 1017.7 368.5 1019.1 368.8 1020.4C369.1 1021.7 369.3 1023.0 369.6 1024.3C369.9 1025.6 370.1 1026.9 370.4 1028.2C370.7 1029.5 370.9 1030.8 371.2 1032.1C371.5 1033.4 371.7 1034.7 372.0 1036.0C372.3 1037.3 372.5 1038.6 372.8 1040.0C373.1 1041.3 373.3 1042.6 373.6 1043.9C373.9 1045.2 374.1 1046.5 374.4 1047.8C374.6 1049.1 374.9 1050.4 375.1 1051.7C375.3 1053.0 375.5 1054.4 375.6 1055.7C375.8 1057.0 375.8 1058.3 375.9 1059.7C376.0 1061.0 376.1 1062.3 376.1 1063.7C376.2 1065.0 376.3 1066.3 376.3 1067.6C376.4 1069.0 376.5 1070.3 376.6 1071.6C376.7 1073.0 376.8 1074.3 377.0 1075.6C377.2 1076.9 377.5 1078.2 377.8 1079.5C378.1 1080.8 378.5 1082.1 378.8 1083.4C379.1 1084.6 379.5 1085.9 379.9 1087.2C380.2 1088.5 380.6 1089.8 380.9 1091.1C381.3 1092.3 381.7 1093.6 382.0 1094.9C382.4 1096.2 382.7 1097.5 383.1 1098.8C383.5 1100.0 383.8 1101.3 384.2 1102.6C384.5 1103.9 384.9 1105.2 385.3 1106.5C385.6 1107.8 386.0 1109.0 386.3 1110.3C386.7 1111.6 387.1 1112.9 387.4 1114.2C387.8 1115.5 388.1 1116.7 388.5 1118.0C388.8 1119.3 389.1 1120.6 389.5 1121.9C389.8 1123.2 390.1 1124.5 390.4 1125.8C390.8 1127.1 391.1 1128.4 391.4 1129.7C391.7 1131.0 392.1 1132.3 392.4 1133.5C392.7 1134.8 393.0 1136.1 393.4 1137.4C393.7 1138.7 394.0 1140.0 394.3 1141.3C394.7 1142.6 395.0 1143.9 395.4 1145.2C395.7 1146.5 396.0 1147.7 396.4 1149.0C396.7 1150.3 397.1 1151.6 397.4 1152.9C397.8 1154.2 398.1 1155.5 398.5 1156.7C398.9 1158.0 399.2 1159.3 399.6 1160.6C399.9 1161.9 400.3 1163.2 400.7 1164.4C401.1 1165.7 401.5 1167.0 401.9 1168.3C402.3 1169.5 402.7 1170.8 403.2 1172.0C403.6 1173.3 404.0 1174.6 404.5 1175.8C405.0 1177.0 405.4 1178.3 406.0 1179.4C406.7 1180.5 407.3 1181.5 408.2 1182.4C409.1 1183.3 410.1 1184.0 411.2 1184.6C412.3 1185.2 413.5 1185.7 414.6 1185.9C415.7 1186.1 416.8 1186.1 417.9 1185.8C418.9 1185.4 419.9 1184.7 420.7 1183.9C421.5 1183.0 422.2 1181.9 422.8 1180.8C423.4 1179.7 423.9 1178.4 424.4 1177.2C424.9 1176.0 425.3 1174.7 425.8 1173.4C426.2 1172.2 426.7 1170.9 427.1 1169.7C427.5 1168.4 427.9 1167.2 428.3 1165.9C428.7 1164.6 429.1 1163.3 429.5 1162.0C429.8 1160.8 430.2 1159.5 430.5 1158.2C430.9 1156.9 431.2 1155.6 431.6 1154.3C431.9 1153.0 432.3 1151.8 432.6 1150.5C433.0 1149.2 433.3 1147.9 433.7 1146.6C434.0 1145.3 434.3 1144.0 434.7 1142.7C435.0 1141.4 435.3 1140.2 435.7 1138.9C436.0 1137.6 436.3 1136.3 436.6 1135.0C437.0 1133.7 437.3 1132.4 437.6 1131.1C437.9 1129.8 438.3 1128.5 438.6 1127.2C438.9 1125.9 439.2 1124.6 439.5 1123.3C439.8 1122.0 440.1 1120.7 440.3 1119.4C440.6 1118.1 440.8 1116.8 441.0 1115.5C441.2 1114.2 441.4 1112.9 441.6 1111.5C441.8 1110.2 442.0 1108.9 442.2 1107.6C442.4 1106.3 442.6 1104.9 442.8 1103.6C443.0 1102.3 443.2 1101.0 443.4 1099.7C443.6 1098.3 443.8 1097.0 444.0 1095.7C444.2 1094.4 444.3 1093.1 444.5 1091.7C444.7 1090.4 444.9 1089.1 445.1 1087.8C445.3 1086.5 445.5 1085.2 445.7 1083.8C445.9 1082.5 446.1 1081.2 446.3 1079.9C446.5 1078.6 446.8 1077.3 447.0 1075.9C447.3 1074.6 447.6 1073.3 447.9 1072.0C448.1 1070.7 448.5 1069.4 448.8 1068.1C449.1 1066.8 449.4 1065.6 449.7 1064.3C450.0 1063.0 450.3 1061.7 450.6 1060.4C450.9 1059.1 451.2 1057.8 451.5 1056.5C451.8 1055.2 452.1 1053.9 452.4 1052.6C452.7 1051.3 453.0 1050.0 453.3 1048.7C453.6 1047.4 453.8 1046.1 454.1 1044.8C454.4 1043.5 454.7 1042.1 455.0 1040.8C455.3 1039.5 455.5 1038.2 455.8 1036.9C456.1 1035.6 456.4 1034.3 456.6 1033.0C456.9 1031.7 457.2 1030.4 457.5 1029.1C457.7 1027.8 458.0 1026.5 458.3 1025.2C458.6 1023.9 458.8 1022.6 459.1 1021.3C459.4 1020.0 459.7 1018.7 459.9 1017.4C460.2 1016.1 460.5 1014.8 460.8 1013.4C461.0 1012.1 461.3 1010.8 461.6 1009.5C461.9 1008.2 462.1 1006.9 462.4 1005.6C462.7 1004.3 463.0 1003.0 463.2 1001.7C463.5 1000.4 463.8 999.1 464.0 997.8C464.3 996.5 464.5 995.2 464.8 993.9C465.1 992.6 465.3 991.2 465.6 989.9C465.9 988.6 466.1 987.3 466.4 986.0C466.6 984.7 466.9 983.4 467.2 982.1C467.4 980.8 467.7 979.5 467.9 978.2C468.2 976.9 468.5 975.6 468.7 974.2C469.0 972.9 469.2 971.6 469.5 970.3C469.8 969.0 470.0 967.7 470.3 966.4C470.6 965.1 470.8 963.8 471.1 962.5C471.4 961.2 471.7 959.9 471.9 958.6C472.2 957.3 472.5 956.0 472.8 954.7C473.1 953.4 473.4 952.1 473.7 950.8C474.0 949.5 474.2 948.2 474.5 946.9C474.8 945.6 475.1 944.3 475.4 943.0C475.7 941.7 476.0 940.4 476.3 939.1C476.6 937.8 476.9 936.5 477.2 935.2C477.5 933.9 477.8 932.6 478.1 931.3C478.4 930.0 478.7 928.7 479.0 927.4C479.3 926.1 479.7 924.8 480.0 923.5C480.3 922.2 480.6 920.9 480.9 919.6C481.3 918.3 481.6 917.0 482.0 915.7C482.3 914.4 482.7 913.2 483.0 911.9C483.4 910.6 483.7 909.3 484.1 908.0C484.4 906.7 484.8 905.4 485.1 904.2C485.5 902.9 485.8 901.6 486.2 900.3C486.6 899.0 486.9 897.7 487.3 896.5C487.7 895.2 488.1 893.9 488.4 892.6C488.8 891.4 489.2 890.1 489.6 888.8C489.9 887.5 490.3 886.2 490.7 885.0C491.1 883.7 491.5 882.4 491.9 881.1C492.3 879.9 492.7 878.6 493.1 877.3C493.5 876.0 493.9 874.8 494.3 873.5C494.7 872.2 495.1 871.0 495.6 869.7C496.0 868.5 496.4 867.2 496.8 865.9C497.3 864.7 497.7 863.4 498.2 862.1C498.6 860.9 499.1 859.6 499.5 858.4C500.0 857.2 500.5 855.9 501.0 854.7C501.5 853.4 502.0 852.2 502.5 851.0C503.0 849.7 503.5 848.5 504.0 847.3C504.5 846.0 505.0 844.8 505.5 843.6C506.1 842.3 506.6 841.1 507.2 839.9C507.8 838.7 508.3 837.5 508.9 836.3C509.5 835.1 510.1 833.9 510.7 832.8C511.3 831.6 511.9 830.4 512.5 829.2C513.1 828.0 513.7 826.8 514.4 825.6C515.0 824.5 515.7 823.3 516.4 822.2C517.0 821.0 517.7 819.9 518.4 818.7C519.1 817.6 519.8 816.5 520.5 815.3C521.2 814.2 521.9 813.1 522.6 811.9C523.4 810.8 524.1 809.7 524.8 808.6C525.6 807.5 526.3 806.4 527.1 805.3C527.9 804.3 528.7 803.2 529.5 802.1C530.3 801.1 531.1 800.0 531.9 798.9C532.7 797.9 533.5 796.8 534.4 795.8C535.2 794.7 536.1 793.7 537.0 792.7C537.8 791.8 538.8 790.8 539.7 789.8C540.6 788.9 541.6 787.9 542.5 787.0C543.5 786.1 544.4 785.1 545.4 784.2C546.3 783.3 547.3 782.4 548.3 781.5C549.3 780.6 550.4 779.8 551.4 779.0C552.5 778.2 553.5 777.4 554.6 776.6C555.7 775.8 556.8 775.0 557.9 774.3C558.9 773.5 560.0 772.7 561.2 772.0C562.3 771.3 563.4 770.7 564.6 770.0C565.8 769.4 566.9 768.8 568.1 768.2C569.3 767.5 570.5 766.9 571.7 766.4C572.9 765.8 574.1 765.2 575.3 764.7C576.6 764.2 577.8 763.7 579.0 763.2C580.3 762.8 581.6 762.4 582.8 762.0C584.1 761.6 585.4 761.3 586.7 760.9C588.0 760.5 589.2 760.2 590.5 759.9C591.8 759.6 593.1 759.3 594.5 759.1C595.8 758.9 597.1 758.7 598.4 758.5C599.7 758.4 601.0 758.2 602.4 758.1C603.7 757.9 605.0 757.8 606.3 757.7C607.7 757.6 609.0 757.5 610.3 757.5C611.7 757.5 613.0 757.5 614.3 757.5C615.7 757.5 617.0 757.5 618.3 757.5C619.7 757.6 621.0 757.6 622.3 757.7C623.6 757.8 625.0 758.0 626.3 758.2C627.6 758.3 628.9 758.5 630.2 758.7C631.6 758.9 632.9 759.1 634.2 759.3C635.5 759.5 636.8 759.7 638.1 759.9C639.5 760.1 640.8 760.3 642.1 760.5C643.4 760.7 644.7 761.0 646.0 761.2C647.4 761.4 648.7 761.6 650.0 761.9C651.3 762.1 652.6 762.4 653.9 762.6C655.2 762.9 656.5 763.2 657.8 763.4C659.1 763.7 660.4 764.0 661.8 764.2C663.1 764.5 664.4 764.7 665.7 765.0C667.0 765.3 668.3 765.5 669.6 765.8C670.9 766.0 672.2 766.3 673.5 766.5C674.8 766.8 676.1 767.0 677.5 767.3C678.8 767.5 680.1 767.7 681.4 768.0C682.7 768.2 684.0 768.4 685.3 768.7C686.7 768.9 688.0 769.1 689.3 769.3C690.6 769.6 691.9 769.8 693.2 770.0C694.5 770.3 695.8 770.5 697.2 770.7C698.5 771.0 699.8 771.2 701.1 771.5C702.4 771.7 703.7 772.0 705.0 772.3C706.3 772.6 707.6 772.9 708.9 773.2C710.2 773.4 711.5 773.7 712.8 774.0C714.1 774.3 715.4 774.6 716.7 774.9C718.0 775.2 719.3 775.5 720.6 775.8C721.9 776.1 723.2 776.4 724.5 776.7C725.8 777.0 727.1 777.3 728.4 777.7C729.7 778.1 730.9 778.5 732.2 778.9C733.5 779.3 734.7 779.7 736.0 780.2C737.2 780.6 738.5 781.0 739.8 781.5C741.0 781.9 742.3 782.4 743.5 782.8C744.8 783.2 746.0 783.7 747.3 784.1C748.6 784.6 749.8 785.0 751.1 785.5C752.3 785.9 753.6 786.4 754.8 786.9C756.0 787.5 757.2 788.0 758.4 788.6C759.6 789.2 760.8 789.9 761.9 790.5C763.1 791.1 764.3 791.8 765.4 792.4C766.6 793.0 767.8 793.7 768.9 794.3C770.1 795.0 771.3 795.6 772.4 796.3C773.6 796.9 774.8 797.5 775.9 798.2C777.1 798.8 778.3 799.5 779.4 800.1C780.6 800.8 781.8 801.5 782.9 802.1C784.0 802.8 785.2 803.5 786.3 804.2C787.4 804.9 788.5 805.7 789.7 806.4C790.8 807.1 791.9 807.9 793.0 808.6C794.1 809.3 795.3 810.0 796.4 810.8C797.5 811.5 798.6 812.2 799.7 812.9C800.8 813.7 802.0 814.4 803.1 815.1C804.2 815.8 805.3 816.6 806.4 817.3C807.5 818.0 808.7 818.8 809.8 819.5C810.9 820.3 812.0 821.0 813.1 821.8C814.1 822.6 815.2 823.3 816.3 824.1C817.4 824.9 818.5 825.6 819.6 826.4C820.6 827.1 821.7 827.9 822.7 828.6C823.8 829.4 825.1 830.3 825.7 830.7C826.3 831.2 826.3 831.1 826.4 831.2" fill="none" stroke="#ff8000" stroke-width="6.4" stroke-linecap="round" stroke-linejoin="round"/>
<path d="M182.4 835.0C183.0 834.7 184.8 833.8 186.0 833.3C187.2 832.8 188.5 832.3 189.7 831.9C191.0 831.5 192.3 831.2 193.5 831.1C194.8 830.9 196.1 830.8 197.4 831.0C198.6 831.1 199.9 831.4 201.2 831.7C202.4 832.1 203.7 832.6 204.8 833.1C206.0 833.7 207.1 834.3 208.2 835.1C209.3 835.8 210.3 836.6 211.4 837.5C212.4 838.3 213.4 839.2 214.3 840.1C215.3 841.1 216.2 842.0 217.1 843.0C218.0 843.9 218.9 844.9 219.8 846.0C220.6 847.0 221.4 848.1 222.2 849.1C223.1 850.2 223.9 851.2 224.7 852.3C225.5 853.3 226.3 854.4 227.0 855.5C227.8 856.6 228.5 857.7 229.3 858.8C230.0 859.9 230.7 861.1 231.4 862.2C232.1 863.3 232.8 864.4 233.5 865.6C234.2 866.7 235.0 867.8 235.6 869.0C236.3 870.1 237.0 871.2 237.7 872.4C238.4 873.5 239.1 874.7 239.7 875.9C240.4 877.0 241.0 878.2 241.7 879.3C242.3 880.5 243.0 881.7 243.6 882.8C244.3 884.0 244.9 885.2 245.6 886.3C246.2 887.5 246.9 888.7 247.5 889.8C248.1 891.0 248.8 892.2 249.4 893.3C250.1 894.5 250.7 895.7 251.4 896.8C252.0 898.0 252.7 899.2 253.3 900.3C254.0 901.5 254.6 902.7 255.3 903.8C255.9 905.0 256.6 906.2 257.2 907.3C257.9 908.5 258.5 909.6 259.2 910.8C259.8 912.0 260.4 913.1 261.1 914.3C261.7 915.5 262.4 916.6 263.0 917.8C263.7 919.0 264.3 920.1 265.0 921.3C265.6 922.5 266.3 923.6 266.9 924.8C267.6 926.0 268.2 927.1 268.9 928.3C269.5 929.4 270.2 930.6 270.9 931.8C271.5 932.9 272.2 934.1 272.9 935.2C273.5 936.4 274.2 937.5 274.9 938.7C275.6 939.8 276.3 940.9 277.1 942.0C277.8 943.1 278.6 944.2 279.5 945.2C280.3 946.2 281.1 947.3 282.0 948.2C282.9 949.2 283.8 950.1 284.9 950.8C285.9 951.6 287.0 952.2 288.2 952.7C289.4 953.2 290.6 953.5 291.9 953.7C293.1 953.9 294.4 953.8 295.6 953.6C296.9 953.4 298.1 953.1 299.3 952.6C300.5 952.1 301.6 951.4 302.7 950.7C303.8 950.0 304.8 949.1 305.8 948.3C306.9 947.5 307.9 946.6 308.9 945.7C309.9 944.8 310.8 943.9 311.8 943.0C312.8 942.1 313.8 941.2 314.8 940.4C315.9 939.5 316.9 938.7 317.9 937.9C319.0 937.2 320.1 936.5 321.3 935.9C322.5 935.3 323.7 934.7 324.9 934.3C326.1 934.0 327.4 933.6 328.6 933.5C329.8 933.5 331.1 933.6 332.2 933.9C333.4 934.3 334.5 934.9 335.5 935.6C336.5 936.4 337.4 937.3 338.2 938.3C339.1 939.3 339.8 940.4 340.5 941.5C341.2 942.6 341.8 943.8 342.4 945.0C343.1 946.2 343.6 947.4 344.2 948.6C344.8 949.8 345.3 951.0 345.8 952.2C346.3 953.5 346.8 954.7 347.3 955.9C347.8 957.2 348.3 958.4 348.7 959.7C349.2 960.9 349.7 962.2 350.1 963.4C350.6 964.7 351.0 965.9 351.5 967.2C351.9 968.5 352.3 969.7 352.7 971.0C353.2 972.3 353.6 973.5 354.0 974.8C354.4 976.1 354.8 977.3 355.2 978.6C355.6 979.9 356.0 981.2 356.3 982.4C356.7 983.7 357.1 985.0 357.4 986.3C357.8 987.6 358.1 988.9 358.5 990.1C358.8 991.4 359.2 992.7 359.5 994.0C359.9 995.3 360.2 996.6 360.6 997.9C360.9 999.2 361.2 1000.4 361.6 1001.7C361.9 1003.0 362.2 1004.3 362.5 1005.6C362.9 1006.9 363.2 1008.2 363.5 1009.5C363.8 1010.8 364.2 1012.1 364.5 1013.4C364.8 1014.7 365.1 1016.0 365.4 1017.3C365.7 1018.6 366.0 1019.9 366.3 1021.2C366.6 1022.5 366.9 1023.8 367.2 1025.1C367.5 1026.4 367.8 1027.7 368.1 1029.0C368.4 1030.3 368.7 1031.6 369.0 1032.9C369.3 1034.2 369.6 1035.5 369.9 1036.8C370.2 1038.1 370.5 1039.4 370.7 1040.7C371.0 1042.0 371.3 1043.3 371.6 1044.6C371.9 1045.9 372.1 1047.2 372.4 1048.5C372.7 1049.8 373.0 1051.1 373.2 1052.4C373.5 1053.7 373.8 1055.0 374.0 1056.3C374.2 1057.6 374.4 1059.0 374.5 1060.3C374.6 1061.6 374.7 1062.9 374.8 1064.3C374.9 1065.6 374.9 1066.9 375.0 1068.3C375.0 1069.6 375.1 1070.9 375.2 1072.2C375.3 1073.6 375.4 1074.9 375.5 1076.2C375.7 1077.5 376.0 1078.8 376.2 1080.1C376.5 1081.4 376.8 1082.7 377.1 1084.0C377.4 1085.3 377.7 1086.6 378.0 1087.9C378.3 1089.2 378.6 1090.5 378.9 1091.8C379.2 1093.1 379.5 1094.4 379.8 1095.7C380.1 1097.0 380.4 1098.3 380.7 1099.6C381.0 1100.9 381.3 1102.2 381.6 1103.5C381.9 1104.8 382.2 1106.1 382.5 1107.4C382.8 1108.7 383.1 1110.0 383.4 1111.3C383.7 1112.6 384.0 1113.9 384.3 1115.2C384.6 1116.5 384.9 1117.8 385.2 1119.1C385.5 1120.4 385.8 1121.7 386.1 1123.0C386.4 1124.3 386.7 1125.6 387.0 1126.9C387.3 1128.2 387.6 1129.5 387.9 1130.8C388.2 1132.1 388.5 1133.4 388.9 1134.7C389.2 1136.0 389.5 1137.3 389.8 1138.6C390.1 1139.9 390.4 1141.2 390.7 1142.5C391.0 1143.8 391.3 1145.1 391.6 1146.4C391.9 1147.7 392.2 1149.0 392.5 1150.3C392.8 1151.6 393.1 1152.8 393.5 1154.1C393.8 1155.4 394.1 1156.7 394.4 1158.0C394.7 1159.3 395.1 1160.6 395.4 1161.9C395.7 1163.2 396.0 1164.5 396.4 1165.8C396.7 1167.1 397.0 1168.4 397.3 1169.7C397.7 1171.0 398.0 1172.3 398.3 1173.6C398.6 1174.8 398.9 1176.1 399.3 1177.4C399.6 1178.7 399.9 1180.0 400.3 1181.3C400.6 1182.6 400.9 1183.9 401.3 1185.2C401.7 1186.5 402.0 1187.7 402.4 1189.0C402.8 1190.3 403.2 1191.6 403.6 1192.8C404.0 1194.1 404.4 1195.4 404.7 1196.7C405.1 1197.9 405.5 1199.2 405.9 1200.5C406.3 1201.8 406.7 1203.0 407.1 1204.3C407.5 1205.6 407.9 1206.8 408.4 1208.0C409.0 1209.2 409.5 1210.4 410.2 1211.5C410.9 1212.6 411.7 1213.6 412.6 1214.5C413.5 1215.4 414.5 1216.3 415.5 1216.9C416.4 1217.4 417.5 1217.9 418.5 1217.9C419.4 1217.9 420.4 1217.4 421.2 1216.8C422.1 1216.1 422.8 1215.0 423.4 1214.0C424.1 1212.9 424.6 1211.7 425.1 1210.5C425.7 1209.3 426.2 1208.0 426.7 1206.8C427.2 1205.6 427.7 1204.3 428.2 1203.1C428.6 1201.8 429.1 1200.6 429.5 1199.3C430.0 1198.1 430.4 1196.8 430.8 1195.5C431.2 1194.3 431.7 1193.0 432.1 1191.7C432.5 1190.5 432.9 1189.2 433.3 1187.9C433.7 1186.7 434.1 1185.4 434.5 1184.1C434.9 1182.8 435.2 1181.6 435.6 1180.3C435.9 1179.0 436.3 1177.7 436.6 1176.4C437.0 1175.1 437.3 1173.8 437.7 1172.6C438.1 1171.3 438.4 1170.0 438.8 1168.7C439.1 1167.4 439.4 1166.1 439.8 1164.8C440.1 1163.5 440.5 1162.3 440.8 1161.0C441.1 1159.7 441.5 1158.4 441.8 1157.1C442.1 1155.8 442.4 1154.5 442.8 1153.2C443.1 1151.9 443.4 1150.6 443.7 1149.3C444.1 1148.0 444.4 1146.7 444.7 1145.4C445.0 1144.2 445.3 1142.9 445.7 1141.6C446.0 1140.3 446.3 1139.0 446.6 1137.7C446.9 1136.4 447.2 1135.1 447.4 1133.8C447.7 1132.5 448.0 1131.2 448.3 1129.9C448.6 1128.6 448.8 1127.2 449.1 1125.9C449.4 1124.6 449.7 1123.3 450.0 1122.0C450.2 1120.7 450.5 1119.4 450.8 1118.1C451.1 1116.8 451.4 1115.5 451.6 1114.2C451.9 1112.9 452.1 1111.6 452.4 1110.3C452.6 1109.0 452.8 1107.7 453.0 1106.3C453.2 1105.0 453.4 1103.7 453.5 1102.4C453.7 1101.1 453.9 1099.7 454.1 1098.4C454.3 1097.1 454.4 1095.8 454.6 1094.4C454.8 1093.1 454.9 1091.8 455.1 1090.5C455.3 1089.2 455.5 1087.8 455.6 1086.5C455.8 1085.2 456.0 1083.9 456.2 1082.5C456.4 1081.2 456.5 1079.9 456.8 1078.6C457.0 1077.3 457.2 1076.0 457.5 1074.7C457.7 1073.4 458.0 1072.1 458.3 1070.8C458.6 1069.5 458.9 1068.2 459.2 1066.9C459.6 1065.6 459.9 1064.3 460.2 1063.0C460.5 1061.7 460.8 1060.4 461.1 1059.1C461.4 1057.8 461.7 1056.5 462.0 1055.2C462.3 1053.9 462.6 1052.6 462.9 1051.3C463.1 1050.0 463.4 1048.7 463.7 1047.4C464.0 1046.1 464.3 1044.8 464.6 1043.5C464.9 1042.2 465.1 1040.9 465.4 1039.6C465.7 1038.3 466.0 1036.9 466.3 1035.6C466.5 1034.3 466.8 1033.0 467.1 1031.7C467.4 1030.4 467.6 1029.1 467.9 1027.8C468.2 1026.5 468.5 1025.2 468.7 1023.9C469.0 1022.6 469.3 1021.3 469.5 1020.0C469.8 1018.7 470.1 1017.4 470.3 1016.1C470.6 1014.8 470.9 1013.4 471.1 1012.1C471.4 1010.8 471.6 1009.5 471.9 1008.2C472.2 1006.9 472.4 1005.6 472.7 1004.3C472.9 1003.0 473.2 1001.7 473.5 1000.4C473.7 999.1 474.0 997.8 474.3 996.5C474.5 995.1 474.8 993.8 475.0 992.5C475.3 991.2 475.6 989.9 475.8 988.6C476.1 987.3 476.3 986.0 476.6 984.7C476.9 983.4 477.1 982.1 477.4 980.8C477.7 979.5 477.9 978.2 478.2 976.8C478.5 975.5 478.8 974.2 479.0 972.9C479.3 971.6 479.6 970.3 479.9 969.0C480.1 967.7 480.4 966.4 480.7 965.1C481.0 963.8 481.2 962.5 481.5 961.2C481.8 959.9 482.1 958.6 482.4 957.3C482.7 956.0 483.0 954.7 483.3 953.4C483.5 952.1 483.8 950.8 484.1 949.5C484.4 948.2 484.7 946.9 485.0 945.6C485.4 944.3 485.7 943.0 486.0 941.7C486.4 940.4 486.8 939.2 487.2 937.9C487.5 936.6 487.9 935.3 488.3 934.1C488.7 932.8 489.1 931.5 489.6 930.3C490.0 929.0 490.4 927.7 490.9 926.5C491.3 925.2 491.7 924.0 492.2 922.7C492.6 921.4 493.0 920.2 493.4 918.9C493.8 917.6 494.2 916.3 494.6 915.1C494.9 913.8 495.3 912.5 495.6 911.2C496.0 909.9 496.4 908.6 496.7 907.4C497.1 906.1 497.4 904.8 497.8 903.5C498.1 902.2 498.5 900.9 498.9 899.7C499.3 898.4 499.7 897.1 500.1 895.8C500.5 894.6 500.9 893.3 501.2 892.0C501.6 890.7 502.0 889.5 502.4 888.2C502.8 886.9 503.2 885.7 503.7 884.4C504.1 883.1 504.5 881.9 504.9 880.6C505.4 879.3 505.8 878.1 506.3 876.8C506.7 875.6 507.2 874.3 507.7 873.1C508.1 871.8 508.6 870.6 509.1 869.3C509.5 868.1 510.0 866.8 510.5 865.6C510.9 864.3 511.4 863.1 511.9 861.9C512.4 860.6 512.9 859.4 513.4 858.2C513.9 856.9 514.5 855.7 515.0 854.5C515.5 853.2 516.0 852.0 516.6 850.8C517.1 849.6 517.6 848.3 518.2 847.1C518.7 845.9 519.3 844.7 519.8 843.5C520.4 842.3 521.0 841.1 521.6 839.9C522.2 838.7 522.9 837.6 523.5 836.4C524.1 835.2 524.8 834.1 525.4 832.9C526.0 831.7 526.7 830.5 527.3 829.4C528.0 828.2 528.6 827.1 529.3 825.9C530.0 824.8 530.7 823.6 531.4 822.5C532.1 821.3 532.8 820.2 533.5 819.1C534.2 817.9 534.9 816.8 535.6 815.7C536.3 814.5 537.0 813.4 537.7 812.3C538.5 811.2 539.2 810.1 540.0 809.0C540.8 807.9 541.6 806.9 542.4 805.8C543.1 804.7 543.9 803.6 544.7 802.6C545.6 801.5 546.4 800.5 547.2 799.4C548.0 798.4 548.8 797.3 549.7 796.3C550.6 795.3 551.5 794.3 552.4 793.4C553.3 792.4 554.3 791.5 555.2 790.5C556.1 789.6 557.1 788.6 558.0 787.7C559.0 786.8 560.0 785.9 561.0 785.0C562.0 784.1 563.0 783.3 564.0 782.5C565.1 781.6 566.2 780.9 567.3 780.1C568.4 779.4 569.5 778.6 570.6 777.9C571.7 777.1 572.8 776.4 573.9 775.7C575.1 775.0 576.2 774.4 577.4 773.8C578.6 773.2 579.8 772.7 581.0 772.1C582.2 771.6 583.5 771.1 584.7 770.6C586.0 770.1 587.2 769.6 588.4 769.1C589.7 768.7 591.0 768.3 592.2 767.9C593.5 767.6 594.8 767.3 596.1 767.0C597.4 766.7 598.7 766.4 600.0 766.1C601.3 765.9 602.6 765.6 603.9 765.4C605.3 765.2 606.6 765.1 607.9 765.0C609.2 764.8 610.6 764.8 611.9 764.7C613.2 764.6 614.5 764.6 615.9 764.6C617.2 764.5 618.5 764.5 619.9 764.5C621.2 764.5 622.5 764.6 623.9 764.7C625.2 764.8 626.5 764.9 627.8 765.1C629.2 765.2 630.5 765.4 631.8 765.5C633.1 765.7 634.4 765.8 635.8 766.0C637.1 766.2 638.4 766.3 639.7 766.5C641.1 766.7 642.4 766.8 643.7 767.0C645.0 767.2 646.4 767.3 647.7 767.5C649.0 767.7 650.3 767.9 651.6 768.1C653.0 768.3 654.3 768.5 655.6 768.7C656.9 768.9 658.2 769.1 659.5 769.3C660.9 769.5 662.2 769.7 663.5 769.9C664.8 770.1 666.1 770.3 667.5 770.5C668.8 770.6 670.1 770.8 671.4 771.0C672.7 771.2 674.1 771.4 675.4 771.6C676.7 771.8 678.0 772.0 679.3 772.2C680.6 772.4 682.0 772.6 683.3 772.8C684.6 773.0 685.9 773.2 687.2 773.4C688.6 773.6 689.9 773.8 691.2 774.0C692.5 774.2 693.8 774.4 695.1 774.6C696.5 774.8 697.8 775.0 699.1 775.2C700.4 775.4 701.7 775.7 703.0 775.9C704.4 776.1 705.7 776.4 707.0 776.7C708.3 776.9 709.6 777.2 710.9 777.4C712.2 777.7 713.5 778.0 714.8 778.2C716.1 778.5 717.4 778.7 718.7 779.0C720.0 779.3 721.4 779.5 722.7 779.8C724.0 780.1 725.3 780.3 726.6 780.7C727.9 781.0 729.1 781.3 730.4 781.7C731.7 782.0 733.0 782.4 734.2 782.8C735.5 783.2 736.8 783.6 738.1 784.0C739.3 784.5 740.6 784.9 741.9 785.3C743.1 785.7 744.4 786.1 745.7 786.5C746.9 786.9 748.2 787.3 749.5 787.8C750.7 788.2 752.0 788.6 753.2 789.1C754.5 789.6 755.7 790.1 756.9 790.6C758.1 791.2 759.3 791.8 760.5 792.4C761.6 793.0 762.8 793.7 764.0 794.3C765.2 795.0 766.3 795.6 767.5 796.2C768.7 796.9 769.8 797.5 771.0 798.2C772.2 798.8 773.3 799.5 774.5 800.1C775.7 800.7 776.8 801.4 778.0 802.0C779.2 802.7 780.3 803.3 781.5 804.0C782.6 804.7 783.8 805.4 784.9 806.1C786.0 806.8 787.2 807.5 788.3 808.2C789.4 808.9 790.5 809.7 791.6 810.4C792.7 811.1 793.9 811.9 795.0 812.6C796.1 813.3 797.2 814.1 798.3 814.8C799.4 815.6 800.5 816.3 801.6 817.1C802.7 817.9 803.8 818.6 804.9 819.4C805.9 820.2 807.0 820.9 808.1 821.7C809.2 822.5 810.3 823.2 811.4 824.0C812.5 824.8 813.6 825.5 814.7 826.3C815.8 827.1 816.8 827.9 817.9 828.6C819.0 829.4 820.1 830.2 821.2 830.9C822.2 831.6 823.4 832.5 824.2 833.1C825.1 833.7 826.0 834.4 826.4 834.6" fill="none" stroke="#008000" stroke-width="6.4" stroke-linecap="round" stroke-linejoin="round"/>
<path d="M181.8 872.7C182.3 872.3 183.8 871.0 184.8 870.1C185.8 869.2 186.8 868.4 187.8 867.5C188.9 866.7 190.0 865.9 191.1 865.2C192.2 864.5 193.3 863.7 194.4 863.1C195.6 862.5 196.8 861.8 198.0 861.3C199.2 860.9 200.4 860.4 201.7 860.2C202.9 859.9 204.2 859.8 205.5 859.8C206.8 859.8 208.1 860.0 209.3 860.3C210.6 860.6 211.8 861.1 213.0 861.6C214.2 862.2 215.3 862.9 216.3 863.7C217.4 864.4 218.4 865.3 219.3 866.2C220.3 867.1 221.2 868.0 222.1 869.0C223.1 870.0 224.0 870.9 224.8 872.0C225.6 873.0 226.4 874.1 227.2 875.1C228.0 876.2 228.7 877.4 229.4 878.5C230.1 879.6 230.8 880.7 231.5 881.9C232.2 883.0 232.9 884.1 233.6 885.3C234.3 886.4 235.0 887.6 235.6 888.7C236.3 889.9 236.9 891.1 237.5 892.2C238.1 893.4 238.7 894.6 239.3 895.8C239.9 897.0 240.5 898.2 241.1 899.4C241.7 900.6 242.3 901.8 242.9 903.0C243.5 904.1 244.1 905.3 244.7 906.5C245.3 907.7 245.9 908.9 246.5 910.1C247.1 911.3 247.7 912.5 248.3 913.7C248.9 914.9 249.5 916.1 250.1 917.3C250.7 918.5 251.3 919.7 251.9 920.8C252.5 922.0 253.1 923.2 253.7 924.4C254.2 925.6 254.8 926.8 255.4 928.0C256.0 929.2 256.6 930.4 257.2 931.6C257.8 932.8 258.4 934.0 259.0 935.2C259.6 936.3 260.2 937.5 260.8 938.7C261.4 939.9 262.0 941.1 262.6 942.3C263.2 943.5 263.8 944.7 264.4 945.9C265.0 947.1 265.6 948.3 266.2 949.5C266.8 950.7 267.4 951.9 268.0 953.0C268.6 954.2 269.2 955.4 269.8 956.6C270.3 957.8 270.9 959.0 271.5 960.2C272.1 961.4 272.7 962.6 273.3 963.8C273.9 965.0 274.5 966.2 275.1 967.3C275.8 968.5 276.4 969.7 277.0 970.9C277.6 972.0 278.3 973.2 279.0 974.4C279.6 975.5 280.3 976.7 280.9 977.8C281.6 979.0 282.3 980.1 283.0 981.3C283.7 982.4 284.5 983.5 285.3 984.5C286.1 985.5 287.0 986.5 288.0 987.3C289.0 988.2 290.0 988.9 291.1 989.5C292.2 990.1 293.5 990.5 294.6 990.7C295.8 990.9 297.0 990.9 298.2 990.6C299.3 990.3 300.4 989.7 301.4 989.1C302.4 988.4 303.4 987.5 304.4 986.6C305.3 985.7 306.2 984.7 307.2 983.7C308.1 982.8 308.9 981.8 309.8 980.8C310.7 979.8 311.5 978.7 312.4 977.7C313.3 976.7 314.1 975.7 315.0 974.7C315.9 973.7 316.7 972.7 317.6 971.7C318.5 970.7 319.5 969.7 320.4 968.8C321.4 967.9 322.3 967.0 323.3 966.1C324.4 965.3 325.4 964.5 326.5 963.9C327.7 963.3 328.9 962.8 330.0 962.6C331.2 962.3 332.4 962.2 333.6 962.4C334.7 962.6 335.8 963.1 336.9 963.8C337.9 964.4 338.9 965.3 339.8 966.2C340.7 967.1 341.5 968.2 342.2 969.3C343.0 970.3 343.6 971.5 344.3 972.6C344.9 973.8 345.5 975.0 346.1 976.2C346.7 977.4 347.2 978.6 347.7 979.8C348.2 981.1 348.7 982.3 349.2 983.6C349.7 984.8 350.1 986.0 350.5 987.3C351.0 988.6 351.4 989.8 351.8 991.1C352.2 992.4 352.5 993.7 352.9 994.9C353.3 996.2 353.7 997.5 354.0 998.8C354.4 1000.1 354.8 1001.4 355.1 1002.6C355.5 1003.9 355.8 1005.2 356.1 1006.5C356.5 1007.8 356.8 1009.1 357.1 1010.4C357.5 1011.7 357.8 1013.0 358.1 1014.3C358.4 1015.6 358.7 1016.8 359.1 1018.1C359.4 1019.4 359.7 1020.7 360.0 1022.0C360.3 1023.3 360.7 1024.6 361.0 1025.9C361.3 1027.2 361.6 1028.5 361.9 1029.8C362.2 1031.1 362.5 1032.4 362.8 1033.7C363.1 1035.0 363.5 1036.3 363.8 1037.6C364.1 1038.9 364.4 1040.2 364.7 1041.5C365.0 1042.8 365.3 1044.1 365.6 1045.4C366.0 1046.7 366.3 1047.9 366.6 1049.2C366.9 1050.5 367.2 1051.8 367.6 1053.1C367.9 1054.4 368.2 1055.7 368.5 1057.0C368.9 1058.3 369.2 1059.6 369.5 1060.9C369.8 1062.2 370.1 1063.5 370.5 1064.8C370.8 1066.1 371.1 1067.4 371.4 1068.7C371.7 1070.0 372.0 1071.3 372.3 1072.6C372.6 1073.9 372.9 1075.2 373.2 1076.5C373.5 1077.8 373.7 1079.1 374.0 1080.4C374.3 1081.7 374.6 1083.0 374.8 1084.3C375.1 1085.6 375.4 1086.9 375.6 1088.2C375.9 1089.5 376.2 1090.8 376.4 1092.1C376.7 1093.4 377.0 1094.7 377.2 1096.0C377.5 1097.3 377.8 1098.6 378.0 1100.0C378.3 1101.3 378.6 1102.6 378.8 1103.9C379.1 1105.2 379.4 1106.5 379.7 1107.8C379.9 1109.1 380.2 1110.4 380.5 1111.7C380.7 1113.0 381.0 1114.3 381.3 1115.6C381.6 1116.9 381.9 1118.2 382.2 1119.5C382.5 1120.8 382.8 1122.1 383.1 1123.4C383.4 1124.7 383.7 1126.0 384.0 1127.3C384.3 1128.6 384.6 1129.9 384.9 1131.2C385.2 1132.5 385.5 1133.8 385.8 1135.1C386.1 1136.4 386.4 1137.7 386.7 1139.0C387.0 1140.3 387.4 1141.6 387.7 1142.9C388.0 1144.2 388.3 1145.5 388.6 1146.8C388.9 1148.1 389.2 1149.4 389.5 1150.7C389.8 1152.0 390.1 1153.3 390.5 1154.6C390.8 1155.8 391.1 1157.1 391.4 1158.4C391.8 1159.7 392.1 1161.0 392.4 1162.3C392.7 1163.6 393.0 1164.9 393.4 1166.2C393.7 1167.5 394.0 1168.8 394.3 1170.1C394.7 1171.4 395.0 1172.7 395.3 1174.0C395.6 1175.3 396.0 1176.5 396.3 1177.8C396.6 1179.1 396.9 1180.4 397.3 1181.7C397.6 1183.0 397.9 1184.3 398.3 1185.6C398.6 1186.9 398.9 1188.2 399.3 1189.5C399.6 1190.7 400.0 1192.0 400.3 1193.3C400.7 1194.6 401.0 1195.9 401.4 1197.2C401.7 1198.5 402.0 1199.8 402.4 1201.0C402.7 1202.3 403.1 1203.6 403.4 1204.9C403.8 1206.2 404.1 1207.5 404.4 1208.8C404.8 1210.1 405.1 1211.4 405.5 1212.6C405.9 1213.9 406.2 1215.2 406.6 1216.5C407.0 1217.8 407.4 1219.0 407.7 1220.3C408.1 1221.6 408.5 1222.9 408.9 1224.1C409.3 1225.4 409.7 1226.7 410.1 1228.0C410.5 1229.2 410.8 1230.5 411.3 1231.8C411.7 1233.0 412.2 1234.3 412.7 1235.5C413.2 1236.7 413.8 1238.0 414.4 1239.1C414.9 1240.3 415.5 1241.5 416.2 1242.4C416.9 1243.4 417.7 1244.3 418.5 1244.7C419.4 1245.1 420.5 1245.2 421.5 1245.1C422.5 1244.9 423.6 1244.2 424.5 1243.5C425.5 1242.8 426.4 1241.8 427.2 1240.8C428.0 1239.8 428.7 1238.7 429.4 1237.6C430.1 1236.5 430.7 1235.3 431.2 1234.1C431.8 1232.9 432.3 1231.7 432.8 1230.4C433.3 1229.2 433.8 1228.0 434.3 1226.7C434.8 1225.5 435.3 1224.2 435.7 1223.0C436.2 1221.7 436.6 1220.5 437.0 1219.2C437.4 1217.9 437.8 1216.7 438.2 1215.4C438.6 1214.1 439.0 1212.8 439.4 1211.5C439.7 1210.3 440.1 1209.0 440.5 1207.7C440.9 1206.4 441.3 1205.2 441.6 1203.9C442.0 1202.6 442.4 1201.3 442.7 1200.0C443.0 1198.7 443.4 1197.4 443.7 1196.2C444.0 1194.9 444.4 1193.6 444.7 1192.3C445.0 1191.0 445.3 1189.7 445.7 1188.4C446.0 1187.1 446.3 1185.8 446.6 1184.5C446.9 1183.2 447.3 1181.9 447.6 1180.6C447.9 1179.3 448.2 1178.0 448.5 1176.7C448.8 1175.4 449.2 1174.2 449.5 1172.9C449.8 1171.6 450.1 1170.3 450.4 1169.0C450.7 1167.7 451.0 1166.4 451.3 1165.1C451.6 1163.8 451.9 1162.5 452.2 1161.2C452.5 1159.9 452.8 1158.6 453.1 1157.3C453.4 1156.0 453.7 1154.7 453.9 1153.4C454.2 1152.1 454.5 1150.8 454.8 1149.5C455.1 1148.1 455.3 1146.8 455.6 1145.5C455.9 1144.2 456.1 1142.9 456.4 1141.6C456.7 1140.3 456.9 1139.0 457.2 1137.7C457.4 1136.4 457.7 1135.1 458.0 1133.8C458.2 1132.5 458.5 1131.2 458.7 1129.8C459.0 1128.5 459.3 1127.2 459.5 1125.9C459.8 1124.6 460.0 1123.3 460.3 1122.0C460.6 1120.7 460.8 1119.4 461.1 1118.1C461.3 1116.8 461.6 1115.5 461.8 1114.1C462.1 1112.8 462.3 1111.5 462.5 1110.2C462.8 1108.9 463.0 1107.6 463.3 1106.3C463.5 1105.0 463.8 1103.7 464.0 1102.4C464.3 1101.0 464.5 1099.7 464.8 1098.4C465.0 1097.1 465.2 1095.8 465.5 1094.5C465.8 1093.2 466.0 1091.9 466.3 1090.6C466.6 1089.3 466.9 1088.0 467.2 1086.7C467.5 1085.4 467.9 1084.1 468.2 1082.8C468.6 1081.5 469.0 1080.3 469.4 1079.0C469.7 1077.7 470.1 1076.4 470.5 1075.1C470.8 1073.9 471.2 1072.6 471.5 1071.3C471.9 1070.0 472.3 1068.7 472.6 1067.4C473.0 1066.1 473.3 1064.9 473.7 1063.6C474.0 1062.3 474.3 1061.0 474.7 1059.7C475.0 1058.4 475.3 1057.1 475.7 1055.8C476.0 1054.5 476.3 1053.2 476.6 1051.9C477.0 1050.7 477.3 1049.4 477.6 1048.1C477.9 1046.8 478.2 1045.5 478.6 1044.2C478.9 1042.9 479.2 1041.6 479.5 1040.3C479.9 1039.0 480.2 1037.7 480.5 1036.4C480.8 1035.1 481.2 1033.8 481.5 1032.5C481.8 1031.3 482.1 1030.0 482.5 1028.7C482.8 1027.4 483.1 1026.1 483.4 1024.8C483.7 1023.5 484.1 1022.2 484.4 1020.9C484.7 1019.6 485.0 1018.3 485.4 1017.0C485.7 1015.7 486.0 1014.4 486.3 1013.1C486.7 1011.8 487.0 1010.6 487.3 1009.3C487.6 1008.0 487.9 1006.7 488.3 1005.4C488.6 1004.1 488.9 1002.8 489.3 1001.5C489.6 1000.2 489.9 998.9 490.3 997.6C490.6 996.3 490.9 995.1 491.3 993.8C491.6 992.5 491.9 991.2 492.3 989.9C492.6 988.6 493.0 987.3 493.3 986.0C493.6 984.7 494.0 983.4 494.3 982.2C494.7 980.9 495.0 979.6 495.4 978.3C495.7 977.0 496.1 975.7 496.4 974.4C496.8 973.2 497.2 971.9 497.5 970.6C497.9 969.3 498.2 968.0 498.6 966.7C499.0 965.5 499.3 964.2 499.7 962.9C500.1 961.6 500.5 960.3 500.8 959.1C501.2 957.8 501.6 956.5 502.0 955.2C502.4 954.0 502.8 952.7 503.2 951.4C503.6 950.2 504.1 948.9 504.5 947.6C504.9 946.4 505.4 945.1 505.9 943.9C506.4 942.6 506.9 941.4 507.4 940.2C507.9 938.9 508.4 937.7 508.9 936.5C509.3 935.2 509.8 934.0 510.3 932.7C510.7 931.5 511.1 930.2 511.5 928.9C512.0 927.7 512.4 926.4 512.8 925.1C513.2 923.9 513.6 922.6 514.0 921.3C514.4 920.1 514.8 918.8 515.2 917.5C515.7 916.3 516.1 915.0 516.5 913.7C516.9 912.5 517.4 911.2 517.8 909.9C518.2 908.7 518.7 907.4 519.1 906.2C519.5 904.9 520.0 903.6 520.4 902.4C520.9 901.1 521.3 899.9 521.8 898.6C522.2 897.4 522.7 896.1 523.2 894.9C523.6 893.6 524.1 892.4 524.6 891.1C525.0 889.9 525.5 888.6 526.0 887.4C526.4 886.1 526.9 884.9 527.4 883.6C527.9 882.4 528.4 881.2 528.9 879.9C529.4 878.7 529.9 877.5 530.4 876.2C530.9 875.0 531.5 873.8 532.0 872.6C532.5 871.3 533.0 870.1 533.6 868.9C534.1 867.7 534.6 866.4 535.2 865.2C535.7 864.0 536.3 862.8 536.9 861.6C537.4 860.4 538.0 859.2 538.6 858.0C539.2 856.8 539.8 855.6 540.4 854.4C541.0 853.2 541.6 852.0 542.2 850.8C542.8 849.7 543.4 848.5 544.0 847.3C544.7 846.1 545.3 845.0 546.0 843.8C546.7 842.7 547.4 841.5 548.1 840.4C548.7 839.3 549.4 838.1 550.1 837.0C550.8 835.8 551.5 834.7 552.3 833.6C553.0 832.5 553.7 831.3 554.4 830.2C555.2 829.1 556.0 828.0 556.7 827.0C557.5 825.9 558.3 824.8 559.1 823.7C559.9 822.7 560.7 821.6 561.5 820.5C562.3 819.5 563.1 818.4 564.0 817.4C564.8 816.4 565.6 815.3 566.5 814.3C567.4 813.3 568.3 812.4 569.2 811.4C570.2 810.4 571.1 809.5 572.0 808.6C573.0 807.6 573.9 806.7 574.9 805.8C575.9 804.8 576.8 803.9 577.8 803.0C578.8 802.2 579.9 801.3 580.9 800.5C581.9 799.7 583.0 798.9 584.1 798.1C585.2 797.3 586.2 796.5 587.3 795.8C588.4 795.0 589.5 794.2 590.6 793.5C591.8 792.8 592.9 792.2 594.1 791.5C595.3 790.9 596.5 790.4 597.7 789.8C598.9 789.2 600.1 788.6 601.3 788.1C602.5 787.6 603.7 787.0 605.0 786.6C606.2 786.1 607.5 785.6 608.7 785.2C610.0 784.8 611.3 784.5 612.6 784.1C613.8 783.8 615.1 783.5 616.4 783.1C617.7 782.8 619.0 782.5 620.3 782.3C621.6 782.0 622.9 781.8 624.3 781.6C625.6 781.4 626.9 781.2 628.2 781.0C629.5 780.9 630.9 780.7 632.2 780.6C633.5 780.4 634.8 780.3 636.2 780.1C637.5 780.0 638.8 779.9 640.2 779.8C641.5 779.7 642.8 779.7 644.1 779.7C645.5 779.6 646.8 779.6 648.1 779.6C649.5 779.6 650.8 779.6 652.1 779.6C653.5 779.6 654.8 779.6 656.1 779.7C657.5 779.7 658.8 779.7 660.1 779.8C661.5 779.8 662.8 779.9 664.1 780.0C665.4 780.1 666.8 780.2 668.1 780.4C669.4 780.5 670.8 780.6 672.1 780.8C673.4 780.9 674.7 781.0 676.1 781.2C677.4 781.3 678.7 781.5 680.0 781.7C681.3 781.9 682.7 782.1 684.0 782.3C685.3 782.5 686.6 782.8 687.9 783.0C689.2 783.3 690.5 783.5 691.8 783.8C693.1 784.1 694.4 784.3 695.7 784.6C697.1 784.9 698.4 785.1 699.7 785.4C701.0 785.7 702.3 786.0 703.6 786.3C704.9 786.5 706.2 786.8 707.5 787.1C708.8 787.4 710.1 787.7 711.4 788.0C712.7 788.3 714.0 788.7 715.3 789.0C716.6 789.3 717.9 789.6 719.2 789.9C720.5 790.2 721.7 790.5 723.0 790.8C724.3 791.2 725.6 791.5 726.9 791.8C728.2 792.2 729.5 792.5 730.8 792.9C732.1 793.2 733.4 793.6 734.6 793.9C735.9 794.2 737.2 794.6 738.5 794.9C739.8 795.3 741.1 795.7 742.4 796.0C743.6 796.4 744.9 796.8 746.2 797.1C747.5 797.5 748.8 797.9 750.0 798.3C751.3 798.7 752.6 799.1 753.8 799.5C755.1 799.9 756.4 800.3 757.6 800.8C758.9 801.3 760.1 801.7 761.3 802.2C762.6 802.7 763.8 803.2 765.1 803.7C766.3 804.2 767.5 804.8 768.7 805.3C769.9 805.9 771.1 806.5 772.3 807.1C773.5 807.7 774.6 808.3 775.8 809.0C777.0 809.6 778.2 810.3 779.3 810.9C780.5 811.6 781.6 812.2 782.8 812.9C783.9 813.6 785.0 814.3 786.2 815.0C787.3 815.7 788.4 816.5 789.5 817.2C790.7 817.9 791.8 818.6 792.9 819.4C794.0 820.1 795.1 820.9 796.2 821.6C797.3 822.4 798.4 823.2 799.4 823.9C800.5 824.7 801.6 825.5 802.7 826.3C803.7 827.1 804.8 827.9 805.9 828.7C806.9 829.5 808.0 830.4 809.0 831.2C810.0 832.0 811.1 832.9 812.1 833.8C813.1 834.6 814.0 835.5 815.0 836.4C816.0 837.3 817.0 838.2 818.0 839.1C819.0 840.0 820.0 840.9 820.9 841.8C821.9 842.7 822.8 843.6 823.8 844.4C824.7 845.2 826.0 846.4 826.4 846.8" fill="none" stroke="#ff0a85" stroke-width="6.4" stroke-linecap="round" stroke-linejoin="round"/>
<line x1="286" y1="800" x2="286" y2="988" stroke="#000" stroke-width="3"/>
<path d="M286 997 L279 982.3 L286 985.8 L293 982.3 Z" fill="#000" stroke="#000" stroke-width="0.6" stroke-linejoin="round"/>
<line x1="415.7" y1="898" x2="415.7" y2="1255" stroke="#000" stroke-width="3"/>
<path d="M415.7 1264 L408.7 1249.7 L415.7 1253.2 L422.7 1249.7 Z" fill="#000" stroke="#000" stroke-width="0.6" stroke-linejoin="round"/>
<text x="288.5" y="789" font-size="30.3" text-anchor="middle" >3.0 µM</text>
<text x="418" y="888.2" font-size="30.3" text-anchor="middle" >3.0 µM</text>
<text x="286" y="1025" font-size="30.3" text-anchor="middle" >8.0 µM</text>
<text x="429" y="1284" font-size="30.3" text-anchor="middle" >8.0 µM</text>
<rect x="144.8" y="743.8" width="722.5" height="551.2" fill="none" stroke="#000" stroke-width="5" stroke-linejoin="round"/>
<line x1="135.5" y1="749.5" x2="142" y2="749.5" stroke="#000" stroke-width="5" stroke-linecap="round"/>
<text transform="translate(127,759.9) scale(0.96,1)" font-size="39.3" text-anchor="end">2.0µ</text>
<line x1="135.5" y1="848.5" x2="142" y2="848.5" stroke="#000" stroke-width="5" stroke-linecap="round"/>
<text transform="translate(127,858.9) scale(0.96,1)" font-size="39.3" text-anchor="end">3.0µ</text>
<line x1="135.5" y1="947.5" x2="142" y2="947.5" stroke="#000" stroke-width="5" stroke-linecap="round"/>
<text transform="translate(127,957.9) scale(0.96,1)" font-size="39.3" text-anchor="end">4.0µ</text>
<line x1="135.5" y1="1046.5" x2="142" y2="1046.5" stroke="#000" stroke-width="5" stroke-linecap="round"/>
<text transform="translate(127,1056.9) scale(0.96,1)" font-size="39.3" text-anchor="end">5.0µ</text>
<line x1="135.5" y1="1145.5" x2="142" y2="1145.5" stroke="#000" stroke-width="5" stroke-linecap="round"/>
<text transform="translate(127,1155.9) scale(0.96,1)" font-size="39.3" text-anchor="end">6.0µ</text>
<line x1="135.5" y1="1244.5" x2="142" y2="1244.5" stroke="#000" stroke-width="5" stroke-linecap="round"/>
<text transform="translate(127,1254.9) scale(0.96,1)" font-size="39.3" text-anchor="end">7.0µ</text>
<line x1="140.5" y1="799.0" x2="142" y2="799.0" stroke="#000" stroke-width="5" stroke-linecap="round"/>
<line x1="140.5" y1="898.0" x2="142" y2="898.0" stroke="#000" stroke-width="5" stroke-linecap="round"/>
<line x1="140.5" y1="997.0" x2="142" y2="997.0" stroke="#000" stroke-width="5" stroke-linecap="round"/>
<line x1="140.5" y1="1096.0" x2="142" y2="1096.0" stroke="#000" stroke-width="5" stroke-linecap="round"/>
<line x1="140.5" y1="1195.0" x2="142" y2="1195.0" stroke="#000" stroke-width="5" stroke-linecap="round"/>
<line x1="140.5" y1="1295" x2="142" y2="1295" stroke="#000" stroke-width="5" stroke-linecap="round"/>
<line x1="265.0" y1="1298" x2="265.0" y2="1304.3" stroke="#000" stroke-width="5" stroke-linecap="round"/>
<text transform="translate(265.0,1340.4) scale(0.96,1)" font-size="39.3" text-anchor="middle">0.3</text>
<line x1="406.8" y1="1298" x2="406.8" y2="1304.3" stroke="#000" stroke-width="5" stroke-linecap="round"/>
<text transform="translate(406.8,1340.4) scale(0.96,1)" font-size="39.3" text-anchor="middle">0.4</text>
<line x1="548.6" y1="1298" x2="548.6" y2="1304.3" stroke="#000" stroke-width="5" stroke-linecap="round"/>
<text transform="translate(548.6,1340.4) scale(0.96,1)" font-size="39.3" text-anchor="middle">0.5</text>
<line x1="690.4000000000001" y1="1298" x2="690.4000000000001" y2="1304.3" stroke="#000" stroke-width="5" stroke-linecap="round"/>
<text transform="translate(690.4000000000001,1340.4) scale(0.96,1)" font-size="39.3" text-anchor="middle">0.6</text>
<line x1="832.2" y1="1298" x2="832.2" y2="1304.3" stroke="#000" stroke-width="5" stroke-linecap="round"/>
<text transform="translate(832.2,1340.4) scale(0.96,1)" font-size="39.3" text-anchor="middle">0.7</text>
<line x1="194.1" y1="1298" x2="194.1" y2="1299.8" stroke="#000" stroke-width="5" stroke-linecap="round"/>
<line x1="335.9" y1="1298" x2="335.9" y2="1299.8" stroke="#000" stroke-width="5" stroke-linecap="round"/>
<line x1="477.70000000000005" y1="1298" x2="477.70000000000005" y2="1299.8" stroke="#000" stroke-width="5" stroke-linecap="round"/>
<line x1="619.5" y1="1298" x2="619.5" y2="1299.8" stroke="#000" stroke-width="5" stroke-linecap="round"/>
<line x1="761.3000000000001" y1="1298" x2="761.3000000000001" y2="1299.8" stroke="#000" stroke-width="5" stroke-linecap="round"/>
<rect x="161.8" y="1205.7" width="80.3" height="77.1" fill="#fff" stroke="#000" stroke-width="3"/>
<text x="195" y="1274" font-size="83" text-anchor="middle" >d</text>
<text transform="translate(506.75,1408.4) scale(1.037,1)" font-size="40.3" text-anchor="middle">Potential v/s Hg<tspan dy="18.5" font-size="33.5">2</tspan><tspan dy="-18.5">Cl</tspan><tspan dy="18.5" font-size="33.5">2</tspan><tspan dy="-18.5"> (V)</tspan></text>
<text transform="translate(34,998.1) rotate(-90) scale(0.966,1)" font-size="43.6" text-anchor="middle">Current (A)</text>
<rect x="592.6" y="985.6" width="267.0" height="239.89999999999998" fill="#fff" stroke="none"/>
<path d="M604.6 1015.0C605.2 1014.9 607.2 1014.7 608.6 1014.6C609.9 1014.5 611.2 1014.3 612.6 1014.2C613.9 1014.1 615.2 1014.0 616.6 1013.9C617.9 1013.8 619.2 1013.7 620.6 1013.6C621.9 1013.5 623.2 1013.4 624.6 1013.4C625.9 1013.3 627.2 1013.2 628.6 1013.2C629.9 1013.1 631.2 1013.1 632.6 1013.0C633.9 1013.0 635.2 1012.9 636.6 1012.9C637.9 1012.8 639.2 1012.8 640.6 1012.7C641.9 1012.7 643.2 1012.7 644.6 1012.6C645.9 1012.6 647.2 1012.5 648.6 1012.4C649.9 1012.3 651.2 1012.2 652.6 1012.1C653.9 1012.0 655.2 1011.9 656.6 1011.8C657.9 1011.6 659.2 1011.5 660.6 1011.4C661.9 1011.3 663.2 1011.2 664.6 1011.0C665.9 1010.9 667.2 1010.8 668.6 1010.7C669.9 1010.5 671.2 1010.4 672.6 1010.3C673.9 1010.3 675.2 1010.2 676.6 1010.1C677.9 1010.1 679.2 1010.0 680.6 1009.9C681.9 1009.9 683.2 1009.8 684.6 1009.8C685.9 1009.8 687.2 1009.8 688.6 1009.8C689.9 1009.8 691.2 1009.8 692.6 1009.8C693.9 1009.8 695.2 1009.9 696.6 1009.9C697.9 1010.0 699.2 1010.1 700.6 1010.1C701.9 1010.2 703.2 1010.3 704.6 1010.4C705.9 1010.5 707.2 1010.7 708.6 1010.9C709.9 1011.1 711.2 1011.4 712.6 1011.6C713.9 1011.9 715.2 1012.2 716.6 1012.5C717.9 1012.8 719.2 1013.3 720.6 1013.7C721.9 1014.1 723.2 1014.6 724.6 1015.1C725.9 1015.5 727.2 1016.0 728.6 1016.6C729.9 1017.1 731.2 1017.7 732.6 1018.3C733.9 1018.9 735.2 1019.5 736.6 1020.0C737.9 1020.6 739.2 1021.2 740.6 1021.7C741.9 1022.3 743.2 1022.9 744.6 1023.4C745.9 1023.9 747.2 1024.4 748.6 1024.8C749.9 1025.2 751.2 1025.5 752.6 1025.9C753.9 1026.2 755.2 1026.5 756.6 1026.8C757.9 1027.1 759.2 1027.4 760.6 1027.6C761.9 1027.8 763.2 1028.0 764.6 1028.2C765.9 1028.4 767.2 1028.6 768.6 1028.8C769.9 1029.1 771.2 1029.3 772.6 1029.6C773.9 1029.9 775.2 1030.2 776.6 1030.6C777.9 1031.0 779.2 1031.4 780.6 1031.8C781.9 1032.3 783.2 1032.7 784.6 1033.2C785.9 1033.8 787.2 1034.3 788.6 1034.9C789.9 1035.6 791.2 1036.2 792.6 1036.9C793.9 1037.7 795.2 1038.4 796.6 1039.3C797.9 1040.1 799.2 1041.0 800.6 1042.0C801.9 1042.9 803.2 1044.0 804.6 1045.0C805.9 1046.1 807.2 1047.1 808.6 1048.3C809.9 1049.4 811.2 1050.6 812.6 1051.9C813.9 1053.1 815.2 1054.4 816.6 1055.6C817.9 1056.9 819.2 1058.3 820.6 1059.6C821.9 1060.9 823.2 1062.4 824.6 1063.7C825.9 1065.0 827.2 1066.3 828.6 1067.6C829.9 1068.8 831.2 1070.0 832.6 1071.1C833.9 1072.3 835.2 1073.4 836.6 1074.3C837.9 1075.3 839.2 1076.2 840.6 1076.9C841.9 1077.7 844.0 1078.5 844.7 1078.8" fill="none" stroke="#ff0000" stroke-width="3" stroke-linecap="round" stroke-linejoin="round"/>
<path d="M604.6 1083.9C605.1 1083.5 606.6 1082.3 607.6 1081.7C608.6 1081.1 609.6 1080.7 610.6 1080.4C611.6 1080.0 612.6 1079.8 613.6 1079.7C614.6 1079.7 615.6 1079.7 616.6 1080.0C617.6 1080.3 618.6 1080.8 619.6 1081.6C620.6 1082.3 621.6 1083.4 622.6 1084.6C623.6 1085.8 624.6 1087.3 625.6 1088.9C626.6 1090.5 627.6 1092.2 628.6 1094.1C629.6 1095.9 630.6 1097.9 631.6 1099.9C632.6 1101.9 633.6 1104.2 634.6 1106.1C635.6 1108.0 636.6 1109.9 637.6 1111.4C638.6 1112.9 639.6 1114.3 640.6 1115.4C641.6 1116.4 642.6 1117.0 643.6 1117.6C644.6 1118.2 645.6 1118.6 646.6 1118.9C647.6 1119.1 648.6 1119.5 649.6 1119.2C650.6 1118.9 651.6 1118.1 652.6 1117.3C653.6 1116.5 654.6 1115.3 655.6 1114.3C656.6 1113.4 657.6 1112.2 658.6 1111.5C659.6 1110.8 660.6 1110.2 661.6 1110.0C662.6 1109.9 663.6 1109.8 664.6 1110.4C665.6 1111.0 666.6 1111.9 667.6 1113.6C668.6 1115.3 669.6 1117.7 670.6 1120.5C671.6 1123.4 672.6 1127.0 673.6 1130.7C674.6 1134.5 675.6 1138.7 676.6 1143.0C677.6 1147.3 678.6 1152.1 679.6 1156.5C680.6 1160.9 681.6 1165.4 682.6 1169.4C683.6 1173.4 684.6 1177.2 685.6 1180.6C686.6 1183.9 687.6 1187.1 688.6 1189.5C689.6 1191.9 690.6 1193.6 691.6 1194.8C692.6 1196.1 693.6 1196.7 694.6 1196.8C695.6 1196.9 696.6 1196.5 697.6 1195.3C698.6 1194.2 699.6 1192.5 700.6 1189.9C701.6 1187.2 702.6 1183.4 703.6 1179.4C704.6 1175.3 705.6 1170.4 706.6 1165.5C707.6 1160.7 708.6 1155.3 709.6 1150.3C710.6 1145.3 711.6 1140.1 712.6 1135.7C713.6 1131.3 714.6 1127.5 715.6 1123.9C716.6 1120.3 717.6 1117.1 718.6 1114.1C719.6 1111.1 720.6 1108.3 721.6 1105.8C722.6 1103.3 723.6 1101.0 724.6 1098.8C725.6 1096.7 726.6 1094.9 727.6 1093.1C728.6 1091.2 729.6 1089.6 730.6 1087.9C731.6 1086.2 732.6 1084.5 733.6 1082.8C734.6 1081.2 735.6 1079.6 736.6 1078.1C737.6 1076.6 738.6 1075.2 739.6 1073.8C740.6 1072.5 741.6 1071.2 742.6 1070.0C743.6 1068.9 744.6 1067.7 745.6 1066.7C746.6 1065.7 747.6 1064.8 748.6 1063.9C749.6 1063.1 750.6 1062.4 751.6 1061.7C752.6 1061.0 753.6 1060.3 754.6 1059.8C755.6 1059.3 756.6 1058.8 757.6 1058.4C758.6 1058.0 759.6 1057.7 760.6 1057.4C761.6 1057.1 762.6 1056.9 763.6 1056.6C764.6 1056.4 765.6 1056.2 766.6 1056.0C767.6 1055.9 768.6 1055.8 769.6 1055.7C770.6 1055.5 771.6 1055.5 772.6 1055.4C773.6 1055.3 774.6 1055.2 775.6 1055.2C776.6 1055.1 777.6 1055.1 778.6 1055.1C779.6 1055.0 780.6 1055.0 781.6 1055.1C782.6 1055.1 783.6 1055.1 784.6 1055.2C785.6 1055.3 786.6 1055.3 787.6 1055.4C788.6 1055.5 789.6 1055.7 790.6 1055.8C791.6 1055.9 792.6 1056.0 793.6 1056.1C794.6 1056.2 795.6 1056.3 796.6 1056.5C797.6 1056.6 798.6 1056.8 799.6 1056.9C800.6 1057.1 801.6 1057.2 802.6 1057.4C803.6 1057.6 804.6 1057.8 805.6 1058.0C806.6 1058.2 807.6 1058.4 808.6 1058.6C809.6 1058.8 810.6 1059.1 811.6 1059.3C812.6 1059.5 813.6 1059.8 814.6 1060.1C815.6 1060.3 816.6 1060.6 817.6 1060.9C818.6 1061.3 819.6 1061.6 820.6 1062.0C821.6 1062.3 822.6 1062.7 823.6 1063.2C824.6 1063.7 825.6 1064.2 826.6 1064.8C827.6 1065.3 828.6 1066.0 829.6 1066.6C830.6 1067.2 831.6 1067.8 832.6 1068.4C833.6 1069.0 834.6 1069.6 835.6 1070.2C836.6 1070.9 837.6 1071.5 838.6 1072.1C839.6 1072.8 840.5 1073.4 841.6 1074.1C842.6 1074.7 844.2 1075.5 844.7 1075.8" fill="none" stroke="#0000ff" stroke-width="3" stroke-linecap="round" stroke-linejoin="round"/>
<rect x="592.6" y="985.6" width="267.0" height="239.89999999999998" fill="none" stroke="#000" stroke-width="2.5"/>
<line x1="587.5" y1="985.6" x2="592.6" y2="985.6" stroke="#000" stroke-width="2.5" stroke-linecap="butt"/>
<text transform="translate(586.2,991.4) scale(1.12,1)" font-size="19" text-anchor="end">0.0</text>
<line x1="587.5" y1="1045.575" x2="592.6" y2="1045.575" stroke="#000" stroke-width="2.5" stroke-linecap="butt"/>
<text transform="translate(586.2,1051.375) scale(1.12,1)" font-size="19" text-anchor="end">2.0µ</text>
<line x1="587.5" y1="1105.55" x2="592.6" y2="1105.55" stroke="#000" stroke-width="2.5" stroke-linecap="butt"/>
<text transform="translate(586.2,1111.35) scale(1.12,1)" font-size="19" text-anchor="end">4.0µ</text>
<line x1="587.5" y1="1165.525" x2="592.6" y2="1165.525" stroke="#000" stroke-width="2.5" stroke-linecap="butt"/>
<text transform="translate(586.2,1171.325) scale(1.12,1)" font-size="19" text-anchor="end">6.0µ</text>
<line x1="587.5" y1="1225.5" x2="592.6" y2="1225.5" stroke="#000" stroke-width="2.5" stroke-linecap="butt"/>
<text transform="translate(586.2,1231.3) scale(1.12,1)" font-size="19" text-anchor="end">8.0µ</text>
<line x1="589.5" y1="1015.5875" x2="592.6" y2="1015.5875" stroke="#000" stroke-width="2.5" stroke-linecap="butt"/>
<line x1="589.5" y1="1075.5625" x2="592.6" y2="1075.5625" stroke="#000" stroke-width="2.5" stroke-linecap="butt"/>
<line x1="589.5" y1="1135.5375" x2="592.6" y2="1135.5375" stroke="#000" stroke-width="2.5" stroke-linecap="butt"/>
<line x1="589.5" y1="1195.5125" x2="592.6" y2="1195.5125" stroke="#000" stroke-width="2.5" stroke-linecap="butt"/>
<line x1="636.7" y1="1225.5" x2="636.7" y2="1230.5" stroke="#000" stroke-width="2.5" stroke-linecap="butt"/>
<text transform="translate(636.7,1248) scale(1.15,1)" font-size="19" text-anchor="middle">0.3</text>
<line x1="689.0" y1="1225.5" x2="689.0" y2="1230.5" stroke="#000" stroke-width="2.5" stroke-linecap="butt"/>
<text transform="translate(689.0,1248) scale(1.15,1)" font-size="19" text-anchor="middle">0.4</text>
<line x1="741.3000000000001" y1="1225.5" x2="741.3000000000001" y2="1230.5" stroke="#000" stroke-width="2.5" stroke-linecap="butt"/>
<text transform="translate(741.3000000000001,1248) scale(1.15,1)" font-size="19" text-anchor="middle">0.5</text>
<line x1="793.6" y1="1225.5" x2="793.6" y2="1230.5" stroke="#000" stroke-width="2.5" stroke-linecap="butt"/>
<text transform="translate(793.6,1248) scale(1.15,1)" font-size="19" text-anchor="middle">0.6</text>
<line x1="845.9000000000001" y1="1225.5" x2="845.9000000000001" y2="1230.5" stroke="#000" stroke-width="2.5" stroke-linecap="butt"/>
<text transform="translate(845.9000000000001,1248) scale(1.15,1)" font-size="19" text-anchor="middle">0.7</text>
<line x1="610.5500000000001" y1="1225.5" x2="610.5500000000001" y2="1228.5" stroke="#000" stroke-width="2.5" stroke-linecap="butt"/>
<line x1="662.85" y1="1225.5" x2="662.85" y2="1228.5" stroke="#000" stroke-width="2.5" stroke-linecap="butt"/>
<line x1="715.1500000000001" y1="1225.5" x2="715.1500000000001" y2="1228.5" stroke="#000" stroke-width="2.5" stroke-linecap="butt"/>
<line x1="767.45" y1="1225.5" x2="767.45" y2="1228.5" stroke="#000" stroke-width="2.5" stroke-linecap="butt"/>
<line x1="819.75" y1="1225.5" x2="819.75" y2="1228.5" stroke="#000" stroke-width="2.5" stroke-linecap="butt"/>
<rect x="777.3" y="1156" width="71.7" height="60.2" fill="#fff" stroke="#000" stroke-width="3"/>
<text x="813" y="1208.3" font-size="86" text-anchor="middle" >c</text>
<text x="697.6" y="1034.3" font-size="28" text-anchor="middle" >a</text>
<text x="732" y="1139.6" font-size="26" text-anchor="middle" >b</text>
<text x="640.2" y="1138.9" font-size="21" text-anchor="middle" >UA</text>
<text x="699.4" y="1216.4" font-size="21" text-anchor="middle" >FLFT</text>
<text transform="translate(595.6,1278.3) scale(1.09,1)" font-size="22.7" text-anchor="start">Potential v/s Hg<tspan dy="5.5" font-size="20">2</tspan><tspan dy="-5.5">Cl</tspan><tspan dy="5.5" font-size="20">2</tspan><tspan dy="-5.5"> (V)</tspan></text>
<text transform="translate(530,1109) rotate(-90)" font-size="22.9" text-anchor="middle">Current (A)</text>
<line x1="603" y1="1290" x2="606.5" y2="1290" stroke="#888" stroke-width="1.2"/>
<line x1="834.5" y1="1290" x2="840" y2="1290" stroke="#33f" stroke-width="1.2"/>
<line x1="857" y1="1290" x2="862" y2="1290" stroke="#f4a" stroke-width="1.2"/>
<defs><radialGradient id="hlr"><stop offset="0" stop-color="#fff" stop-opacity="1"/><stop offset="0.25" stop-color="#fff" stop-opacity="1"/><stop offset="0.3" stop-color="#fff" stop-opacity="0.7"/><stop offset="0.55" stop-color="#fff" stop-opacity="0.6"/><stop offset="0.6" stop-color="#fff" stop-opacity="0.4"/><stop offset="0.8" stop-color="#fff" stop-opacity="0.35"/><stop offset="0.85" stop-color="#fff" stop-opacity="0.2"/><stop offset="1" stop-color="#fff" stop-opacity="0.2"/></radialGradient></defs>
<line x1="1110.5" y1="1099.6" x2="1110.5" y2="1118.2" stroke="#000" stroke-width="3"/>
<line x1="1229.5" y1="1021.8" x2="1229.5" y2="1042.5" stroke="#000" stroke-width="3"/>
<line x1="1348.5" y1="947.8" x2="1348.5" y2="971.5" stroke="#000" stroke-width="3"/>
<line x1="1467.0" y1="891.0" x2="1467.0" y2="917.4" stroke="#000" stroke-width="3"/>
<line x1="1586.0" y1="856.1" x2="1586.0" y2="884.3" stroke="#000" stroke-width="3"/>
<line x1="1705.0" y1="822.0" x2="1705.0" y2="852.0" stroke="#000" stroke-width="3"/>
<circle cx="1110.5" cy="1108.7" r="14" fill="#ff0000"/>
<circle cx="1106.3" cy="1104.5" r="7.5" fill="url(#hl)"/>
<circle cx="1229.5" cy="1032.1" r="14" fill="#ff0000"/>
<circle cx="1225.3" cy="1027.9" r="7.5" fill="url(#hl)"/>
<circle cx="1348.5" cy="959.0" r="14" fill="#ff0000"/>
<circle cx="1344.3" cy="954.8" r="7.5" fill="url(#hl)"/>
<circle cx="1467.0" cy="903.5" r="14" fill="#ff0000"/>
<circle cx="1462.8" cy="899.3" r="7.5" fill="url(#hl)"/>
<circle cx="1586.0" cy="870.0" r="14" fill="#ff0000"/>
<circle cx="1581.8" cy="865.8" r="7.5" fill="url(#hl)"/>
<circle cx="1705.0" cy="836.5" r="14" fill="#ff0000"/>
<circle cx="1700.8" cy="832.3" r="7.5" fill="url(#hl)"/>
<line x1="1099.8" y1="1099.6" x2="1121.2" y2="1099.6" stroke="#000" stroke-width="3.6" stroke-linecap="round"/>
<line x1="1099.8" y1="1118.2" x2="1121.2" y2="1118.2" stroke="#000" stroke-width="3.6" stroke-linecap="round"/>
<line x1="1218.8" y1="1021.8" x2="1240.2" y2="1021.8" stroke="#000" stroke-width="3.6" stroke-linecap="round"/>
<line x1="1218.8" y1="1042.5" x2="1240.2" y2="1042.5" stroke="#000" stroke-width="3.6" stroke-linecap="round"/>
<line x1="1337.8" y1="947.8" x2="1359.2" y2="947.8" stroke="#000" stroke-width="3.6" stroke-linecap="round"/>
<line x1="1337.8" y1="971.5" x2="1359.2" y2="971.5" stroke="#000" stroke-width="3.6" stroke-linecap="round"/>
<line x1="1456.3" y1="891.0" x2="1477.7" y2="891.0" stroke="#000" stroke-width="3.6" stroke-linecap="round"/>
<line x1="1456.3" y1="917.4" x2="1477.7" y2="917.4" stroke="#000" stroke-width="3.6" stroke-linecap="round"/>
<line x1="1575.3" y1="856.1" x2="1596.7" y2="856.1" stroke="#000" stroke-width="3.6" stroke-linecap="round"/>
<line x1="1575.3" y1="884.3" x2="1596.7" y2="884.3" stroke="#000" stroke-width="3.6" stroke-linecap="round"/>
<line x1="1694.3" y1="822.0" x2="1715.7" y2="822.0" stroke="#000" stroke-width="3.6" stroke-linecap="round"/>
<line x1="1694.3" y1="852.0" x2="1715.7" y2="852.0" stroke="#000" stroke-width="3.6" stroke-linecap="round"/>
<circle cx="1110.5" cy="1251.0" r="14" fill="#0000ff"/>
<circle cx="1106.3" cy="1246.8" r="7.5" fill="url(#hl)"/>
<circle cx="1229.3" cy="1226.2" r="14" fill="#0000ff"/>
<circle cx="1225.1" cy="1222.0" r="7.5" fill="url(#hl)"/>
<circle cx="1348.1" cy="1195.3" r="14" fill="#0000ff"/>
<circle cx="1343.9" cy="1191.1" r="7.5" fill="url(#hl)"/>
<circle cx="1466.9" cy="1161.5" r="14" fill="#0000ff"/>
<circle cx="1462.7" cy="1157.3" r="7.5" fill="url(#hl)"/>
<circle cx="1585.6" cy="1113.6" r="14" fill="#0000ff"/>
<circle cx="1581.4" cy="1109.4" r="7.5" fill="url(#hl)"/>
<circle cx="1704.4" cy="1072.4" r="14" fill="#0000ff"/>
<circle cx="1700.2" cy="1068.2" r="7.5" fill="url(#hl)"/>
<line x1="1053" y1="1122.8" x2="1762" y2="782.5" stroke="#000" stroke-width="2.7"/>
<rect x="1051.2" y="750" width="713.0999999999999" height="551.8" fill="none" stroke="#000" stroke-width="5.5" stroke-linejoin="round"/>
<line x1="1040.7" y1="750.0" x2="1048" y2="750.0" stroke="#000" stroke-width="5" stroke-linecap="round"/>
<text x="1032.5" y="762.4" font-size="42.2" text-anchor="end" >8.0µ</text>
<line x1="1040.7" y1="933.9300000000001" x2="1048" y2="933.9300000000001" stroke="#000" stroke-width="5" stroke-linecap="round"/>
<text x="1032.5" y="946.33" font-size="42.2" text-anchor="end" >6.0µ</text>
<line x1="1040.7" y1="1117.8600000000001" x2="1048" y2="1117.8600000000001" stroke="#000" stroke-width="5" stroke-linecap="round"/>
<text x="1032.5" y="1130.2600000000002" font-size="42.2" text-anchor="end" >4.0µ</text>
<line x1="1040.7" y1="1301.79" x2="1048" y2="1301.79" stroke="#000" stroke-width="5" stroke-linecap="round"/>
<text x="1032.5" y="1314.19" font-size="42.2" text-anchor="end" >2.0µ</text>
<line x1="1046" y1="841.965" x2="1048" y2="841.965" stroke="#000" stroke-width="5" stroke-linecap="round"/>
<line x1="1046" y1="1025.895" x2="1048" y2="1025.895" stroke="#000" stroke-width="5" stroke-linecap="round"/>
<line x1="1046" y1="1209.825" x2="1048" y2="1209.825" stroke="#000" stroke-width="5" stroke-linecap="round"/>
<line x1="1229.2" y1="1304.5" x2="1229.2" y2="1312" stroke="#000" stroke-width="5" stroke-linecap="round"/>
<text x="1229.7" y="1351.2" font-size="42.2" text-anchor="middle" >4.0µ</text>
<line x1="1466.6000000000001" y1="1304.5" x2="1466.6000000000001" y2="1312" stroke="#000" stroke-width="5" stroke-linecap="round"/>
<text x="1467.1000000000001" y="1351.2" font-size="42.2" text-anchor="middle" >6.0µ</text>
<line x1="1704.0" y1="1304.5" x2="1704.0" y2="1312" stroke="#000" stroke-width="5" stroke-linecap="round"/>
<text x="1704.5" y="1351.2" font-size="42.2" text-anchor="middle" >8.0µ</text>
<line x1="1110.5" y1="1304.5" x2="1110.5" y2="1307.5" stroke="#000" stroke-width="5" stroke-linecap="round"/>
<line x1="1347.9" y1="1304.5" x2="1347.9" y2="1307.5" stroke="#000" stroke-width="5" stroke-linecap="round"/>
<line x1="1585.3000000000002" y1="1304.5" x2="1585.3000000000002" y2="1307.5" stroke="#000" stroke-width="5" stroke-linecap="round"/>
<rect x="1069" y="766.5" width="80.4" height="77.5" fill="#fff" stroke="#000" stroke-width="3"/>
<text x="1110.5" y="826.8" font-size="86.5" text-anchor="middle" >e</text>
<text x="1597" y="939.4" font-size="35.3" text-anchor="middle" >For FLFT</text>
<text x="1434.3" y="1242.7" font-size="35" text-anchor="middle" >For UA</text>
<text transform="translate(1408.25,1421.8) scale(1.03,1)" font-size="43.4" text-anchor="middle" textLength="367" lengthAdjust="spacing">Concentration (M)</text>
<text transform="translate(913,1123.2) rotate(-90) scale(0.973,1)" font-size="48.7" text-anchor="start">I<tspan dy="19" font-size="38.6">pa</tspan><tspan dy="-19"> (A)</tspan></text>
</svg>
</body></html>
